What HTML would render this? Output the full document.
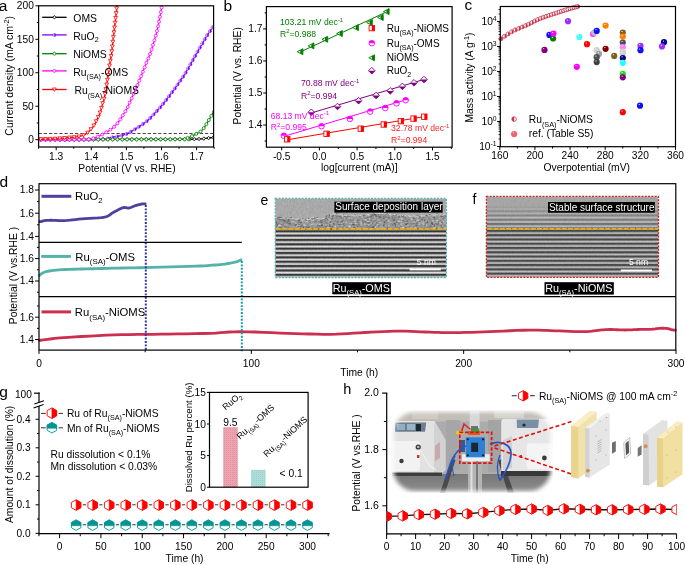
<!DOCTYPE html>
<html><head><meta charset="utf-8"><style>
html,body{margin:0;padding:0;background:#fff;}
svg{display:block;filter:blur(0.35px);font-family:"Liberation Sans",sans-serif;}
</style></head><body>
<svg width="685" height="565" viewBox="0 0 685 565">
<rect width="685" height="565" fill="#fff"/>
<defs><clipPath id="clipA"><rect x="38.6" y="5.8" width="175.0" height="141.2"/></clipPath></defs>
<line x1="38.60" y1="133.50" x2="213.60" y2="133.50" stroke="#333" stroke-width="0.9" stroke-dasharray="3.2,2"/>
<g clip-path="url(#clipA)">
<path d="M38.65,139.57 L46.35,139.55 L56.76,139.54 L69.24,139.52 L83.16,139.50 L97.88,139.48 L112.78,139.46 L127.22,139.44 L140.58,139.41 L152.22,139.39 L161.50,139.37 L168.64,139.35 L174.42,139.34 L179.03,139.34 L182.70,139.34 L185.63,139.33 L188.04,139.32 L190.12,139.29 L192.11,139.25 L194.20,139.19 L196.60,139.10 L199.14,138.97 L201.51,138.81 L203.71,138.61 L205.73,138.40 L207.57,138.18 L209.24,137.96 L210.73,137.75 L212.04,137.56 L213.18,137.40 L214.15,137.29" fill="none" stroke="#000000" stroke-width="1.3" stroke-linejoin="round" stroke-linecap="round"/>
<path d="M40.65,137.76 L42.15,139.56 L40.65,141.36 L39.15,139.56Z" fill="#fff" stroke="#000000" stroke-width="0.8"/>
<path d="M45.45,137.76 L46.95,139.56 L45.45,141.36 L43.95,139.56Z" fill="#fff" stroke="#000000" stroke-width="0.8"/>
<path d="M50.25,137.75 L51.75,139.55 L50.25,141.35 L48.75,139.55Z" fill="#fff" stroke="#000000" stroke-width="0.8"/>
<path d="M55.05,137.74 L56.55,139.54 L55.05,141.34 L53.55,139.54Z" fill="#fff" stroke="#000000" stroke-width="0.8"/>
<path d="M59.85,137.74 L61.35,139.54 L59.85,141.34 L58.35,139.54Z" fill="#fff" stroke="#000000" stroke-width="0.8"/>
<path d="M64.65,137.73 L66.15,139.53 L64.65,141.33 L63.15,139.53Z" fill="#fff" stroke="#000000" stroke-width="0.8"/>
<path d="M69.45,137.72 L70.95,139.52 L69.45,141.32 L67.95,139.52Z" fill="#fff" stroke="#000000" stroke-width="0.8"/>
<path d="M74.25,137.72 L75.75,139.52 L74.25,141.32 L72.75,139.52Z" fill="#fff" stroke="#000000" stroke-width="0.8"/>
<path d="M79.05,137.71 L80.55,139.51 L79.05,141.31 L77.55,139.51Z" fill="#fff" stroke="#000000" stroke-width="0.8"/>
<path d="M83.85,137.70 L85.35,139.50 L83.85,141.30 L82.35,139.50Z" fill="#fff" stroke="#000000" stroke-width="0.8"/>
<path d="M88.65,137.70 L90.15,139.50 L88.65,141.30 L87.15,139.50Z" fill="#fff" stroke="#000000" stroke-width="0.8"/>
<path d="M93.45,137.69 L94.95,139.49 L93.45,141.29 L91.95,139.49Z" fill="#fff" stroke="#000000" stroke-width="0.8"/>
<path d="M98.25,137.68 L99.75,139.48 L98.25,141.28 L96.75,139.48Z" fill="#fff" stroke="#000000" stroke-width="0.8"/>
<path d="M103.05,137.67 L104.55,139.47 L103.05,141.27 L101.55,139.47Z" fill="#fff" stroke="#000000" stroke-width="0.8"/>
<path d="M107.85,137.67 L109.35,139.47 L107.85,141.27 L106.35,139.47Z" fill="#fff" stroke="#000000" stroke-width="0.8"/>
<path d="M112.65,137.66 L114.15,139.46 L112.65,141.26 L111.15,139.46Z" fill="#fff" stroke="#000000" stroke-width="0.8"/>
<path d="M117.45,137.65 L118.95,139.45 L117.45,141.25 L115.95,139.45Z" fill="#fff" stroke="#000000" stroke-width="0.8"/>
<path d="M122.25,137.64 L123.75,139.44 L122.25,141.24 L120.75,139.44Z" fill="#fff" stroke="#000000" stroke-width="0.8"/>
<path d="M127.05,137.64 L128.55,139.44 L127.05,141.24 L125.55,139.44Z" fill="#fff" stroke="#000000" stroke-width="0.8"/>
<path d="M131.85,137.63 L133.35,139.43 L131.85,141.23 L130.35,139.43Z" fill="#fff" stroke="#000000" stroke-width="0.8"/>
<path d="M136.65,137.62 L138.15,139.42 L136.65,141.22 L135.15,139.42Z" fill="#fff" stroke="#000000" stroke-width="0.8"/>
<path d="M141.45,137.61 L142.95,139.41 L141.45,141.21 L139.95,139.41Z" fill="#fff" stroke="#000000" stroke-width="0.8"/>
<path d="M146.25,137.60 L147.75,139.40 L146.25,141.20 L144.75,139.40Z" fill="#fff" stroke="#000000" stroke-width="0.8"/>
<path d="M151.05,137.59 L152.55,139.39 L151.05,141.19 L149.55,139.39Z" fill="#fff" stroke="#000000" stroke-width="0.8"/>
<path d="M155.85,137.58 L157.35,139.38 L155.85,141.18 L154.35,139.38Z" fill="#fff" stroke="#000000" stroke-width="0.8"/>
<path d="M160.65,137.57 L162.15,139.37 L160.65,141.17 L159.15,139.37Z" fill="#fff" stroke="#000000" stroke-width="0.8"/>
<path d="M165.45,137.56 L166.95,139.36 L165.45,141.16 L163.95,139.36Z" fill="#fff" stroke="#000000" stroke-width="0.8"/>
<path d="M170.25,137.55 L171.75,139.35 L170.25,141.15 L168.75,139.35Z" fill="#fff" stroke="#000000" stroke-width="0.8"/>
<path d="M175.05,137.54 L176.55,139.34 L175.05,141.14 L173.55,139.34Z" fill="#fff" stroke="#000000" stroke-width="0.8"/>
<path d="M179.85,137.54 L181.35,139.34 L179.85,141.14 L178.35,139.34Z" fill="#fff" stroke="#000000" stroke-width="0.8"/>
<path d="M184.65,137.53 L186.15,139.33 L184.65,141.13 L183.15,139.33Z" fill="#fff" stroke="#000000" stroke-width="0.8"/>
<path d="M189.45,137.50 L190.95,139.30 L189.45,141.10 L187.95,139.30Z" fill="#fff" stroke="#000000" stroke-width="0.8"/>
<path d="M194.25,137.38 L195.75,139.18 L194.25,140.98 L192.75,139.18Z" fill="#fff" stroke="#000000" stroke-width="0.8"/>
<path d="M199.04,137.18 L200.54,138.98 L199.04,140.78 L197.54,138.98Z" fill="#fff" stroke="#000000" stroke-width="0.8"/>
<path d="M203.83,136.80 L205.33,138.60 L203.83,140.40 L202.33,138.60Z" fill="#fff" stroke="#000000" stroke-width="0.8"/>
<path d="M208.60,136.24 L210.10,138.04 L208.60,139.84 L207.10,138.04Z" fill="#fff" stroke="#000000" stroke-width="0.8"/>
<path d="M213.35,135.58 L214.85,137.38 L213.35,139.18 L211.85,137.38Z" fill="#fff" stroke="#000000" stroke-width="0.8"/>
<path d="M38.65,139.90 L42.41,139.88 L47.50,139.85 L53.61,139.83 L60.42,139.80 L67.62,139.76 L74.89,139.72 L81.91,139.66 L88.36,139.58 L93.94,139.48 L98.32,139.37 L101.58,139.22 L104.10,139.04 L105.99,138.85 L107.39,138.63 L108.40,138.41 L109.17,138.17 L109.81,137.94 L110.44,137.71 L111.19,137.49 L112.18,137.29 L113.31,137.10 L114.36,136.92 L115.37,136.75 L116.32,136.58 L117.23,136.41 L118.11,136.24 L118.96,136.07 L119.79,135.88 L120.60,135.69 L121.42,135.48 L122.20,135.28 L122.92,135.08 L123.61,134.89 L124.26,134.69 L124.91,134.48 L125.55,134.25 L126.21,134.00 L126.90,133.71 L127.62,133.38 L128.40,133.00 L129.23,132.58 L130.11,132.10 L131.01,131.59 L131.94,131.04 L132.89,130.46 L133.84,129.87 L134.80,129.26 L135.76,128.65 L136.71,128.04 L137.63,127.45 L138.55,126.86 L139.47,126.27 L140.40,125.68 L141.33,125.08 L142.25,124.48 L143.16,123.86 L144.07,123.23 L144.96,122.58 L145.83,121.91 L146.69,121.22 L147.52,120.51 L148.33,119.77 L149.13,119.02 L149.91,118.25 L150.68,117.46 L151.45,116.66 L152.21,115.85 L152.97,115.04 L153.74,114.21 L154.52,113.39 L155.30,112.56 L156.08,111.72 L156.86,110.88 L157.64,110.02 L158.42,109.16 L159.20,108.29 L159.98,107.40 L160.76,106.51 L161.53,105.60 L162.31,104.69 L163.08,103.76 L163.85,102.81 L164.62,101.86 L165.38,100.90 L166.15,99.92 L166.92,98.94 L167.68,97.95 L168.45,96.94 L169.22,95.93 L169.99,94.91 L170.77,93.88 L171.55,92.84 L172.32,91.79 L173.10,90.73 L173.88,89.67 L174.66,88.59 L175.44,87.51 L176.22,86.41 L177.01,85.31 L177.79,84.20 L178.57,83.09 L179.35,81.97 L180.13,80.86 L180.92,79.73 L181.70,78.60 L182.48,77.45 L183.27,76.28 L184.05,75.08 L184.83,73.87 L185.61,72.62 L186.39,71.33 L187.17,70.01 L187.95,68.65 L188.73,67.27 L189.51,65.88 L190.29,64.47 L191.07,63.07 L191.85,61.66 L192.63,60.27 L193.41,58.89 L194.19,57.51 L195.00,56.10 L195.81,54.68 L196.62,53.26 L197.43,51.84 L198.23,50.45 L199.01,49.09 L199.77,47.77 L200.50,46.50 L201.20,45.30 L201.86,44.17 L202.48,43.10 L203.08,42.07 L203.65,41.09 L204.21,40.15 L204.76,39.22 L205.31,38.31 L205.86,37.41 L206.42,36.51 L206.99,35.59 L207.58,34.67 L208.18,33.76 L208.79,32.86 L209.39,31.96 L210.00,31.08 L210.60,30.20 L211.20,29.34 L211.78,28.49 L212.34,27.65 L212.89,26.82 L213.43,25.98 L213.99,25.10 L214.55,24.21 L215.11,23.32 L215.64,22.46 L216.15,21.64 L216.61,20.88 L217.03,20.21 L217.38,19.64 L217.66,19.19" fill="none" stroke="#8000ff" stroke-width="1.3" stroke-linejoin="round" stroke-linecap="round"/>
<circle cx="40.65" cy="139.89" r="1.5" fill="#8000ff" stroke="#8000ff" stroke-width="0.6"/><rect x="39.15" y="138.39" width="1.50" height="3.00" fill="#fff" opacity="0.6"/>
<circle cx="45.45" cy="139.86" r="1.5" fill="#8000ff" stroke="#8000ff" stroke-width="0.6"/><rect x="43.95" y="138.36" width="1.50" height="3.00" fill="#fff" opacity="0.6"/>
<circle cx="50.25" cy="139.84" r="1.5" fill="#8000ff" stroke="#8000ff" stroke-width="0.6"/><rect x="48.75" y="138.34" width="1.50" height="3.00" fill="#fff" opacity="0.6"/>
<circle cx="55.05" cy="139.82" r="1.5" fill="#8000ff" stroke="#8000ff" stroke-width="0.6"/><rect x="53.55" y="138.32" width="1.50" height="3.00" fill="#fff" opacity="0.6"/>
<circle cx="59.85" cy="139.80" r="1.5" fill="#8000ff" stroke="#8000ff" stroke-width="0.6"/><rect x="58.35" y="138.30" width="1.50" height="3.00" fill="#fff" opacity="0.6"/>
<circle cx="64.65" cy="139.78" r="1.5" fill="#8000ff" stroke="#8000ff" stroke-width="0.6"/><rect x="63.15" y="138.28" width="1.50" height="3.00" fill="#fff" opacity="0.6"/>
<circle cx="69.45" cy="139.75" r="1.5" fill="#8000ff" stroke="#8000ff" stroke-width="0.6"/><rect x="67.95" y="138.25" width="1.50" height="3.00" fill="#fff" opacity="0.6"/>
<circle cx="74.25" cy="139.72" r="1.5" fill="#8000ff" stroke="#8000ff" stroke-width="0.6"/><rect x="72.75" y="138.22" width="1.50" height="3.00" fill="#fff" opacity="0.6"/>
<circle cx="79.05" cy="139.68" r="1.5" fill="#8000ff" stroke="#8000ff" stroke-width="0.6"/><rect x="77.55" y="138.18" width="1.50" height="3.00" fill="#fff" opacity="0.6"/>
<circle cx="83.85" cy="139.63" r="1.5" fill="#8000ff" stroke="#8000ff" stroke-width="0.6"/><rect x="82.35" y="138.13" width="1.50" height="3.00" fill="#fff" opacity="0.6"/>
<circle cx="88.65" cy="139.57" r="1.5" fill="#8000ff" stroke="#8000ff" stroke-width="0.6"/><rect x="87.15" y="138.07" width="1.50" height="3.00" fill="#fff" opacity="0.6"/>
<circle cx="93.45" cy="139.49" r="1.5" fill="#8000ff" stroke="#8000ff" stroke-width="0.6"/><rect x="91.95" y="137.99" width="1.50" height="3.00" fill="#fff" opacity="0.6"/>
<circle cx="98.25" cy="139.37" r="1.5" fill="#8000ff" stroke="#8000ff" stroke-width="0.6"/><rect x="96.75" y="137.87" width="1.50" height="3.00" fill="#fff" opacity="0.6"/>
<circle cx="103.04" cy="139.12" r="1.5" fill="#8000ff" stroke="#8000ff" stroke-width="0.6"/><rect x="101.54" y="137.62" width="1.50" height="3.00" fill="#fff" opacity="0.6"/>
<circle cx="107.80" cy="138.54" r="1.5" fill="#8000ff" stroke="#8000ff" stroke-width="0.6"/><rect x="106.30" y="137.04" width="1.50" height="3.00" fill="#fff" opacity="0.6"/>
<circle cx="112.41" cy="137.25" r="1.5" fill="#8000ff" stroke="#8000ff" stroke-width="0.6"/><rect x="110.91" y="135.75" width="1.50" height="3.00" fill="#fff" opacity="0.6"/>
<circle cx="117.14" cy="136.43" r="1.5" fill="#8000ff" stroke="#8000ff" stroke-width="0.6"/><rect x="115.64" y="134.93" width="1.50" height="3.00" fill="#fff" opacity="0.6"/>
<circle cx="121.82" cy="135.37" r="1.5" fill="#8000ff" stroke="#8000ff" stroke-width="0.6"/><rect x="120.32" y="133.87" width="1.50" height="3.00" fill="#fff" opacity="0.6"/>
<circle cx="126.39" cy="133.92" r="1.5" fill="#8000ff" stroke="#8000ff" stroke-width="0.6"/><rect x="124.89" y="132.42" width="1.50" height="3.00" fill="#fff" opacity="0.6"/>
<circle cx="130.68" cy="131.77" r="1.5" fill="#8000ff" stroke="#8000ff" stroke-width="0.6"/><rect x="129.18" y="130.27" width="1.50" height="3.00" fill="#fff" opacity="0.6"/>
<circle cx="134.78" cy="129.28" r="1.5" fill="#8000ff" stroke="#8000ff" stroke-width="0.6"/><rect x="133.28" y="127.78" width="1.50" height="3.00" fill="#fff" opacity="0.6"/>
<circle cx="138.82" cy="126.69" r="1.5" fill="#8000ff" stroke="#8000ff" stroke-width="0.6"/><rect x="137.32" y="125.19" width="1.50" height="3.00" fill="#fff" opacity="0.6"/>
<circle cx="142.85" cy="124.07" r="1.5" fill="#8000ff" stroke="#8000ff" stroke-width="0.6"/><rect x="141.35" y="122.57" width="1.50" height="3.00" fill="#fff" opacity="0.6"/>
<circle cx="146.70" cy="121.21" r="1.5" fill="#8000ff" stroke="#8000ff" stroke-width="0.6"/><rect x="145.20" y="119.71" width="1.50" height="3.00" fill="#fff" opacity="0.6"/>
<circle cx="150.21" cy="117.94" r="1.5" fill="#8000ff" stroke="#8000ff" stroke-width="0.6"/><rect x="148.71" y="116.44" width="1.50" height="3.00" fill="#fff" opacity="0.6"/>
<circle cx="153.51" cy="114.46" r="1.5" fill="#8000ff" stroke="#8000ff" stroke-width="0.6"/><rect x="152.01" y="112.96" width="1.50" height="3.00" fill="#fff" opacity="0.6"/>
<circle cx="156.79" cy="110.95" r="1.5" fill="#8000ff" stroke="#8000ff" stroke-width="0.6"/><rect x="155.29" y="109.45" width="1.50" height="3.00" fill="#fff" opacity="0.6"/>
<circle cx="160.00" cy="107.38" r="1.5" fill="#8000ff" stroke="#8000ff" stroke-width="0.6"/><rect x="158.50" y="105.88" width="1.50" height="3.00" fill="#fff" opacity="0.6"/>
<circle cx="163.11" cy="103.72" r="1.5" fill="#8000ff" stroke="#8000ff" stroke-width="0.6"/><rect x="161.61" y="102.22" width="1.50" height="3.00" fill="#fff" opacity="0.6"/>
<circle cx="166.11" cy="99.98" r="1.5" fill="#8000ff" stroke="#8000ff" stroke-width="0.6"/><rect x="164.61" y="98.48" width="1.50" height="3.00" fill="#fff" opacity="0.6"/>
<circle cx="169.04" cy="96.17" r="1.5" fill="#8000ff" stroke="#8000ff" stroke-width="0.6"/><rect x="167.54" y="94.67" width="1.50" height="3.00" fill="#fff" opacity="0.6"/>
<circle cx="171.92" cy="92.33" r="1.5" fill="#8000ff" stroke="#8000ff" stroke-width="0.6"/><rect x="170.42" y="90.83" width="1.50" height="3.00" fill="#fff" opacity="0.6"/>
<circle cx="174.76" cy="88.46" r="1.5" fill="#8000ff" stroke="#8000ff" stroke-width="0.6"/><rect x="173.26" y="86.96" width="1.50" height="3.00" fill="#fff" opacity="0.6"/>
<circle cx="177.54" cy="84.55" r="1.5" fill="#8000ff" stroke="#8000ff" stroke-width="0.6"/><rect x="176.04" y="83.05" width="1.50" height="3.00" fill="#fff" opacity="0.6"/>
<circle cx="180.30" cy="80.62" r="1.5" fill="#8000ff" stroke="#8000ff" stroke-width="0.6"/><rect x="178.80" y="79.12" width="1.50" height="3.00" fill="#fff" opacity="0.6"/>
<circle cx="183.01" cy="76.66" r="1.5" fill="#8000ff" stroke="#8000ff" stroke-width="0.6"/><rect x="181.51" y="75.16" width="1.50" height="3.00" fill="#fff" opacity="0.6"/>
<circle cx="185.61" cy="72.63" r="1.5" fill="#8000ff" stroke="#8000ff" stroke-width="0.6"/><rect x="184.11" y="71.13" width="1.50" height="3.00" fill="#fff" opacity="0.6"/>
<circle cx="188.04" cy="68.49" r="1.5" fill="#8000ff" stroke="#8000ff" stroke-width="0.6"/><rect x="186.54" y="66.99" width="1.50" height="3.00" fill="#fff" opacity="0.6"/>
<circle cx="190.39" cy="64.30" r="1.5" fill="#8000ff" stroke="#8000ff" stroke-width="0.6"/><rect x="188.89" y="62.80" width="1.50" height="3.00" fill="#fff" opacity="0.6"/>
<circle cx="192.72" cy="60.11" r="1.5" fill="#8000ff" stroke="#8000ff" stroke-width="0.6"/><rect x="191.22" y="58.61" width="1.50" height="3.00" fill="#fff" opacity="0.6"/>
<circle cx="195.09" cy="55.93" r="1.5" fill="#8000ff" stroke="#8000ff" stroke-width="0.6"/><rect x="193.59" y="54.43" width="1.50" height="3.00" fill="#fff" opacity="0.6"/>
<circle cx="197.47" cy="51.77" r="1.5" fill="#8000ff" stroke="#8000ff" stroke-width="0.6"/><rect x="195.97" y="50.27" width="1.50" height="3.00" fill="#fff" opacity="0.6"/>
<circle cx="199.86" cy="47.60" r="1.5" fill="#8000ff" stroke="#8000ff" stroke-width="0.6"/><rect x="198.36" y="46.10" width="1.50" height="3.00" fill="#fff" opacity="0.6"/>
<circle cx="202.27" cy="43.45" r="1.5" fill="#8000ff" stroke="#8000ff" stroke-width="0.6"/><rect x="200.77" y="41.95" width="1.50" height="3.00" fill="#fff" opacity="0.6"/>
<circle cx="204.71" cy="39.31" r="1.5" fill="#8000ff" stroke="#8000ff" stroke-width="0.6"/><rect x="203.21" y="37.81" width="1.50" height="3.00" fill="#fff" opacity="0.6"/>
<circle cx="207.22" cy="35.23" r="1.5" fill="#8000ff" stroke="#8000ff" stroke-width="0.6"/><rect x="205.72" y="33.73" width="1.50" height="3.00" fill="#fff" opacity="0.6"/>
<circle cx="209.89" cy="31.24" r="1.5" fill="#8000ff" stroke="#8000ff" stroke-width="0.6"/><rect x="208.39" y="29.74" width="1.50" height="3.00" fill="#fff" opacity="0.6"/>
<circle cx="212.59" cy="27.27" r="1.5" fill="#8000ff" stroke="#8000ff" stroke-width="0.6"/><rect x="211.09" y="25.77" width="1.50" height="3.00" fill="#fff" opacity="0.6"/>
<circle cx="215.17" cy="23.22" r="1.5" fill="#8000ff" stroke="#8000ff" stroke-width="0.6"/><rect x="213.67" y="21.72" width="1.50" height="3.00" fill="#fff" opacity="0.6"/>
<path d="M38.65,139.40 L47.36,139.40 L59.29,139.40 L73.64,139.40 L89.62,139.41 L106.44,139.41 L123.31,139.40 L139.45,139.39 L154.06,139.37 L166.35,139.34 L175.54,139.30 L181.71,139.25 L185.74,139.22 L188.00,139.19 L188.87,139.15 L188.72,139.10 L187.95,139.03 L186.92,138.93 L186.01,138.79 L185.60,138.60 L186.07,138.36 L187.12,138.06 L188.18,137.70 L189.25,137.29 L190.33,136.84 L191.39,136.37 L192.43,135.87 L193.45,135.36 L194.43,134.85 L195.37,134.36 L196.25,133.88 L197.06,133.45 L197.78,133.09 L198.45,132.78 L199.09,132.46 L199.70,132.13 L200.30,131.73 L200.93,131.25 L201.59,130.66 L202.30,129.91 L203.09,128.99 L203.98,127.82 L204.94,126.42 L205.97,124.83 L207.04,123.11 L208.12,121.33 L209.19,119.54 L210.22,117.79 L211.20,116.14 L212.10,114.66 L212.89,113.39 L213.59,112.30 L214.24,111.30 L214.84,110.39 L215.39,109.57 L215.89,108.83 L216.34,108.17 L216.74,107.58 L217.09,107.06 L217.40,106.61 L217.66,106.22" fill="none" stroke="#008000" stroke-width="1.3" stroke-linejoin="round" stroke-linecap="round"/>
<circle cx="40.65" cy="139.40" r="1.5" fill="#fff" stroke="#008000" stroke-width="0.8"/>
<circle cx="45.45" cy="139.40" r="1.5" fill="#fff" stroke="#008000" stroke-width="0.8"/>
<circle cx="50.25" cy="139.40" r="1.5" fill="#fff" stroke="#008000" stroke-width="0.8"/>
<circle cx="55.05" cy="139.40" r="1.5" fill="#fff" stroke="#008000" stroke-width="0.8"/>
<circle cx="59.85" cy="139.40" r="1.5" fill="#fff" stroke="#008000" stroke-width="0.8"/>
<circle cx="64.65" cy="139.40" r="1.5" fill="#fff" stroke="#008000" stroke-width="0.8"/>
<circle cx="69.45" cy="139.40" r="1.5" fill="#fff" stroke="#008000" stroke-width="0.8"/>
<circle cx="74.25" cy="139.40" r="1.5" fill="#fff" stroke="#008000" stroke-width="0.8"/>
<circle cx="79.05" cy="139.40" r="1.5" fill="#fff" stroke="#008000" stroke-width="0.8"/>
<circle cx="83.85" cy="139.40" r="1.5" fill="#fff" stroke="#008000" stroke-width="0.8"/>
<circle cx="88.65" cy="139.41" r="1.5" fill="#fff" stroke="#008000" stroke-width="0.8"/>
<circle cx="93.45" cy="139.41" r="1.5" fill="#fff" stroke="#008000" stroke-width="0.8"/>
<circle cx="98.25" cy="139.41" r="1.5" fill="#fff" stroke="#008000" stroke-width="0.8"/>
<circle cx="103.05" cy="139.41" r="1.5" fill="#fff" stroke="#008000" stroke-width="0.8"/>
<circle cx="107.85" cy="139.41" r="1.5" fill="#fff" stroke="#008000" stroke-width="0.8"/>
<circle cx="112.65" cy="139.41" r="1.5" fill="#fff" stroke="#008000" stroke-width="0.8"/>
<circle cx="117.45" cy="139.40" r="1.5" fill="#fff" stroke="#008000" stroke-width="0.8"/>
<circle cx="122.25" cy="139.40" r="1.5" fill="#fff" stroke="#008000" stroke-width="0.8"/>
<circle cx="127.05" cy="139.40" r="1.5" fill="#fff" stroke="#008000" stroke-width="0.8"/>
<circle cx="131.85" cy="139.40" r="1.5" fill="#fff" stroke="#008000" stroke-width="0.8"/>
<circle cx="136.65" cy="139.39" r="1.5" fill="#fff" stroke="#008000" stroke-width="0.8"/>
<circle cx="141.45" cy="139.39" r="1.5" fill="#fff" stroke="#008000" stroke-width="0.8"/>
<circle cx="146.25" cy="139.38" r="1.5" fill="#fff" stroke="#008000" stroke-width="0.8"/>
<circle cx="151.05" cy="139.38" r="1.5" fill="#fff" stroke="#008000" stroke-width="0.8"/>
<circle cx="155.85" cy="139.37" r="1.5" fill="#fff" stroke="#008000" stroke-width="0.8"/>
<circle cx="160.65" cy="139.36" r="1.5" fill="#fff" stroke="#008000" stroke-width="0.8"/>
<circle cx="165.45" cy="139.34" r="1.5" fill="#fff" stroke="#008000" stroke-width="0.8"/>
<circle cx="170.25" cy="139.32" r="1.5" fill="#fff" stroke="#008000" stroke-width="0.8"/>
<circle cx="175.05" cy="139.30" r="1.5" fill="#fff" stroke="#008000" stroke-width="0.8"/>
<circle cx="179.85" cy="139.27" r="1.5" fill="#fff" stroke="#008000" stroke-width="0.8"/>
<circle cx="184.65" cy="139.23" r="1.5" fill="#fff" stroke="#008000" stroke-width="0.8"/>
<circle cx="188.30" cy="139.06" r="1.5" fill="#fff" stroke="#008000" stroke-width="0.8"/>
<circle cx="187.52" cy="137.92" r="1.5" fill="#fff" stroke="#008000" stroke-width="0.8"/>
<circle cx="191.96" cy="136.10" r="1.5" fill="#fff" stroke="#008000" stroke-width="0.8"/>
<circle cx="196.22" cy="133.89" r="1.5" fill="#fff" stroke="#008000" stroke-width="0.8"/>
<circle cx="200.45" cy="131.62" r="1.5" fill="#fff" stroke="#008000" stroke-width="0.8"/>
<circle cx="203.73" cy="128.15" r="1.5" fill="#fff" stroke="#008000" stroke-width="0.8"/>
<circle cx="206.39" cy="124.16" r="1.5" fill="#fff" stroke="#008000" stroke-width="0.8"/>
<circle cx="208.88" cy="120.05" r="1.5" fill="#fff" stroke="#008000" stroke-width="0.8"/>
<circle cx="211.33" cy="115.93" r="1.5" fill="#fff" stroke="#008000" stroke-width="0.8"/>
<circle cx="213.88" cy="111.86" r="1.5" fill="#fff" stroke="#008000" stroke-width="0.8"/>
<circle cx="216.54" cy="107.87" r="1.5" fill="#fff" stroke="#008000" stroke-width="0.8"/>
<path d="M38.65,139.70 L41.54,139.69 L45.47,139.67 L50.20,139.65 L55.47,139.63 L61.03,139.61 L66.62,139.59 L71.99,139.56 L76.89,139.52 L81.08,139.48 L84.28,139.43 L86.55,139.38 L88.16,139.34 L89.23,139.29 L89.88,139.24 L90.22,139.18 L90.37,139.11 L90.43,139.03 L90.53,138.94 L90.78,138.83 L91.30,138.70 L91.99,138.54 L92.69,138.37 L93.39,138.19 L94.09,137.98 L94.78,137.77 L95.46,137.55 L96.13,137.32 L96.78,137.09 L97.40,136.85 L98.00,136.62 L98.57,136.39 L99.11,136.14 L99.63,135.90 L100.12,135.65 L100.61,135.39 L101.08,135.13 L101.55,134.87 L102.02,134.61 L102.50,134.34 L102.99,134.08 L103.49,133.81 L103.99,133.54 L104.49,133.27 L104.99,133.00 L105.49,132.73 L105.99,132.45 L106.48,132.18 L106.96,131.90 L107.44,131.61 L107.90,131.33 L108.36,131.05 L108.80,130.77 L109.24,130.49 L109.66,130.21 L110.09,129.93 L110.51,129.64 L110.92,129.34 L111.34,129.04 L111.76,128.72 L112.18,128.39 L112.61,128.04 L113.04,127.68 L113.48,127.31 L113.91,126.94 L114.34,126.55 L114.77,126.15 L115.19,125.75 L115.60,125.34 L116.00,124.92 L116.40,124.50 L116.78,124.07 L117.14,123.64 L117.50,123.20 L117.85,122.75 L118.19,122.30 L118.53,121.83 L118.87,121.36 L119.21,120.88 L119.56,120.39 L119.91,119.88 L120.26,119.37 L120.62,118.83 L120.98,118.29 L121.34,117.74 L121.70,117.18 L122.06,116.61 L122.42,116.04 L122.77,115.47 L123.13,114.89 L123.49,114.33 L123.85,113.76 L124.21,113.18 L124.58,112.60 L124.95,112.02 L125.32,111.43 L125.68,110.85 L126.03,110.27 L126.37,109.70 L126.69,109.13 L127.00,108.57 L127.27,108.04 L127.51,107.54 L127.73,107.07 L127.93,106.61 L128.13,106.14 L128.34,105.65 L128.55,105.13 L128.79,104.56 L129.07,103.92 L129.38,103.21 L129.74,102.42 L130.14,101.56 L130.56,100.65 L131.00,99.68 L131.46,98.68 L131.93,97.66 L132.41,96.62 L132.88,95.57 L133.35,94.53 L133.81,93.50 L134.25,92.48 L134.70,91.45 L135.15,90.40 L135.60,89.34 L136.05,88.27 L136.51,87.20 L136.96,86.13 L137.41,85.06 L137.85,83.99 L138.30,82.93 L138.75,81.86 L139.20,80.77 L139.65,79.68 L140.10,78.59 L140.55,77.50 L141.00,76.42 L141.44,75.35 L141.87,74.30 L142.28,73.28 L142.69,72.28 L143.07,71.32 L143.44,70.39 L143.80,69.48 L144.15,68.59 L144.49,67.71 L144.83,66.85 L145.16,65.98 L145.50,65.12 L145.85,64.25 L146.20,63.38 L146.55,62.50 L146.91,61.65 L147.28,60.80 L147.64,59.95 L148.01,59.10 L148.37,58.25 L148.73,57.38 L149.10,56.48 L149.46,55.56 L149.81,54.61 L150.16,53.62 L150.51,52.62 L150.86,51.59 L151.21,50.54 L151.55,49.48 L151.89,48.39 L152.24,47.29 L152.58,46.18 L152.93,45.04 L153.29,43.89 L153.65,42.72 L154.02,41.52 L154.39,40.30 L154.77,39.06 L155.15,37.80 L155.52,36.54 L155.89,35.27 L156.24,34.01 L156.58,32.75 L156.90,31.51 L157.20,30.27 L157.49,29.04 L157.76,27.81 L158.03,26.58 L158.28,25.35 L158.53,24.12 L158.77,22.89 L159.01,21.66 L159.26,20.42 L159.50,19.19 L159.75,17.93 L160.00,16.64 L160.25,15.33 L160.51,14.02 L160.75,12.71 L160.99,11.42 L161.22,10.18 L161.44,8.98 L161.64,7.85 L161.82,6.80 L161.98,5.81 L162.13,4.84 L162.27,3.91 L162.39,3.02 L162.50,2.18 L162.61,1.41 L162.70,0.70 L162.78,0.08 L162.84,-0.46 L162.90,-0.90" fill="none" stroke="#ff00ff" stroke-width="1.3" stroke-linejoin="round" stroke-linecap="round"/>
<circle cx="40.65" cy="139.69" r="1.5" fill="#fff" stroke="#ff00ff" stroke-width="0.8"/>
<circle cx="45.45" cy="139.67" r="1.5" fill="#fff" stroke="#ff00ff" stroke-width="0.8"/>
<circle cx="50.25" cy="139.65" r="1.5" fill="#fff" stroke="#ff00ff" stroke-width="0.8"/>
<circle cx="55.05" cy="139.64" r="1.5" fill="#fff" stroke="#ff00ff" stroke-width="0.8"/>
<circle cx="59.85" cy="139.62" r="1.5" fill="#fff" stroke="#ff00ff" stroke-width="0.8"/>
<circle cx="64.65" cy="139.60" r="1.5" fill="#fff" stroke="#ff00ff" stroke-width="0.8"/>
<circle cx="69.45" cy="139.57" r="1.5" fill="#fff" stroke="#ff00ff" stroke-width="0.8"/>
<circle cx="74.25" cy="139.54" r="1.5" fill="#fff" stroke="#ff00ff" stroke-width="0.8"/>
<circle cx="79.05" cy="139.50" r="1.5" fill="#fff" stroke="#ff00ff" stroke-width="0.8"/>
<circle cx="83.85" cy="139.44" r="1.5" fill="#fff" stroke="#ff00ff" stroke-width="0.8"/>
<circle cx="88.65" cy="139.31" r="1.5" fill="#fff" stroke="#ff00ff" stroke-width="0.8"/>
<circle cx="93.25" cy="138.22" r="1.5" fill="#fff" stroke="#ff00ff" stroke-width="0.8"/>
<circle cx="97.80" cy="136.70" r="1.5" fill="#fff" stroke="#ff00ff" stroke-width="0.8"/>
<circle cx="102.10" cy="134.56" r="1.5" fill="#fff" stroke="#ff00ff" stroke-width="0.8"/>
<circle cx="106.31" cy="132.27" r="1.5" fill="#fff" stroke="#ff00ff" stroke-width="0.8"/>
<circle cx="110.38" cy="129.73" r="1.5" fill="#fff" stroke="#ff00ff" stroke-width="0.8"/>
<circle cx="114.13" cy="126.73" r="1.5" fill="#fff" stroke="#ff00ff" stroke-width="0.8"/>
<circle cx="117.44" cy="123.27" r="1.5" fill="#fff" stroke="#ff00ff" stroke-width="0.8"/>
<circle cx="120.25" cy="119.38" r="1.5" fill="#fff" stroke="#ff00ff" stroke-width="0.8"/>
<circle cx="122.85" cy="115.34" r="1.5" fill="#fff" stroke="#ff00ff" stroke-width="0.8"/>
<circle cx="125.41" cy="111.28" r="1.5" fill="#fff" stroke="#ff00ff" stroke-width="0.8"/>
<circle cx="127.73" cy="107.08" r="1.5" fill="#fff" stroke="#ff00ff" stroke-width="0.8"/>
<circle cx="129.63" cy="102.67" r="1.5" fill="#fff" stroke="#ff00ff" stroke-width="0.8"/>
<circle cx="131.63" cy="98.31" r="1.5" fill="#fff" stroke="#ff00ff" stroke-width="0.8"/>
<circle cx="133.61" cy="93.94" r="1.5" fill="#fff" stroke="#ff00ff" stroke-width="0.8"/>
<circle cx="135.52" cy="89.54" r="1.5" fill="#fff" stroke="#ff00ff" stroke-width="0.8"/>
<circle cx="137.38" cy="85.11" r="1.5" fill="#fff" stroke="#ff00ff" stroke-width="0.8"/>
<circle cx="139.23" cy="80.68" r="1.5" fill="#fff" stroke="#ff00ff" stroke-width="0.8"/>
<circle cx="141.07" cy="76.25" r="1.5" fill="#fff" stroke="#ff00ff" stroke-width="0.8"/>
<circle cx="142.88" cy="71.80" r="1.5" fill="#fff" stroke="#ff00ff" stroke-width="0.8"/>
<circle cx="144.64" cy="67.34" r="1.5" fill="#fff" stroke="#ff00ff" stroke-width="0.8"/>
<circle cx="146.40" cy="62.87" r="1.5" fill="#fff" stroke="#ff00ff" stroke-width="0.8"/>
<circle cx="148.28" cy="58.46" r="1.5" fill="#fff" stroke="#ff00ff" stroke-width="0.8"/>
<circle cx="150.03" cy="53.99" r="1.5" fill="#fff" stroke="#ff00ff" stroke-width="0.8"/>
<circle cx="151.56" cy="49.44" r="1.5" fill="#fff" stroke="#ff00ff" stroke-width="0.8"/>
<circle cx="152.99" cy="44.86" r="1.5" fill="#fff" stroke="#ff00ff" stroke-width="0.8"/>
<circle cx="154.40" cy="40.27" r="1.5" fill="#fff" stroke="#ff00ff" stroke-width="0.8"/>
<circle cx="155.77" cy="35.67" r="1.5" fill="#fff" stroke="#ff00ff" stroke-width="0.8"/>
<circle cx="157.02" cy="31.03" r="1.5" fill="#fff" stroke="#ff00ff" stroke-width="0.8"/>
<circle cx="158.08" cy="26.35" r="1.5" fill="#fff" stroke="#ff00ff" stroke-width="0.8"/>
<circle cx="159.02" cy="21.64" r="1.5" fill="#fff" stroke="#ff00ff" stroke-width="0.8"/>
<circle cx="159.94" cy="16.93" r="1.5" fill="#fff" stroke="#ff00ff" stroke-width="0.8"/>
<circle cx="160.84" cy="12.22" r="1.5" fill="#fff" stroke="#ff00ff" stroke-width="0.8"/>
<circle cx="161.70" cy="7.50" r="1.5" fill="#fff" stroke="#ff00ff" stroke-width="0.8"/>
<circle cx="162.43" cy="2.75" r="1.5" fill="#fff" stroke="#ff00ff" stroke-width="0.8"/>
<path d="M38.65,139.16 L39.71,139.14 L41.10,139.10 L42.74,139.06 L44.59,139.02 L46.56,138.97 L48.61,138.91 L50.66,138.85 L52.65,138.78 L54.52,138.71 L56.20,138.63 L57.76,138.54 L59.31,138.43 L60.83,138.32 L62.31,138.19 L63.75,138.07 L65.14,137.94 L66.47,137.82 L67.72,137.70 L68.90,137.59 L69.99,137.49 L70.98,137.41 L71.86,137.34 L72.66,137.28 L73.38,137.22 L74.05,137.17 L74.68,137.12 L75.28,137.06 L75.87,136.99 L76.47,136.92 L77.08,136.82 L77.71,136.71 L78.32,136.60 L78.92,136.48 L79.50,136.35 L80.07,136.21 L80.62,136.07 L81.16,135.91 L81.68,135.76 L82.20,135.59 L82.70,135.42 L83.19,135.24 L83.66,135.06 L84.12,134.87 L84.56,134.68 L84.99,134.48 L85.41,134.27 L85.83,134.04 L86.23,133.80 L86.63,133.55 L87.02,133.27 L87.40,132.97 L87.78,132.65 L88.14,132.31 L88.50,131.95 L88.84,131.59 L89.18,131.21 L89.52,130.83 L89.85,130.46 L90.17,130.09 L90.49,129.72 L90.81,129.38 L91.11,129.04 L91.41,128.70 L91.70,128.37 L91.99,128.04 L92.28,127.70 L92.56,127.34 L92.84,126.98 L93.12,126.59 L93.41,126.18 L93.69,125.73 L93.99,125.26 L94.28,124.77 L94.57,124.26 L94.86,123.74 L95.15,123.22 L95.43,122.70 L95.70,122.19 L95.96,121.69 L96.21,121.22 L96.45,120.77 L96.68,120.34 L96.90,119.91 L97.11,119.50 L97.31,119.09 L97.51,118.68 L97.70,118.28 L97.90,117.86 L98.09,117.44 L98.28,117.00 L98.48,116.56 L98.67,116.10 L98.86,115.65 L99.05,115.18 L99.24,114.72 L99.42,114.25 L99.60,113.78 L99.78,113.31 L99.95,112.85 L100.11,112.38 L100.27,111.93 L100.42,111.47 L100.57,111.01 L100.72,110.55 L100.86,110.09 L101.00,109.64 L101.13,109.18 L101.26,108.73 L101.39,108.28 L101.51,107.83 L101.63,107.39 L101.74,106.96 L101.85,106.54 L101.95,106.12 L102.04,105.69 L102.14,105.27 L102.25,104.84 L102.36,104.40 L102.47,103.95 L102.60,103.48 L102.74,103.02 L102.89,102.57 L103.05,102.12 L103.21,101.67 L103.37,101.21 L103.54,100.72 L103.71,100.20 L103.88,99.63 L104.05,99.01 L104.22,98.32 L104.38,97.59 L104.54,96.81 L104.70,95.99 L104.86,95.13 L105.02,94.22 L105.19,93.28 L105.36,92.30 L105.53,91.27 L105.71,90.20 L105.90,89.09 L106.10,87.90 L106.32,86.64 L106.54,85.30 L106.77,83.92 L107.01,82.51 L107.24,81.09 L107.47,79.67 L107.70,78.28 L107.91,76.92 L108.11,75.63 L108.30,74.38 L108.48,73.15 L108.66,71.94 L108.82,70.74 L108.99,69.56 L109.15,68.40 L109.31,67.25 L109.47,66.13 L109.63,65.01 L109.80,63.91 L109.97,62.86 L110.14,61.87 L110.31,60.92 L110.48,60.00 L110.66,59.08 L110.83,58.14 L111.00,57.16 L111.18,56.12 L111.35,55.01 L111.52,53.80 L111.69,52.50 L111.85,51.11 L112.02,49.67 L112.18,48.17 L112.34,46.62 L112.51,45.04 L112.67,43.44 L112.85,41.83 L113.02,40.21 L113.20,38.61 L113.39,36.98 L113.59,35.32 L113.79,33.63 L114.00,31.92 L114.20,30.20 L114.41,28.48 L114.62,26.77 L114.82,25.08 L115.01,23.42 L115.20,21.80 L115.39,20.19 L115.57,18.57 L115.75,16.94 L115.93,15.33 L116.10,13.74 L116.27,12.19 L116.44,10.70 L116.59,9.27 L116.75,7.92 L116.89,6.67 L117.03,5.49 L117.16,4.35 L117.29,3.26 L117.42,2.23 L117.54,1.27 L117.65,0.39 L117.75,-0.41 L117.84,-1.12 L117.91,-1.73 L117.98,-2.23" fill="none" stroke="#ff0000" stroke-width="1.3" stroke-linejoin="round" stroke-linecap="round"/>
<path d="M40.65,140.91 L42.55,137.61 L38.75,137.61Z" fill="#fff" stroke="#ff0000" stroke-width="0.8"/>
<path d="M45.45,140.80 L47.35,137.50 L43.55,137.50Z" fill="#fff" stroke="#ff0000" stroke-width="0.8"/>
<path d="M50.25,140.66 L52.15,137.36 L48.35,137.36Z" fill="#fff" stroke="#ff0000" stroke-width="0.8"/>
<path d="M55.04,140.48 L56.94,137.18 L53.14,137.18Z" fill="#fff" stroke="#ff0000" stroke-width="0.8"/>
<path d="M59.83,140.19 L61.73,136.89 L57.93,136.89Z" fill="#fff" stroke="#ff0000" stroke-width="0.8"/>
<path d="M64.62,139.79 L66.52,136.49 L62.72,136.49Z" fill="#fff" stroke="#ff0000" stroke-width="0.8"/>
<path d="M69.40,139.34 L71.30,136.04 L67.50,136.04Z" fill="#fff" stroke="#ff0000" stroke-width="0.8"/>
<path d="M74.18,138.96 L76.08,135.66 L72.28,135.66Z" fill="#fff" stroke="#ff0000" stroke-width="0.8"/>
<path d="M78.93,138.27 L80.83,134.97 L77.03,134.97Z" fill="#fff" stroke="#ff0000" stroke-width="0.8"/>
<path d="M83.52,136.91 L85.42,133.61 L81.62,133.61Z" fill="#fff" stroke="#ff0000" stroke-width="0.8"/>
<path d="M87.67,134.54 L89.57,131.24 L85.77,131.24Z" fill="#fff" stroke="#ff0000" stroke-width="0.8"/>
<path d="M90.94,131.03 L92.84,127.73 L89.04,127.73Z" fill="#fff" stroke="#ff0000" stroke-width="0.8"/>
<path d="M93.87,127.24 L95.77,123.94 L91.97,123.94Z" fill="#fff" stroke="#ff0000" stroke-width="0.8"/>
<path d="M96.20,123.05 L98.10,119.75 L94.30,119.75Z" fill="#fff" stroke="#ff0000" stroke-width="0.8"/>
<path d="M98.31,118.74 L100.21,115.44 L96.41,115.44Z" fill="#fff" stroke="#ff0000" stroke-width="0.8"/>
<path d="M100.08,114.28 L101.98,110.98 L98.18,110.98Z" fill="#fff" stroke="#ff0000" stroke-width="0.8"/>
<path d="M101.50,109.69 L103.40,106.39 L99.60,106.39Z" fill="#fff" stroke="#ff0000" stroke-width="0.8"/>
<path d="M102.67,105.04 L104.57,101.74 L100.77,101.74Z" fill="#fff" stroke="#ff0000" stroke-width="0.8"/>
<path d="M104.13,100.47 L106.03,97.17 L102.23,97.17Z" fill="#fff" stroke="#ff0000" stroke-width="0.8"/>
<path d="M105.07,95.76 L106.97,92.46 L103.17,92.46Z" fill="#fff" stroke="#ff0000" stroke-width="0.8"/>
<path d="M105.88,91.03 L107.78,87.73 L103.98,87.73Z" fill="#fff" stroke="#ff0000" stroke-width="0.8"/>
<path d="M106.68,86.30 L108.58,83.00 L104.78,83.00Z" fill="#fff" stroke="#ff0000" stroke-width="0.8"/>
<path d="M107.46,81.56 L109.36,78.26 L105.56,78.26Z" fill="#fff" stroke="#ff0000" stroke-width="0.8"/>
<path d="M108.21,76.82 L110.11,73.52 L106.31,73.52Z" fill="#fff" stroke="#ff0000" stroke-width="0.8"/>
<path d="M108.89,72.07 L110.79,68.77 L106.99,68.77Z" fill="#fff" stroke="#ff0000" stroke-width="0.8"/>
<path d="M109.56,67.31 L111.46,64.01 L107.66,64.01Z" fill="#fff" stroke="#ff0000" stroke-width="0.8"/>
<path d="M110.34,62.58 L112.24,59.28 L108.44,59.28Z" fill="#fff" stroke="#ff0000" stroke-width="0.8"/>
<path d="M111.19,57.85 L113.09,54.55 L109.29,54.55Z" fill="#fff" stroke="#ff0000" stroke-width="0.8"/>
<path d="M111.83,53.10 L113.73,49.80 L109.93,49.80Z" fill="#fff" stroke="#ff0000" stroke-width="0.8"/>
<path d="M112.35,48.33 L114.25,45.03 L110.45,45.03Z" fill="#fff" stroke="#ff0000" stroke-width="0.8"/>
<path d="M112.85,43.55 L114.75,40.25 L110.95,40.25Z" fill="#fff" stroke="#ff0000" stroke-width="0.8"/>
<path d="M113.39,38.78 L115.29,35.48 L111.49,35.48Z" fill="#fff" stroke="#ff0000" stroke-width="0.8"/>
<path d="M113.96,34.02 L115.86,30.72 L112.06,30.72Z" fill="#fff" stroke="#ff0000" stroke-width="0.8"/>
<path d="M114.53,29.25 L116.43,25.95 L112.63,25.95Z" fill="#fff" stroke="#ff0000" stroke-width="0.8"/>
<path d="M115.10,24.49 L117.00,21.19 L113.20,21.19Z" fill="#fff" stroke="#ff0000" stroke-width="0.8"/>
<path d="M115.64,19.72 L117.54,16.42 L113.74,16.42Z" fill="#fff" stroke="#ff0000" stroke-width="0.8"/>
<path d="M116.17,14.95 L118.07,11.65 L114.27,11.65Z" fill="#fff" stroke="#ff0000" stroke-width="0.8"/>
<path d="M116.69,10.17 L118.59,6.87 L114.79,6.87Z" fill="#fff" stroke="#ff0000" stroke-width="0.8"/>
<path d="M117.25,5.41 L119.15,2.11 L115.35,2.11Z" fill="#fff" stroke="#ff0000" stroke-width="0.8"/>
<path d="M117.84,0.64 L119.74,-2.66 L115.94,-2.66Z" fill="#fff" stroke="#ff0000" stroke-width="0.8"/>
</g>
<rect x="38.6" y="5.8" width="175.0" height="141.2" fill="none" stroke="#000" stroke-width="1.2"/>
<line x1="35.40" y1="139.70" x2="38.60" y2="139.70" stroke="#000" stroke-width="1.0"/>
<text x="33.80" y="143.10" font-size="10.2" text-anchor="end" fill="#000">0</text>
<line x1="36.80" y1="122.96" x2="38.60" y2="122.96" stroke="#000" stroke-width="1.0"/>
<line x1="35.40" y1="106.22" x2="38.60" y2="106.22" stroke="#000" stroke-width="1.0"/>
<text x="33.80" y="109.62" font-size="10.2" text-anchor="end" fill="#000">50</text>
<line x1="36.80" y1="89.49" x2="38.60" y2="89.49" stroke="#000" stroke-width="1.0"/>
<line x1="35.40" y1="72.75" x2="38.60" y2="72.75" stroke="#000" stroke-width="1.0"/>
<text x="33.80" y="76.15" font-size="10.2" text-anchor="end" fill="#000">100</text>
<line x1="36.80" y1="56.01" x2="38.60" y2="56.01" stroke="#000" stroke-width="1.0"/>
<line x1="35.40" y1="39.27" x2="38.60" y2="39.27" stroke="#000" stroke-width="1.0"/>
<text x="33.80" y="42.67" font-size="10.2" text-anchor="end" fill="#000">150</text>
<line x1="36.80" y1="22.54" x2="38.60" y2="22.54" stroke="#000" stroke-width="1.0"/>
<line x1="35.40" y1="5.80" x2="38.60" y2="5.80" stroke="#000" stroke-width="1.0"/>
<text x="33.80" y="9.20" font-size="10.2" text-anchor="end" fill="#000">200</text>
<line x1="38.65" y1="147.00" x2="38.65" y2="148.80" stroke="#000" stroke-width="1.0"/>
<line x1="56.20" y1="147.00" x2="56.20" y2="150.20" stroke="#000" stroke-width="1.0"/>
<text x="56.20" y="159.60" font-size="10.2" text-anchor="middle" fill="#000">1.3</text>
<line x1="73.75" y1="147.00" x2="73.75" y2="148.80" stroke="#000" stroke-width="1.0"/>
<line x1="91.30" y1="147.00" x2="91.30" y2="150.20" stroke="#000" stroke-width="1.0"/>
<text x="91.30" y="159.60" font-size="10.2" text-anchor="middle" fill="#000">1.4</text>
<line x1="108.85" y1="147.00" x2="108.85" y2="148.80" stroke="#000" stroke-width="1.0"/>
<line x1="126.40" y1="147.00" x2="126.40" y2="150.20" stroke="#000" stroke-width="1.0"/>
<text x="126.40" y="159.60" font-size="10.2" text-anchor="middle" fill="#000">1.5</text>
<line x1="143.95" y1="147.00" x2="143.95" y2="148.80" stroke="#000" stroke-width="1.0"/>
<line x1="161.50" y1="147.00" x2="161.50" y2="150.20" stroke="#000" stroke-width="1.0"/>
<text x="161.50" y="159.60" font-size="10.2" text-anchor="middle" fill="#000">1.6</text>
<line x1="179.05" y1="147.00" x2="179.05" y2="148.80" stroke="#000" stroke-width="1.0"/>
<line x1="196.60" y1="147.00" x2="196.60" y2="150.20" stroke="#000" stroke-width="1.0"/>
<text x="196.60" y="159.60" font-size="10.2" text-anchor="middle" fill="#000">1.7</text>
<line x1="214.15" y1="147.00" x2="214.15" y2="148.80" stroke="#000" stroke-width="1.0"/>
<text x="127.00" y="172.00" font-size="10.3" text-anchor="middle" fill="#000">Potential (V vs. RHE)</text>
<text x="13.40" y="75.80" font-size="10.5" text-anchor="middle" fill="#000" transform="rotate(-90 13.40 75.80)">Current density (mA cm<tspan font-size="7.3" dy="-3.9">-2</tspan><tspan dy="3.9">)</tspan></text>
<line x1="42.20" y1="17.30" x2="66.60" y2="17.30" stroke="#000000" stroke-width="1.3"/>
<path d="M54.40,15.50 L55.90,17.30 L54.40,19.10 L52.90,17.30Z" fill="#fff" stroke="#000000" stroke-width="0.8"/>
<text x="73.30" y="21.90" font-size="10.4" text-anchor="start" fill="#000">OMS</text>
<line x1="42.20" y1="34.90" x2="66.60" y2="34.90" stroke="#8000ff" stroke-width="1.3"/>
<circle cx="54.40" cy="34.90" r="1.5" fill="#8000ff" stroke="#8000ff" stroke-width="0.6"/><rect x="52.90" y="33.40" width="1.50" height="3.00" fill="#fff" opacity="0.6"/>
<text x="73.30" y="39.50" font-size="10.4" text-anchor="start" fill="#000">RuO<tspan font-size="7.2" dy="2.6">2</tspan></text>
<line x1="42.20" y1="53.70" x2="66.60" y2="53.70" stroke="#008000" stroke-width="1.3"/>
<circle cx="54.40" cy="53.70" r="1.5" fill="#fff" stroke="#008000" stroke-width="0.8"/>
<text x="73.30" y="58.30" font-size="10.4" text-anchor="start" fill="#000">NiOMS</text>
<line x1="42.20" y1="70.90" x2="66.60" y2="70.90" stroke="#ff00ff" stroke-width="1.3"/>
<circle cx="54.40" cy="70.90" r="1.5" fill="#fff" stroke="#ff00ff" stroke-width="0.8"/>
<text x="73.30" y="75.50" font-size="10.4" text-anchor="start" fill="#000">Ru<tspan font-size="7.21" dy="3.40">(SA)</tspan><tspan dy="-3.40">-OMS</tspan></text>
<line x1="42.20" y1="89.50" x2="66.60" y2="89.50" stroke="#ff0000" stroke-width="1.3"/>
<path d="M54.40,91.30 L56.30,88.00 L52.50,88.00Z" fill="#fff" stroke="#ff0000" stroke-width="0.8"/>
<text x="74.40" y="94.10" font-size="10.4" text-anchor="start" fill="#000">Ru<tspan font-size="7.21" dy="3.40">(SA)</tspan><tspan dy="-3.40">-NiOMS</tspan></text>
<text x="-1.20" y="10.80" font-size="15.5" text-anchor="start" fill="#000">a</text>
<line x1="298.50" y1="52.80" x2="388.50" y2="11.00" stroke="#008000" stroke-width="1.0"/>
<path d="M297.20,51.70 L302.90,48.70 L302.90,54.70Z" fill="#fff" stroke="#008000" stroke-width="0.9"/>
<path d="M300.20,50.20 L302.90,48.70 L302.90,54.70 L300.20,53.20Z" fill="#008000"/>
<path d="M308.20,45.90 L313.90,42.90 L313.90,48.90Z" fill="#fff" stroke="#008000" stroke-width="0.9"/>
<path d="M311.20,44.40 L313.90,42.90 L313.90,48.90 L311.20,47.40Z" fill="#008000"/>
<path d="M322.00,39.30 L327.70,36.30 L327.70,42.30Z" fill="#fff" stroke="#008000" stroke-width="0.9"/>
<path d="M325.00,37.80 L327.70,36.30 L327.70,42.30 L325.00,40.80Z" fill="#008000"/>
<path d="M336.60,33.50 L342.30,30.50 L342.30,36.50Z" fill="#fff" stroke="#008000" stroke-width="0.9"/>
<path d="M339.60,32.00 L342.30,30.50 L342.30,36.50 L339.60,35.00Z" fill="#008000"/>
<path d="M352.70,27.60 L358.40,24.60 L358.40,30.60Z" fill="#fff" stroke="#008000" stroke-width="0.9"/>
<path d="M355.70,26.10 L358.40,24.60 L358.40,30.60 L355.70,29.10Z" fill="#008000"/>
<path d="M366.60,22.50 L372.30,19.50 L372.30,25.50Z" fill="#fff" stroke="#008000" stroke-width="0.9"/>
<path d="M369.60,21.00 L372.30,19.50 L372.30,25.50 L369.60,24.00Z" fill="#008000"/>
<path d="M377.50,17.40 L383.20,14.40 L383.20,20.40Z" fill="#fff" stroke="#008000" stroke-width="0.9"/>
<path d="M380.50,15.90 L383.20,14.40 L383.20,20.40 L380.50,18.90Z" fill="#008000"/>
<path d="M383.40,11.60 L389.10,8.60 L389.10,14.60Z" fill="#fff" stroke="#008000" stroke-width="0.9"/>
<path d="M386.40,10.10 L389.10,8.60 L389.10,14.60 L386.40,13.10Z" fill="#008000"/>
<line x1="310.50" y1="113.20" x2="425.50" y2="79.00" stroke="#800080" stroke-width="1.0"/>
<path d="M311.30,109.00 L314.60,112.30 L311.30,115.60 L308.00,112.30Z" fill="#fff" stroke="#800080" stroke-width="0.9"/>
<path d="M308.00,112.30 L314.60,112.30 L311.30,115.60Z" fill="#800080"/>
<path d="M337.50,103.20 L340.80,106.50 L337.50,109.80 L334.20,106.50Z" fill="#fff" stroke="#800080" stroke-width="0.9"/>
<path d="M334.20,106.50 L340.80,106.50 L337.50,109.80Z" fill="#800080"/>
<path d="M358.60,97.40 L361.90,100.70 L358.60,104.00 L355.30,100.70Z" fill="#fff" stroke="#800080" stroke-width="0.9"/>
<path d="M355.30,100.70 L361.90,100.70 L358.60,104.00Z" fill="#800080"/>
<path d="M376.10,92.20 L379.40,95.50 L376.10,98.80 L372.80,95.50Z" fill="#fff" stroke="#800080" stroke-width="0.9"/>
<path d="M372.80,95.50 L379.40,95.50 L376.10,98.80Z" fill="#800080"/>
<path d="M390.20,87.60 L393.50,90.90 L390.20,94.20 L386.90,90.90Z" fill="#fff" stroke="#800080" stroke-width="0.9"/>
<path d="M386.90,90.90 L393.50,90.90 L390.20,94.20Z" fill="#800080"/>
<path d="M402.40,83.10 L405.70,86.40 L402.40,89.70 L399.10,86.40Z" fill="#fff" stroke="#800080" stroke-width="0.9"/>
<path d="M399.10,86.40 L405.70,86.40 L402.40,89.70Z" fill="#800080"/>
<path d="M414.00,79.50 L417.30,82.80 L414.00,86.10 L410.70,82.80Z" fill="#fff" stroke="#800080" stroke-width="0.9"/>
<path d="M410.70,82.80 L417.30,82.80 L414.00,86.10Z" fill="#800080"/>
<path d="M424.00,76.20 L427.30,79.50 L424.00,82.80 L420.70,79.50Z" fill="#fff" stroke="#800080" stroke-width="0.9"/>
<path d="M420.70,79.50 L427.30,79.50 L424.00,82.80Z" fill="#800080"/>
<line x1="282.50" y1="136.80" x2="407.00" y2="99.50" stroke="#ff00ff" stroke-width="1.0"/>
<circle cx="283.80" cy="135.70" r="2.8" fill="#fff" stroke="#ff00ff" stroke-width="0.9"/>
<path d="M281.00,135.70 A2.8,2.8 0 0 1 286.60,135.70Z" fill="#ff00ff"/>
<circle cx="321.50" cy="126.20" r="2.8" fill="#fff" stroke="#ff00ff" stroke-width="0.9"/>
<path d="M318.70,126.20 A2.8,2.8 0 0 1 324.30,126.20Z" fill="#ff00ff"/>
<circle cx="349.90" cy="118.90" r="2.8" fill="#fff" stroke="#ff00ff" stroke-width="0.9"/>
<path d="M347.10,118.90 A2.8,2.8 0 0 1 352.70,118.90Z" fill="#ff00ff"/>
<circle cx="370.20" cy="111.60" r="2.8" fill="#fff" stroke="#ff00ff" stroke-width="0.9"/>
<path d="M367.40,111.60 A2.8,2.8 0 0 1 373.00,111.60Z" fill="#ff00ff"/>
<circle cx="385.30" cy="108.00" r="2.8" fill="#fff" stroke="#ff00ff" stroke-width="0.9"/>
<path d="M382.50,108.00 A2.8,2.8 0 0 1 388.10,108.00Z" fill="#ff00ff"/>
<circle cx="396.50" cy="103.30" r="2.8" fill="#fff" stroke="#ff00ff" stroke-width="0.9"/>
<path d="M393.70,103.30 A2.8,2.8 0 0 1 399.30,103.30Z" fill="#ff00ff"/>
<circle cx="405.70" cy="100.20" r="2.8" fill="#fff" stroke="#ff00ff" stroke-width="0.9"/>
<path d="M402.90,100.20 A2.8,2.8 0 0 1 408.50,100.20Z" fill="#ff00ff"/>
<line x1="286.00" y1="140.00" x2="425.50" y2="116.40" stroke="#ff0000" stroke-width="1.0"/>
<rect x="284.50" y="136.60" width="5.40" height="5.40" fill="#fff" stroke="#ff0000" stroke-width="0.9"/>
<rect x="287.20" y="136.60" width="2.70" height="5.40" fill="#ff0000"/>
<rect x="323.90" y="131.10" width="5.40" height="5.40" fill="#fff" stroke="#ff0000" stroke-width="0.9"/>
<rect x="326.60" y="131.10" width="2.70" height="5.40" fill="#ff0000"/>
<rect x="358.10" y="126.00" width="5.40" height="5.40" fill="#fff" stroke="#ff0000" stroke-width="0.9"/>
<rect x="360.80" y="126.00" width="2.70" height="5.40" fill="#ff0000"/>
<rect x="381.10" y="121.80" width="5.40" height="5.40" fill="#fff" stroke="#ff0000" stroke-width="0.9"/>
<rect x="383.80" y="121.80" width="2.70" height="5.40" fill="#ff0000"/>
<rect x="398.20" y="118.40" width="5.40" height="5.40" fill="#fff" stroke="#ff0000" stroke-width="0.9"/>
<rect x="400.90" y="118.40" width="2.70" height="5.40" fill="#ff0000"/>
<rect x="410.90" y="115.90" width="5.40" height="5.40" fill="#fff" stroke="#ff0000" stroke-width="0.9"/>
<rect x="413.60" y="115.90" width="2.70" height="5.40" fill="#ff0000"/>
<rect x="421.60" y="114.00" width="5.40" height="5.40" fill="#fff" stroke="#ff0000" stroke-width="0.9"/>
<rect x="424.30" y="114.00" width="2.70" height="5.40" fill="#ff0000"/>
<text x="280.00" y="24.80" font-size="8.6" text-anchor="start" fill="#008000">103.21 mV dec<tspan font-size="6" dy="-3.3">-1</tspan></text>
<text x="280.00" y="36.60" font-size="8.6" text-anchor="start" fill="#008000">R<tspan font-size="6" dy="-3.3">2</tspan><tspan dy="3.3">=0.988</tspan></text>
<text x="301.00" y="86.40" font-size="8.6" text-anchor="start" fill="#800080">70.88 mV dec<tspan font-size="6" dy="-3.3">-1</tspan></text>
<text x="301.00" y="98.50" font-size="8.6" text-anchor="start" fill="#800080">R<tspan font-size="6" dy="-3.3">2</tspan><tspan dy="3.3">=0.994</tspan></text>
<text x="270.70" y="118.50" font-size="8.6" text-anchor="start" fill="#ff00ff">68.13 mV dec<tspan font-size="6" dy="-3.3">-1</tspan></text>
<text x="270.70" y="130.20" font-size="8.6" text-anchor="start" fill="#ff00ff">R<tspan font-size="6" dy="-3.3">2</tspan><tspan dy="3.3">=0.995</tspan></text>
<text x="391.10" y="131.30" font-size="8.6" text-anchor="start" fill="#ff2020">32.78 mV dec<tspan font-size="6" dy="-3.3">-1</tspan></text>
<text x="391.10" y="143.00" font-size="8.6" text-anchor="start" fill="#ff2020">R<tspan font-size="6" dy="-3.3">2</tspan><tspan dy="3.3">=0.994</tspan></text>
<rect x="369.10" y="25.40" width="5.40" height="5.40" fill="#fff" stroke="#ff0000" stroke-width="0.9"/>
<rect x="371.80" y="25.40" width="2.70" height="5.40" fill="#ff0000"/>
<text x="386.70" y="31.80" font-size="10" text-anchor="start" fill="#000">Ru<tspan font-size="7.00" dy="3.30">(SA)</tspan><tspan dy="-3.30">-NiOMS</tspan></text>
<circle cx="371.80" cy="43.20" r="2.8" fill="#fff" stroke="#ff00ff" stroke-width="0.9"/>
<path d="M369.00,43.20 A2.8,2.8 0 0 1 374.60,43.20Z" fill="#ff00ff"/>
<text x="386.70" y="46.50" font-size="10" text-anchor="start" fill="#000">Ru<tspan font-size="7.00" dy="3.30">(SA)</tspan><tspan dy="-3.30">-OMS</tspan></text>
<path d="M368.80,57.80 L374.50,54.80 L374.50,60.80Z" fill="#fff" stroke="#008000" stroke-width="0.9"/>
<path d="M371.80,56.30 L374.50,54.80 L374.50,60.80 L371.80,59.30Z" fill="#008000"/>
<text x="386.70" y="61.30" font-size="10" text-anchor="start" fill="#000">NiOMS</text>
<path d="M371.80,67.40 L375.10,70.70 L371.80,74.00 L368.50,70.70Z" fill="#fff" stroke="#800080" stroke-width="0.9"/>
<path d="M368.50,70.70 L375.10,70.70 L371.80,74.00Z" fill="#800080"/>
<text x="386.70" y="73.90" font-size="10" text-anchor="start" fill="#000">RuO<tspan font-size="7" dy="2.6">2</tspan></text>
<rect x="266.4" y="6.6" width="185.70000000000005" height="140.6" fill="none" stroke="#000" stroke-width="1.2"/>
<line x1="264.60" y1="141.01" x2="266.40" y2="141.01" stroke="#000" stroke-width="1.0"/>
<line x1="263.20" y1="125.00" x2="266.40" y2="125.00" stroke="#000" stroke-width="1.0"/>
<text x="262.40" y="128.40" font-size="10.2" text-anchor="end" fill="#000">1.4</text>
<line x1="264.60" y1="108.98" x2="266.40" y2="108.98" stroke="#000" stroke-width="1.0"/>
<line x1="263.20" y1="92.97" x2="266.40" y2="92.97" stroke="#000" stroke-width="1.0"/>
<text x="262.40" y="96.37" font-size="10.2" text-anchor="end" fill="#000">1.5</text>
<line x1="264.60" y1="76.95" x2="266.40" y2="76.95" stroke="#000" stroke-width="1.0"/>
<line x1="263.20" y1="60.94" x2="266.40" y2="60.94" stroke="#000" stroke-width="1.0"/>
<text x="262.40" y="64.34" font-size="10.2" text-anchor="end" fill="#000">1.6</text>
<line x1="264.60" y1="44.92" x2="266.40" y2="44.92" stroke="#000" stroke-width="1.0"/>
<line x1="263.20" y1="28.91" x2="266.40" y2="28.91" stroke="#000" stroke-width="1.0"/>
<text x="262.40" y="32.31" font-size="10.2" text-anchor="end" fill="#000">1.7</text>
<line x1="264.60" y1="12.89" x2="266.40" y2="12.89" stroke="#000" stroke-width="1.0"/>
<line x1="281.70" y1="147.20" x2="281.70" y2="150.40" stroke="#000" stroke-width="1.0"/>
<text x="281.70" y="159.60" font-size="10.2" text-anchor="middle" fill="#000">-0.5</text>
<line x1="300.55" y1="147.20" x2="300.55" y2="149.00" stroke="#000" stroke-width="1.0"/>
<line x1="319.40" y1="147.20" x2="319.40" y2="150.40" stroke="#000" stroke-width="1.0"/>
<text x="319.40" y="159.60" font-size="10.2" text-anchor="middle" fill="#000">0.0</text>
<line x1="338.25" y1="147.20" x2="338.25" y2="149.00" stroke="#000" stroke-width="1.0"/>
<line x1="357.10" y1="147.20" x2="357.10" y2="150.40" stroke="#000" stroke-width="1.0"/>
<text x="357.10" y="159.60" font-size="10.2" text-anchor="middle" fill="#000">0.5</text>
<line x1="375.95" y1="147.20" x2="375.95" y2="149.00" stroke="#000" stroke-width="1.0"/>
<line x1="394.80" y1="147.20" x2="394.80" y2="150.40" stroke="#000" stroke-width="1.0"/>
<text x="394.80" y="159.60" font-size="10.2" text-anchor="middle" fill="#000">1.0</text>
<line x1="413.65" y1="147.20" x2="413.65" y2="149.00" stroke="#000" stroke-width="1.0"/>
<line x1="432.50" y1="147.20" x2="432.50" y2="150.40" stroke="#000" stroke-width="1.0"/>
<text x="432.50" y="159.60" font-size="10.2" text-anchor="middle" fill="#000">1.5</text>
<line x1="451.35" y1="147.20" x2="451.35" y2="149.00" stroke="#000" stroke-width="1.0"/>
<text x="359.30" y="171.40" font-size="10.3" text-anchor="middle" fill="#000">log[current (mA)]</text>
<text x="241.20" y="75.80" font-size="10.3" text-anchor="middle" fill="#000" transform="rotate(-90 241.20 75.80)">Potential (V vs. RHE)</text>
<text x="223.60" y="10.60" font-size="15.5" text-anchor="start" fill="#000">b</text>
<circle cx="500.96" cy="38.75" r="2.0" fill="#fff" stroke="#c8324a" stroke-width="0.75"/>
<path d="M500.96,36.75 A2.0,2.0 0 0 1 500.96,40.75Z" fill="#c8324a"/>
<circle cx="504.55" cy="36.27" r="2.0" fill="#fff" stroke="#c8324a" stroke-width="0.75"/>
<path d="M504.55,34.27 A2.0,2.0 0 0 1 504.55,38.27Z" fill="#c8324a"/>
<circle cx="508.08" cy="33.90" r="2.0" fill="#fff" stroke="#c8324a" stroke-width="0.75"/>
<path d="M508.08,31.90 A2.0,2.0 0 0 1 508.08,35.90Z" fill="#c8324a"/>
<circle cx="511.61" cy="31.75" r="2.0" fill="#fff" stroke="#c8324a" stroke-width="0.75"/>
<path d="M511.61,29.75 A2.0,2.0 0 0 1 511.61,33.75Z" fill="#c8324a"/>
<circle cx="515.19" cy="29.93" r="2.0" fill="#fff" stroke="#c8324a" stroke-width="0.75"/>
<path d="M515.19,27.93 A2.0,2.0 0 0 1 515.19,31.93Z" fill="#c8324a"/>
<circle cx="518.77" cy="28.39" r="2.0" fill="#fff" stroke="#c8324a" stroke-width="0.75"/>
<path d="M518.77,26.39 A2.0,2.0 0 0 1 518.77,30.39Z" fill="#c8324a"/>
<circle cx="522.27" cy="26.98" r="2.0" fill="#fff" stroke="#c8324a" stroke-width="0.75"/>
<path d="M522.27,24.98 A2.0,2.0 0 0 1 522.27,28.98Z" fill="#c8324a"/>
<circle cx="525.66" cy="25.58" r="2.0" fill="#fff" stroke="#c8324a" stroke-width="0.75"/>
<path d="M525.66,23.58 A2.0,2.0 0 0 1 525.66,27.58Z" fill="#c8324a"/>
<circle cx="528.88" cy="24.09" r="2.0" fill="#fff" stroke="#c8324a" stroke-width="0.75"/>
<path d="M528.88,22.09 A2.0,2.0 0 0 1 528.88,26.09Z" fill="#c8324a"/>
<circle cx="531.94" cy="22.52" r="2.0" fill="#fff" stroke="#c8324a" stroke-width="0.75"/>
<path d="M531.94,20.52 A2.0,2.0 0 0 1 531.94,24.52Z" fill="#c8324a"/>
<circle cx="534.90" cy="20.96" r="2.0" fill="#fff" stroke="#c8324a" stroke-width="0.75"/>
<path d="M534.90,18.96 A2.0,2.0 0 0 1 534.90,22.96Z" fill="#c8324a"/>
<circle cx="537.82" cy="19.54" r="2.0" fill="#fff" stroke="#c8324a" stroke-width="0.75"/>
<path d="M537.82,17.54 A2.0,2.0 0 0 1 537.82,21.54Z" fill="#c8324a"/>
<circle cx="540.72" cy="18.32" r="2.0" fill="#fff" stroke="#c8324a" stroke-width="0.75"/>
<path d="M540.72,16.32 A2.0,2.0 0 0 1 540.72,20.32Z" fill="#c8324a"/>
<circle cx="543.57" cy="17.24" r="2.0" fill="#fff" stroke="#c8324a" stroke-width="0.75"/>
<path d="M543.57,15.24 A2.0,2.0 0 0 1 543.57,19.24Z" fill="#c8324a"/>
<circle cx="546.36" cy="16.27" r="2.0" fill="#fff" stroke="#c8324a" stroke-width="0.75"/>
<path d="M546.36,14.27 A2.0,2.0 0 0 1 546.36,18.27Z" fill="#c8324a"/>
<circle cx="549.08" cy="15.35" r="2.0" fill="#fff" stroke="#c8324a" stroke-width="0.75"/>
<path d="M549.08,13.35 A2.0,2.0 0 0 1 549.08,17.35Z" fill="#c8324a"/>
<circle cx="551.71" cy="14.49" r="2.0" fill="#fff" stroke="#c8324a" stroke-width="0.75"/>
<path d="M551.71,12.49 A2.0,2.0 0 0 1 551.71,16.49Z" fill="#c8324a"/>
<circle cx="554.27" cy="13.66" r="2.0" fill="#fff" stroke="#c8324a" stroke-width="0.75"/>
<path d="M554.27,11.66 A2.0,2.0 0 0 1 554.27,15.66Z" fill="#c8324a"/>
<circle cx="556.74" cy="12.85" r="2.0" fill="#fff" stroke="#c8324a" stroke-width="0.75"/>
<path d="M556.74,10.85 A2.0,2.0 0 0 1 556.74,14.85Z" fill="#c8324a"/>
<circle cx="559.14" cy="12.06" r="2.0" fill="#fff" stroke="#c8324a" stroke-width="0.75"/>
<path d="M559.14,10.06 A2.0,2.0 0 0 1 559.14,14.06Z" fill="#c8324a"/>
<circle cx="561.46" cy="11.29" r="2.0" fill="#fff" stroke="#c8324a" stroke-width="0.75"/>
<path d="M561.46,9.29 A2.0,2.0 0 0 1 561.46,13.29Z" fill="#c8324a"/>
<circle cx="563.70" cy="10.56" r="2.0" fill="#fff" stroke="#c8324a" stroke-width="0.75"/>
<path d="M563.70,8.56 A2.0,2.0 0 0 1 563.70,12.56Z" fill="#c8324a"/>
<circle cx="565.89" cy="9.87" r="2.0" fill="#fff" stroke="#c8324a" stroke-width="0.75"/>
<path d="M565.89,7.87 A2.0,2.0 0 0 1 565.89,11.87Z" fill="#c8324a"/>
<circle cx="568.00" cy="9.21" r="2.0" fill="#fff" stroke="#c8324a" stroke-width="0.75"/>
<path d="M568.00,7.21 A2.0,2.0 0 0 1 568.00,11.21Z" fill="#c8324a"/>
<circle cx="570.06" cy="8.58" r="2.0" fill="#fff" stroke="#c8324a" stroke-width="0.75"/>
<path d="M570.06,6.58 A2.0,2.0 0 0 1 570.06,10.58Z" fill="#c8324a"/>
<circle cx="572.06" cy="8.01" r="2.0" fill="#fff" stroke="#c8324a" stroke-width="0.75"/>
<path d="M572.06,6.01 A2.0,2.0 0 0 1 572.06,10.01Z" fill="#c8324a"/>
<circle cx="574.00" cy="7.47" r="2.0" fill="#fff" stroke="#c8324a" stroke-width="0.75"/>
<path d="M574.00,5.47 A2.0,2.0 0 0 1 574.00,9.47Z" fill="#c8324a"/>
<circle cx="575.88" cy="6.98" r="2.0" fill="#fff" stroke="#c8324a" stroke-width="0.75"/>
<path d="M575.88,4.98 A2.0,2.0 0 0 1 575.88,8.98Z" fill="#c8324a"/>
<circle cx="577.71" cy="6.51" r="2.0" fill="#fff" stroke="#c8324a" stroke-width="0.75"/>
<path d="M577.71,4.51 A2.0,2.0 0 0 1 577.71,8.51Z" fill="#c8324a"/>
<defs><radialGradient id="sg0" cx="0.38" cy="0.32" r="0.7"><stop offset="0" stop-color="#fff"/><stop offset="0.22" stop-color="#9b30ff"/><stop offset="1" stop-color="#9b30ff"/></radialGradient></defs>
<circle cx="568.00" cy="21.20" r="3.1" fill="url(#sg0)"/>
<defs><radialGradient id="sg1" cx="0.38" cy="0.32" r="0.7"><stop offset="0" stop-color="#fff"/><stop offset="0.22" stop-color="#1010ff"/><stop offset="1" stop-color="#1010ff"/></radialGradient></defs>
<circle cx="549.40" cy="34.90" r="3.1" fill="url(#sg1)"/>
<defs><radialGradient id="sg2" cx="0.38" cy="0.32" r="0.7"><stop offset="0" stop-color="#fff"/><stop offset="0.22" stop-color="#008000"/><stop offset="1" stop-color="#008000"/></radialGradient></defs>
<circle cx="553.10" cy="38.50" r="3.1" fill="url(#sg2)"/>
<defs><radialGradient id="sg3" cx="0.38" cy="0.32" r="0.7"><stop offset="0" stop-color="#fff"/><stop offset="0.22" stop-color="#ff00ff"/><stop offset="1" stop-color="#ff00ff"/></radialGradient></defs>
<circle cx="553.40" cy="33.60" r="3.1" fill="url(#sg3)"/>
<defs><radialGradient id="sg4" cx="0.38" cy="0.32" r="0.7"><stop offset="0" stop-color="#fff"/><stop offset="0.22" stop-color="#800080"/><stop offset="1" stop-color="#800080"/></radialGradient></defs>
<circle cx="544.50" cy="49.90" r="3.1" fill="url(#sg4)"/>
<defs><radialGradient id="sg5" cx="0.38" cy="0.32" r="0.7"><stop offset="0" stop-color="#fff"/><stop offset="0.22" stop-color="#40ffff"/><stop offset="1" stop-color="#40ffff"/></radialGradient></defs>
<circle cx="579.40" cy="37.10" r="3.1" fill="url(#sg5)"/>
<defs><radialGradient id="sg6" cx="0.38" cy="0.32" r="0.7"><stop offset="0" stop-color="#fff"/><stop offset="0.22" stop-color="#ff0000"/><stop offset="1" stop-color="#ff0000"/></radialGradient></defs>
<circle cx="587.00" cy="44.20" r="3.1" fill="url(#sg6)"/>
<circle cx="576.80" cy="66.80" r="3.1" fill="url(#sg3)"/>
<defs><radialGradient id="sg7" cx="0.38" cy="0.32" r="0.7"><stop offset="0" stop-color="#fff"/><stop offset="0.22" stop-color="#ff40ff"/><stop offset="1" stop-color="#ff40ff"/></radialGradient></defs>
<circle cx="593.00" cy="34.00" r="3.1" fill="url(#sg7)"/>
<defs><radialGradient id="sg8" cx="0.38" cy="0.32" r="0.7"><stop offset="0" stop-color="#fff"/><stop offset="0.22" stop-color="#c0c0c0"/><stop offset="1" stop-color="#c0c0c0"/></radialGradient></defs>
<circle cx="594.30" cy="32.60" r="3.1" fill="url(#sg8)"/>
<circle cx="596.70" cy="30.90" r="3.1" fill="url(#sg1)"/>
<defs><radialGradient id="sg9" cx="0.38" cy="0.32" r="0.7"><stop offset="0" stop-color="#fff"/><stop offset="0.22" stop-color="#ff8000"/><stop offset="1" stop-color="#ff8000"/></radialGradient></defs>
<circle cx="605.60" cy="25.60" r="3.1" fill="url(#sg9)"/>
<defs><radialGradient id="sg10" cx="0.38" cy="0.32" r="0.7"><stop offset="0" stop-color="#fff"/><stop offset="0.22" stop-color="#800000"/><stop offset="1" stop-color="#800000"/></radialGradient></defs>
<circle cx="605.60" cy="48.80" r="3.1" fill="url(#sg10)"/>
<defs><radialGradient id="sg11" cx="0.38" cy="0.32" r="0.7"><stop offset="0" stop-color="#fff"/><stop offset="0.22" stop-color="#d0d0d0"/><stop offset="1" stop-color="#d0d0d0"/></radialGradient></defs>
<circle cx="596.70" cy="50.20" r="3.1" fill="url(#sg11)"/>
<defs><radialGradient id="sg12" cx="0.38" cy="0.32" r="0.7"><stop offset="0" stop-color="#fff"/><stop offset="0.22" stop-color="#a0a0a0"/><stop offset="1" stop-color="#a0a0a0"/></radialGradient></defs>
<circle cx="599.00" cy="53.90" r="3.1" fill="url(#sg12)"/>
<defs><radialGradient id="sg13" cx="0.38" cy="0.32" r="0.7"><stop offset="0" stop-color="#fff"/><stop offset="0.22" stop-color="#505050"/><stop offset="1" stop-color="#505050"/></radialGradient></defs>
<circle cx="596.70" cy="57.20" r="3.1" fill="url(#sg13)"/>
<defs><radialGradient id="sg14" cx="0.38" cy="0.32" r="0.7"><stop offset="0" stop-color="#fff"/><stop offset="0.22" stop-color="#404040"/><stop offset="1" stop-color="#404040"/></radialGradient></defs>
<circle cx="596.70" cy="62.10" r="3.1" fill="url(#sg14)"/>
<defs><radialGradient id="sg15" cx="0.38" cy="0.32" r="0.7"><stop offset="0" stop-color="#fff"/><stop offset="0.22" stop-color="#806020"/><stop offset="1" stop-color="#806020"/></radialGradient></defs>
<circle cx="614.20" cy="55.90" r="3.1" fill="url(#sg15)"/>
<circle cx="622.80" cy="32.60" r="3.1" fill="url(#sg15)"/>
<circle cx="622.80" cy="36.50" r="3.1" fill="url(#sg9)"/>
<circle cx="622.80" cy="42.60" r="3.1" fill="url(#sg13)"/>
<defs><radialGradient id="sg16" cx="0.38" cy="0.32" r="0.7"><stop offset="0" stop-color="#fff"/><stop offset="0.22" stop-color="#ff80ff"/><stop offset="1" stop-color="#ff80ff"/></radialGradient></defs>
<circle cx="622.80" cy="47.20" r="3.1" fill="url(#sg16)"/>
<circle cx="622.80" cy="51.50" r="3.1" fill="url(#sg11)"/>
<circle cx="622.80" cy="53.50" r="3.1" fill="url(#sg11)"/>
<defs><radialGradient id="sg17" cx="0.38" cy="0.32" r="0.7"><stop offset="0" stop-color="#fff"/><stop offset="0.22" stop-color="#000080"/><stop offset="1" stop-color="#000080"/></radialGradient></defs>
<circle cx="622.80" cy="58.00" r="3.1" fill="url(#sg17)"/>
<defs><radialGradient id="sg18" cx="0.38" cy="0.32" r="0.7"><stop offset="0" stop-color="#fff"/><stop offset="0.22" stop-color="#20ffff"/><stop offset="1" stop-color="#20ffff"/></radialGradient></defs>
<circle cx="622.80" cy="62.80" r="3.1" fill="url(#sg18)"/>
<defs><radialGradient id="sg19" cx="0.38" cy="0.32" r="0.7"><stop offset="0" stop-color="#fff"/><stop offset="0.22" stop-color="#20e020"/><stop offset="1" stop-color="#20e020"/></radialGradient></defs>
<circle cx="622.80" cy="73.80" r="3.1" fill="url(#sg19)"/>
<circle cx="622.80" cy="77.30" r="3.1" fill="url(#sg4)"/>
<circle cx="640.50" cy="45.90" r="3.1" fill="url(#sg0)"/>
<circle cx="640.50" cy="50.20" r="3.1" fill="url(#sg1)"/>
<defs><radialGradient id="sg20" cx="0.38" cy="0.32" r="0.7"><stop offset="0" stop-color="#fff"/><stop offset="0.22" stop-color="#000090"/><stop offset="1" stop-color="#000090"/></radialGradient></defs>
<circle cx="664.00" cy="42.20" r="3.1" fill="url(#sg20)"/>
<circle cx="662.00" cy="46.40" r="3.1" fill="url(#sg0)"/>
<circle cx="640.00" cy="105.70" r="3.1" fill="url(#sg1)"/>
<circle cx="622.80" cy="112.20" r="3.1" fill="url(#sg6)"/>
<rect x="500.3" y="6.5" width="175.2" height="140.2" fill="none" stroke="#000" stroke-width="1.2"/>
<line x1="497.10" y1="146.50" x2="500.30" y2="146.50" stroke="#000" stroke-width="1.0"/>
<text x="496.60" y="149.90" font-size="10.2" text-anchor="end" fill="#000">10<tspan font-size="6.8" dy="-4">-1</tspan></text>
<line x1="498.50" y1="138.97" x2="500.30" y2="138.97" stroke="#000" stroke-width="0.8"/>
<line x1="498.50" y1="134.57" x2="500.30" y2="134.57" stroke="#000" stroke-width="0.8"/>
<line x1="498.50" y1="131.45" x2="500.30" y2="131.45" stroke="#000" stroke-width="0.8"/>
<line x1="498.50" y1="129.03" x2="500.30" y2="129.03" stroke="#000" stroke-width="0.8"/>
<line x1="498.50" y1="127.05" x2="500.30" y2="127.05" stroke="#000" stroke-width="0.8"/>
<line x1="498.50" y1="125.37" x2="500.30" y2="125.37" stroke="#000" stroke-width="0.8"/>
<line x1="498.50" y1="123.92" x2="500.30" y2="123.92" stroke="#000" stroke-width="0.8"/>
<line x1="498.50" y1="122.64" x2="500.30" y2="122.64" stroke="#000" stroke-width="0.8"/>
<line x1="497.10" y1="121.50" x2="500.30" y2="121.50" stroke="#000" stroke-width="1.0"/>
<text x="496.60" y="124.90" font-size="10.2" text-anchor="end" fill="#000">10<tspan font-size="6.8" dy="-4">0</tspan></text>
<line x1="498.50" y1="113.97" x2="500.30" y2="113.97" stroke="#000" stroke-width="0.8"/>
<line x1="498.50" y1="109.57" x2="500.30" y2="109.57" stroke="#000" stroke-width="0.8"/>
<line x1="498.50" y1="106.45" x2="500.30" y2="106.45" stroke="#000" stroke-width="0.8"/>
<line x1="498.50" y1="104.03" x2="500.30" y2="104.03" stroke="#000" stroke-width="0.8"/>
<line x1="498.50" y1="102.05" x2="500.30" y2="102.05" stroke="#000" stroke-width="0.8"/>
<line x1="498.50" y1="100.37" x2="500.30" y2="100.37" stroke="#000" stroke-width="0.8"/>
<line x1="498.50" y1="98.92" x2="500.30" y2="98.92" stroke="#000" stroke-width="0.8"/>
<line x1="498.50" y1="97.64" x2="500.30" y2="97.64" stroke="#000" stroke-width="0.8"/>
<line x1="497.10" y1="96.50" x2="500.30" y2="96.50" stroke="#000" stroke-width="1.0"/>
<text x="496.60" y="99.90" font-size="10.2" text-anchor="end" fill="#000">10<tspan font-size="6.8" dy="-4">1</tspan></text>
<line x1="498.50" y1="88.97" x2="500.30" y2="88.97" stroke="#000" stroke-width="0.8"/>
<line x1="498.50" y1="84.57" x2="500.30" y2="84.57" stroke="#000" stroke-width="0.8"/>
<line x1="498.50" y1="81.45" x2="500.30" y2="81.45" stroke="#000" stroke-width="0.8"/>
<line x1="498.50" y1="79.03" x2="500.30" y2="79.03" stroke="#000" stroke-width="0.8"/>
<line x1="498.50" y1="77.05" x2="500.30" y2="77.05" stroke="#000" stroke-width="0.8"/>
<line x1="498.50" y1="75.37" x2="500.30" y2="75.37" stroke="#000" stroke-width="0.8"/>
<line x1="498.50" y1="73.92" x2="500.30" y2="73.92" stroke="#000" stroke-width="0.8"/>
<line x1="498.50" y1="72.64" x2="500.30" y2="72.64" stroke="#000" stroke-width="0.8"/>
<line x1="497.10" y1="71.50" x2="500.30" y2="71.50" stroke="#000" stroke-width="1.0"/>
<text x="496.60" y="74.90" font-size="10.2" text-anchor="end" fill="#000">10<tspan font-size="6.8" dy="-4">2</tspan></text>
<line x1="498.50" y1="63.97" x2="500.30" y2="63.97" stroke="#000" stroke-width="0.8"/>
<line x1="498.50" y1="59.57" x2="500.30" y2="59.57" stroke="#000" stroke-width="0.8"/>
<line x1="498.50" y1="56.45" x2="500.30" y2="56.45" stroke="#000" stroke-width="0.8"/>
<line x1="498.50" y1="54.03" x2="500.30" y2="54.03" stroke="#000" stroke-width="0.8"/>
<line x1="498.50" y1="52.05" x2="500.30" y2="52.05" stroke="#000" stroke-width="0.8"/>
<line x1="498.50" y1="50.37" x2="500.30" y2="50.37" stroke="#000" stroke-width="0.8"/>
<line x1="498.50" y1="48.92" x2="500.30" y2="48.92" stroke="#000" stroke-width="0.8"/>
<line x1="498.50" y1="47.64" x2="500.30" y2="47.64" stroke="#000" stroke-width="0.8"/>
<line x1="497.10" y1="46.50" x2="500.30" y2="46.50" stroke="#000" stroke-width="1.0"/>
<text x="496.60" y="49.90" font-size="10.2" text-anchor="end" fill="#000">10<tspan font-size="6.8" dy="-4">3</tspan></text>
<line x1="498.50" y1="38.97" x2="500.30" y2="38.97" stroke="#000" stroke-width="0.8"/>
<line x1="498.50" y1="34.57" x2="500.30" y2="34.57" stroke="#000" stroke-width="0.8"/>
<line x1="498.50" y1="31.45" x2="500.30" y2="31.45" stroke="#000" stroke-width="0.8"/>
<line x1="498.50" y1="29.03" x2="500.30" y2="29.03" stroke="#000" stroke-width="0.8"/>
<line x1="498.50" y1="27.05" x2="500.30" y2="27.05" stroke="#000" stroke-width="0.8"/>
<line x1="498.50" y1="25.37" x2="500.30" y2="25.37" stroke="#000" stroke-width="0.8"/>
<line x1="498.50" y1="23.92" x2="500.30" y2="23.92" stroke="#000" stroke-width="0.8"/>
<line x1="498.50" y1="22.64" x2="500.30" y2="22.64" stroke="#000" stroke-width="0.8"/>
<line x1="497.10" y1="21.50" x2="500.30" y2="21.50" stroke="#000" stroke-width="1.0"/>
<text x="496.60" y="24.90" font-size="10.2" text-anchor="end" fill="#000">10<tspan font-size="6.8" dy="-4">4</tspan></text>
<line x1="498.50" y1="13.97" x2="500.30" y2="13.97" stroke="#000" stroke-width="0.8"/>
<line x1="498.50" y1="9.57" x2="500.30" y2="9.57" stroke="#000" stroke-width="0.8"/>
<line x1="499.80" y1="146.70" x2="499.80" y2="149.90" stroke="#000" stroke-width="1.0"/>
<text x="499.80" y="159.40" font-size="10.2" text-anchor="middle" fill="#000">160</text>
<line x1="517.37" y1="146.70" x2="517.37" y2="148.50" stroke="#000" stroke-width="1.0"/>
<line x1="534.94" y1="146.70" x2="534.94" y2="149.90" stroke="#000" stroke-width="1.0"/>
<text x="534.94" y="159.40" font-size="10.2" text-anchor="middle" fill="#000">200</text>
<line x1="552.51" y1="146.70" x2="552.51" y2="148.50" stroke="#000" stroke-width="1.0"/>
<line x1="570.08" y1="146.70" x2="570.08" y2="149.90" stroke="#000" stroke-width="1.0"/>
<text x="570.08" y="159.40" font-size="10.2" text-anchor="middle" fill="#000">240</text>
<line x1="587.65" y1="146.70" x2="587.65" y2="148.50" stroke="#000" stroke-width="1.0"/>
<line x1="605.22" y1="146.70" x2="605.22" y2="149.90" stroke="#000" stroke-width="1.0"/>
<text x="605.22" y="159.40" font-size="10.2" text-anchor="middle" fill="#000">280</text>
<line x1="622.79" y1="146.70" x2="622.79" y2="148.50" stroke="#000" stroke-width="1.0"/>
<line x1="640.36" y1="146.70" x2="640.36" y2="149.90" stroke="#000" stroke-width="1.0"/>
<text x="640.36" y="159.40" font-size="10.2" text-anchor="middle" fill="#000">320</text>
<line x1="657.93" y1="146.70" x2="657.93" y2="148.50" stroke="#000" stroke-width="1.0"/>
<line x1="675.50" y1="146.70" x2="675.50" y2="149.90" stroke="#000" stroke-width="1.0"/>
<text x="675.50" y="159.40" font-size="10.2" text-anchor="middle" fill="#000">360</text>
<text x="586.80" y="171.20" font-size="10.3" text-anchor="middle" fill="#000">Overpotential (mV)</text>
<text x="472.60" y="77.50" font-size="10.3" text-anchor="middle" fill="#000" transform="rotate(-90 472.60 77.50)">Mass activity (A g<tspan font-size="7.2" dy="-3.8">-1</tspan><tspan dy="3.8">)</tspan></text>
<circle cx="514.1" cy="119.1" r="2.3" fill="#fff" stroke="#c8324a" stroke-width="0.8"/><path d="M514.1,116.8 A2.3,2.3 0 0 0 514.1,121.39999999999999Z" fill="#c8324a"/>
<defs><radialGradient id="sg21" cx="0.38" cy="0.32" r="0.7"><stop offset="0" stop-color="#fff"/><stop offset="0.22" stop-color="#f06070"/><stop offset="1" stop-color="#f06070"/></radialGradient></defs>
<circle cx="514.1" cy="134" r="3.1" fill="url(#sg21)"/>
<text x="528.80" y="123.20" font-size="10.3" text-anchor="start" fill="#000">Ru<tspan font-size="7.21" dy="3.40">(SA)</tspan><tspan dy="-3.40">-NiOMS</tspan></text>
<text x="528.80" y="137.40" font-size="10.3" text-anchor="start" fill="#000">ref. (Table S5)</text>
<text x="464.40" y="10.30" font-size="15.5" text-anchor="start" fill="#000">c</text>
<path d="M39.80,221.70 L40.66,221.53 L41.79,221.27 L43.16,220.98 L44.75,220.69 L46.54,220.45 L48.50,220.30 L50.70,220.27 L53.18,220.35 L55.85,220.47 L58.64,220.59 L61.49,220.65 L64.30,220.60 L67.06,220.43 L69.81,220.19 L72.61,219.88 L75.51,219.55 L78.56,219.21 L81.80,218.90 L85.46,218.64 L89.53,218.41 L93.75,218.19 L97.85,217.92 L101.55,217.57 L104.60,217.10 L106.85,216.48 L108.51,215.75 L109.77,214.93 L110.85,214.07 L111.96,213.22 L113.30,212.40 L114.90,211.56 L116.59,210.65 L118.31,209.74 L120.00,208.90 L121.58,208.19 L123.00,207.70 L124.21,207.49 L125.27,207.54 L126.22,207.72 L127.13,207.93 L128.07,208.06 L129.10,208.00 L130.23,207.72 L131.41,207.30 L132.61,206.81 L133.81,206.29 L134.99,205.80 L136.10,205.40 L137.18,205.08 L138.25,204.80 L139.29,204.55 L140.27,204.33 L141.19,204.15 L142.00,204.00 L142.73,203.89 L143.39,203.84 L143.97,203.81 L144.47,203.81 L144.88,203.81 L145.20,203.80" fill="none" stroke="#4f3f9f" stroke-width="2.8" stroke-linejoin="round" stroke-linecap="round"/>
<path d="M39.20,275.60 L39.47,275.36 L39.82,275.03 L40.25,274.63 L40.76,274.21 L41.34,273.79 L42.00,273.40 L42.67,273.04 L43.33,272.67 L44.07,272.31 L44.97,271.96 L46.12,271.62 L47.60,271.30 L49.39,271.00 L51.42,270.70 L53.69,270.42 L56.23,270.16 L59.02,269.91 L62.10,269.70 L65.47,269.52 L69.13,269.37 L73.05,269.25 L77.22,269.14 L81.61,269.02 L86.20,268.90 L91.15,268.76 L96.51,268.62 L102.09,268.48 L107.70,268.34 L113.17,268.22 L118.30,268.10 L122.79,268.01 L126.73,267.94 L130.51,267.89 L134.55,267.82 L139.25,267.73 L145.00,267.60 L152.37,267.42 L161.15,267.19 L170.59,266.94 L179.93,266.69 L188.41,266.43 L195.30,266.20 L200.43,265.99 L204.36,265.80 L207.45,265.61 L210.03,265.41 L212.43,265.22 L215.00,265.00 L217.68,264.77 L220.18,264.53 L222.51,264.27 L224.67,264.02 L226.67,263.76 L228.50,263.50 L230.13,263.24 L231.54,262.99 L232.78,262.73 L233.91,262.47 L234.96,262.19 L236.00,261.90 L237.04,261.57 L238.04,261.19 L238.97,260.80 L239.80,260.43 L240.48,260.12 L241.00,259.90" fill="none" stroke="#55b2aa" stroke-width="2.8" stroke-linejoin="round" stroke-linecap="round"/>
<path d="M39.20,340.40 L40.28,340.25 L41.71,340.05 L43.43,339.81 L45.41,339.54 L47.62,339.27 L50.00,339.00 L52.34,338.74 L54.64,338.48 L57.16,338.21 L60.16,337.93 L63.92,337.63 L68.70,337.30 L74.77,336.92 L81.98,336.49 L89.94,336.04 L98.29,335.60 L106.63,335.21 L114.60,334.90 L122.22,334.69 L129.81,334.55 L137.40,334.46 L145.03,334.39 L152.75,334.31 L160.60,334.20 L168.82,334.07 L177.43,333.94 L186.13,333.81 L194.61,333.66 L202.57,333.49 L209.70,333.30 L215.63,333.04 L220.53,332.70 L224.91,332.34 L229.27,332.02 L234.13,331.79 L240.00,331.70 L247.07,331.79 L254.98,332.02 L263.38,332.34 L271.94,332.69 L280.33,333.03 L288.20,333.30 L295.62,333.53 L302.86,333.78 L309.92,334.01 L316.81,334.20 L323.50,334.30 L330.00,334.30 L336.22,334.16 L342.15,333.89 L347.89,333.55 L353.54,333.17 L359.21,332.81 L365.00,332.50 L370.97,332.21 L377.05,331.91 L383.15,331.62 L389.17,331.37 L395.02,331.18 L400.60,331.10 L405.91,331.15 L411.02,331.30 L415.96,331.53 L420.76,331.79 L425.43,332.02 L430.00,332.20 L434.31,332.34 L438.29,332.47 L442.15,332.59 L446.09,332.67 L450.31,332.72 L455.00,332.70 L460.21,332.61 L465.78,332.47 L471.63,332.28 L477.67,332.06 L483.83,331.82 L490.00,331.60 L496.41,331.35 L503.15,331.05 L510.01,330.74 L516.74,330.45 L523.11,330.23 L528.90,330.10 L533.96,330.09 L538.46,330.16 L542.60,330.30 L546.60,330.47 L550.66,330.65 L555.00,330.80 L559.77,330.97 L564.84,331.17 L569.98,331.38 L574.95,331.56 L579.53,331.68 L583.50,331.70 L586.77,331.59 L589.50,331.38 L591.84,331.11 L593.94,330.81 L595.94,330.53 L598.00,330.30 L599.99,330.12 L601.77,329.94 L603.46,329.78 L605.17,329.65 L607.01,329.55 L609.10,329.50 L611.51,329.52 L614.15,329.61 L616.93,329.73 L619.74,329.86 L622.46,329.96 L625.00,330.00 L627.32,329.97 L629.51,329.90 L631.62,329.80 L633.70,329.69 L635.81,329.58 L638.00,329.50 L640.34,329.45 L642.81,329.41 L645.31,329.38 L647.74,329.34 L650.00,329.28 L652.00,329.20 L653.69,329.07 L655.15,328.90 L656.44,328.72 L657.63,328.54 L658.79,328.39 L660.00,328.30 L661.25,328.26 L662.48,328.24 L663.69,328.26 L664.85,328.31 L665.96,328.39 L667.00,328.50 L667.97,328.66 L668.88,328.89 L669.73,329.14 L670.53,329.39 L671.29,329.62 L672.00,329.80 L672.69,329.92 L673.35,330.01 L673.96,330.08 L674.51,330.13 L674.96,330.17 L675.30,330.20" fill="none" stroke="#cc2e50" stroke-width="2.8" stroke-linejoin="round" stroke-linecap="round"/>
<line x1="145.80" y1="205.00" x2="145.80" y2="351.30" stroke="#3434a0" stroke-width="2.0" stroke-dasharray="1.9,1.5"/>
<line x1="241.80" y1="261.00" x2="241.80" y2="351.30" stroke="#119ea6" stroke-width="2.0" stroke-dasharray="1.9,1.5"/>
<rect x="39.0" y="183.7" width="636.8" height="166.40000000000003" fill="none" stroke="#000" stroke-width="1.2"/>
<line x1="39.00" y1="242.30" x2="241.80" y2="242.30" stroke="#000" stroke-width="1.2"/>
<line x1="39.00" y1="296.60" x2="675.80" y2="296.60" stroke="#000" stroke-width="1.2"/>
<line x1="35.10" y1="236.40" x2="39.00" y2="236.40" stroke="#000" stroke-width="1.0"/>
<text x="34.00" y="239.80" font-size="10.2" text-anchor="end" fill="#000">1.4</text>
<line x1="37.00" y1="224.80" x2="39.00" y2="224.80" stroke="#000" stroke-width="1.0"/>
<line x1="35.10" y1="213.20" x2="39.00" y2="213.20" stroke="#000" stroke-width="1.0"/>
<text x="34.00" y="216.60" font-size="10.2" text-anchor="end" fill="#000">1.6</text>
<line x1="37.00" y1="201.60" x2="39.00" y2="201.60" stroke="#000" stroke-width="1.0"/>
<line x1="35.10" y1="190.00" x2="39.00" y2="190.00" stroke="#000" stroke-width="1.0"/>
<text x="34.00" y="193.40" font-size="10.2" text-anchor="end" fill="#000">1.8</text>
<line x1="37.00" y1="292.20" x2="39.00" y2="292.20" stroke="#000" stroke-width="1.0"/>
<line x1="35.10" y1="281.00" x2="39.00" y2="281.00" stroke="#000" stroke-width="1.0"/>
<text x="34.00" y="284.40" font-size="10.2" text-anchor="end" fill="#000">1.4</text>
<line x1="37.00" y1="269.80" x2="39.00" y2="269.80" stroke="#000" stroke-width="1.0"/>
<line x1="35.10" y1="258.60" x2="39.00" y2="258.60" stroke="#000" stroke-width="1.0"/>
<text x="34.00" y="262.00" font-size="10.2" text-anchor="end" fill="#000">1.6</text>
<line x1="37.00" y1="247.40" x2="39.00" y2="247.40" stroke="#000" stroke-width="1.0"/>
<line x1="35.10" y1="339.50" x2="39.00" y2="339.50" stroke="#000" stroke-width="1.0"/>
<text x="34.00" y="342.90" font-size="10.2" text-anchor="end" fill="#000">1.4</text>
<line x1="37.00" y1="328.35" x2="39.00" y2="328.35" stroke="#000" stroke-width="1.0"/>
<line x1="35.10" y1="317.20" x2="39.00" y2="317.20" stroke="#000" stroke-width="1.0"/>
<text x="34.00" y="320.60" font-size="10.2" text-anchor="end" fill="#000">1.6</text>
<line x1="37.00" y1="306.05" x2="39.00" y2="306.05" stroke="#000" stroke-width="1.0"/>
<line x1="39.00" y1="350.10" x2="39.00" y2="353.90" stroke="#000" stroke-width="1.0"/>
<text x="39.00" y="367.00" font-size="10.2" text-anchor="middle" fill="#000">0</text>
<line x1="145.16" y1="350.10" x2="145.16" y2="352.30" stroke="#000" stroke-width="1.0"/>
<line x1="251.33" y1="350.10" x2="251.33" y2="353.90" stroke="#000" stroke-width="1.0"/>
<text x="251.33" y="367.00" font-size="10.2" text-anchor="middle" fill="#000">100</text>
<line x1="357.50" y1="350.10" x2="357.50" y2="352.30" stroke="#000" stroke-width="1.0"/>
<line x1="463.66" y1="350.10" x2="463.66" y2="353.90" stroke="#000" stroke-width="1.0"/>
<text x="463.66" y="367.00" font-size="10.2" text-anchor="middle" fill="#000">200</text>
<line x1="569.83" y1="350.10" x2="569.83" y2="352.30" stroke="#000" stroke-width="1.0"/>
<line x1="675.99" y1="350.10" x2="675.99" y2="353.90" stroke="#000" stroke-width="1.0"/>
<text x="675.99" y="367.00" font-size="10.2" text-anchor="middle" fill="#000">300</text>
<text x="359.30" y="375.90" font-size="10.3" text-anchor="middle" fill="#000">Time (h)</text>
<text x="17.20" y="275.50" font-size="10.3" text-anchor="middle" fill="#000" transform="rotate(-90 17.20 275.50)">Potential (V vs.RHE )</text>
<line x1="41.50" y1="196.30" x2="71.30" y2="196.30" stroke="#4f3f9f" stroke-width="3.0"/>
<text x="75.10" y="200.40" font-size="11.3" text-anchor="start" fill="#000">RuO<tspan font-size="7.8" dy="3.0">2</tspan></text>
<line x1="41.20" y1="256.40" x2="70.90" y2="256.40" stroke="#55b2aa" stroke-width="3.0"/>
<text x="75.30" y="260.50" font-size="11.3" text-anchor="start" fill="#000">Ru<tspan font-size="7.91" dy="3.73">(SA)</tspan><tspan dy="-3.73">-OMS</tspan></text>
<line x1="41.50" y1="311.90" x2="71.00" y2="311.90" stroke="#cc2e50" stroke-width="3.0"/>
<text x="74.80" y="316.10" font-size="11.3" text-anchor="start" fill="#000">Ru<tspan font-size="7.91" dy="3.73">(SA)</tspan><tspan dy="-3.73">-NiOMS</tspan></text>
<text x="-0.60" y="187.00" font-size="15.5" text-anchor="start" fill="#000">d</text>
<defs><filter id="noise" x="0" y="0" width="1" height="1"><feTurbulence type="fractalNoise" baseFrequency="0.9 0.45" numOctaves="2" seed="3"/><feColorMatrix type="matrix" values="0 0 0 0 0.5  0 0 0 0 0.5  0 0 0 0 0.5  0 0 0 0 0"/></filter><filter id="noise2" x="0" y="0" width="1" height="1"><feTurbulence type="fractalNoise" baseFrequency="0.7 0.35" numOctaves="2" seed="7" result="t"/><feColorMatrix in="t" type="saturate" values="0" result="g"/><feComponentTransfer in="g"><feFuncA type="linear" slope="0" intercept="1"/></feComponentTransfer></filter></defs>
<defs><clipPath id="clipE"><rect x="275.3" y="198.5" width="171.09999999999997" height="79.0"/></clipPath></defs>
<g clip-path="url(#clipE)">
<rect x="275.3" y="198.5" width="171.09999999999997" height="79.0" fill="#a4a4a4"/>
<path d="M275.00,217.80 L277.66,217.94 L281.46,218.14 L285.79,218.37 L290.00,218.60 L294.25,218.92 L298.77,219.30 L303.06,219.58 L306.60,219.60 L309.11,219.14 L310.90,218.36 L312.39,217.59 L314.00,217.20 L315.64,217.49 L317.16,218.20 L318.84,218.84 L321.00,218.90 L323.83,218.00 L327.13,216.50 L330.59,215.00 L333.90,214.10 L336.95,214.11 L339.91,214.66 L342.89,215.36 L346.00,215.80 L349.37,215.92 L352.91,215.91 L356.39,215.79 L359.60,215.60 L362.35,215.28 L364.81,214.82 L367.26,214.36 L370.00,214.00 L373.06,213.72 L376.31,213.49 L379.75,213.36 L383.40,213.40 L387.28,213.70 L391.39,214.19 L395.65,214.74 L400.00,215.20 L404.59,215.59 L409.39,215.96 L414.10,216.22 L418.40,216.30 L422.10,216.08 L425.41,215.65 L428.61,215.17 L432.00,214.80 L436.00,214.59 L440.35,214.46 L444.27,214.37 L447.00,214.30 L447,230 L275,230Z" fill="#8a8a8a"/>
<path d="M275.00,217.80 L277.66,217.94 L281.46,218.14 L285.79,218.37 L290.00,218.60 L294.25,218.92 L298.77,219.30 L303.06,219.58 L306.60,219.60 L309.11,219.14 L310.90,218.36 L312.39,217.59 L314.00,217.20 L315.64,217.49 L317.16,218.20 L318.84,218.84 L321.00,218.90 L323.83,218.00 L327.13,216.50 L330.59,215.00 L333.90,214.10 L336.95,214.11 L339.91,214.66 L342.89,215.36 L346.00,215.80 L349.37,215.92 L352.91,215.91 L356.39,215.79 L359.60,215.60 L362.35,215.28 L364.81,214.82 L367.26,214.36 L370.00,214.00 L373.06,213.72 L376.31,213.49 L379.75,213.36 L383.40,213.40 L387.28,213.70 L391.39,214.19 L395.65,214.74 L400.00,215.20 L404.59,215.59 L409.39,215.96 L414.10,216.22 L418.40,216.30 L422.10,216.08 L425.41,215.65 L428.61,215.17 L432.00,214.80 L436.00,214.59 L440.35,214.46 L444.27,214.37 L447.00,214.30" fill="none" stroke="#d4d4d4" stroke-width="1.2" opacity="0.8"/>
<g filter="url(#soft)"><rect x="352.7" y="222.3" width="1.1" height="1.0" fill="rgb(104,104,104)" opacity="0.75"/><rect x="383.1" y="225.1" width="1.7" height="1.3" fill="rgb(46,46,46)" opacity="0.75"/><rect x="383.9" y="221.8" width="1.8" height="1.3" fill="rgb(67,67,67)" opacity="0.75"/><rect x="286.1" y="217.3" width="1.3" height="1.1" fill="rgb(200,200,200)" opacity="0.75"/><rect x="308.7" y="220.2" width="1.5" height="0.8" fill="rgb(60,60,60)" opacity="0.75"/><rect x="446.0" y="228.4" width="2.0" height="1.0" fill="rgb(210,210,210)" opacity="0.75"/><rect x="280.4" y="223.3" width="1.4" height="1.4" fill="rgb(159,159,159)" opacity="0.75"/><rect x="420.3" y="214.7" width="1.4" height="1.2" fill="rgb(227,227,227)" opacity="0.75"/><rect x="347.1" y="222.4" width="0.9" height="0.9" fill="rgb(207,207,207)" opacity="0.75"/><rect x="440.3" y="224.7" width="0.8" height="1.0" fill="rgb(48,48,48)" opacity="0.75"/><rect x="358.6" y="223.9" width="1.5" height="0.9" fill="rgb(53,53,53)" opacity="0.75"/><rect x="342.9" y="228.4" width="2.4" height="0.6" fill="rgb(223,223,223)" opacity="0.75"/><rect x="307.3" y="228.5" width="2.4" height="0.8" fill="rgb(82,82,82)" opacity="0.75"/><rect x="319.5" y="226.0" width="0.9" height="0.8" fill="rgb(63,63,63)" opacity="0.75"/><rect x="384.2" y="212.2" width="2.3" height="1.0" fill="rgb(65,65,65)" opacity="0.75"/><rect x="373.6" y="226.3" width="2.1" height="0.8" fill="rgb(52,52,52)" opacity="0.75"/><rect x="307.8" y="225.7" width="2.2" height="1.1" fill="rgb(166,166,166)" opacity="0.75"/><rect x="347.4" y="215.8" width="2.0" height="0.9" fill="rgb(42,42,42)" opacity="0.75"/><rect x="347.3" y="227.2" width="1.0" height="1.0" fill="rgb(74,74,74)" opacity="0.75"/><rect x="387.1" y="222.2" width="2.0" height="0.7" fill="rgb(45,45,45)" opacity="0.75"/><rect x="345.7" y="217.8" width="0.9" height="0.7" fill="rgb(43,43,43)" opacity="0.75"/><rect x="352.4" y="219.1" width="1.7" height="1.3" fill="rgb(91,91,91)" opacity="0.75"/><rect x="356.5" y="219.4" width="1.6" height="1.2" fill="rgb(61,61,61)" opacity="0.75"/><rect x="329.9" y="228.5" width="2.2" height="1.2" fill="rgb(45,45,45)" opacity="0.75"/><rect x="395.7" y="225.3" width="2.2" height="1.3" fill="rgb(179,179,179)" opacity="0.75"/><rect x="346.7" y="225.5" width="1.4" height="0.6" fill="rgb(198,198,198)" opacity="0.75"/><rect x="287.7" y="218.0" width="2.0" height="0.9" fill="rgb(171,171,171)" opacity="0.75"/><rect x="401.1" y="222.3" width="1.6" height="1.0" fill="rgb(70,70,70)" opacity="0.75"/><rect x="328.4" y="215.7" width="1.6" height="1.1" fill="rgb(41,41,41)" opacity="0.75"/><rect x="432.8" y="217.2" width="1.6" height="1.2" fill="rgb(40,40,40)" opacity="0.75"/><rect x="333.9" y="227.4" width="1.9" height="0.8" fill="rgb(170,170,170)" opacity="0.75"/><rect x="349.0" y="225.8" width="1.2" height="1.3" fill="rgb(224,224,224)" opacity="0.75"/><rect x="311.2" y="218.3" width="1.9" height="1.4" fill="rgb(64,64,64)" opacity="0.75"/><rect x="322.7" y="218.8" width="2.1" height="0.9" fill="rgb(71,71,71)" opacity="0.75"/><rect x="364.3" y="223.6" width="1.3" height="1.3" fill="rgb(221,221,221)" opacity="0.75"/><rect x="322.9" y="223.9" width="1.3" height="1.2" fill="rgb(173,173,173)" opacity="0.75"/><rect x="278.6" y="218.1" width="1.2" height="0.7" fill="rgb(152,152,152)" opacity="0.75"/><rect x="283.3" y="224.1" width="2.3" height="1.1" fill="rgb(203,203,203)" opacity="0.75"/><rect x="309.4" y="222.7" width="1.7" height="0.6" fill="rgb(150,150,150)" opacity="0.75"/><rect x="314.0" y="225.7" width="1.4" height="1.2" fill="rgb(77,77,77)" opacity="0.75"/><rect x="430.4" y="214.8" width="1.5" height="0.8" fill="rgb(105,105,105)" opacity="0.75"/><rect x="427.1" y="214.0" width="1.5" height="1.1" fill="rgb(205,205,205)" opacity="0.75"/><rect x="310.4" y="225.3" width="1.1" height="1.3" fill="rgb(97,97,97)" opacity="0.75"/><rect x="443.1" y="228.1" width="1.2" height="1.2" fill="rgb(217,217,217)" opacity="0.75"/><rect x="278.0" y="222.5" width="2.0" height="1.0" fill="rgb(179,179,179)" opacity="0.75"/><rect x="280.2" y="226.2" width="1.7" height="1.1" fill="rgb(44,44,44)" opacity="0.75"/><rect x="432.0" y="220.5" width="2.3" height="1.0" fill="rgb(226,226,226)" opacity="0.75"/><rect x="437.7" y="214.4" width="2.1" height="1.0" fill="rgb(194,194,194)" opacity="0.75"/><rect x="303.4" y="223.4" width="2.3" height="1.3" fill="rgb(171,171,171)" opacity="0.75"/><rect x="379.6" y="216.9" width="1.7" height="0.8" fill="rgb(196,196,196)" opacity="0.75"/><rect x="367.0" y="220.8" width="1.6" height="0.9" fill="rgb(82,82,82)" opacity="0.75"/><rect x="412.4" y="222.4" width="2.3" height="1.0" fill="rgb(74,74,74)" opacity="0.75"/><rect x="432.8" y="225.5" width="1.0" height="0.9" fill="rgb(170,170,170)" opacity="0.75"/><rect x="414.9" y="227.1" width="1.5" height="0.6" fill="rgb(73,73,73)" opacity="0.75"/><rect x="319.8" y="225.2" width="1.2" height="1.1" fill="rgb(108,108,108)" opacity="0.75"/><rect x="330.4" y="218.9" width="2.2" height="1.1" fill="rgb(83,83,83)" opacity="0.75"/><rect x="398.1" y="224.0" width="2.1" height="1.1" fill="rgb(151,151,151)" opacity="0.75"/><rect x="367.4" y="226.4" width="2.2" height="1.1" fill="rgb(77,77,77)" opacity="0.75"/><rect x="421.9" y="217.8" width="1.3" height="0.9" fill="rgb(91,91,91)" opacity="0.75"/><rect x="433.2" y="216.6" width="2.2" height="0.7" fill="rgb(109,109,109)" opacity="0.75"/><rect x="290.4" y="221.5" width="1.1" height="1.1" fill="rgb(70,70,70)" opacity="0.75"/><rect x="412.0" y="215.9" width="1.0" height="1.0" fill="rgb(180,180,180)" opacity="0.75"/><rect x="405.0" y="221.3" width="1.6" height="0.6" fill="rgb(87,87,87)" opacity="0.75"/><rect x="405.7" y="223.0" width="1.1" height="0.8" fill="rgb(103,103,103)" opacity="0.75"/><rect x="419.1" y="228.4" width="1.0" height="1.1" fill="rgb(104,104,104)" opacity="0.75"/><rect x="288.6" y="218.1" width="1.5" height="1.1" fill="rgb(186,186,186)" opacity="0.75"/><rect x="277.6" y="224.9" width="1.4" height="0.9" fill="rgb(165,165,165)" opacity="0.75"/><rect x="433.0" y="222.5" width="2.2" height="1.2" fill="rgb(217,217,217)" opacity="0.75"/><rect x="395.9" y="226.4" width="1.6" height="1.4" fill="rgb(84,84,84)" opacity="0.75"/><rect x="413.0" y="218.2" width="2.1" height="0.9" fill="rgb(103,103,103)" opacity="0.75"/><rect x="428.7" y="226.7" width="1.4" height="1.2" fill="rgb(88,88,88)" opacity="0.75"/><rect x="287.4" y="220.9" width="2.4" height="1.3" fill="rgb(150,150,150)" opacity="0.75"/><rect x="283.8" y="220.0" width="1.9" height="1.1" fill="rgb(107,107,107)" opacity="0.75"/><rect x="366.5" y="219.0" width="2.0" height="1.4" fill="rgb(109,109,109)" opacity="0.75"/><rect x="279.2" y="223.9" width="1.6" height="1.2" fill="rgb(171,171,171)" opacity="0.75"/><rect x="386.2" y="212.3" width="1.7" height="1.0" fill="rgb(173,173,173)" opacity="0.75"/><rect x="440.8" y="221.8" width="1.7" height="1.1" fill="rgb(109,109,109)" opacity="0.75"/><rect x="438.8" y="219.0" width="2.2" height="1.0" fill="rgb(105,105,105)" opacity="0.75"/><rect x="377.4" y="219.1" width="1.8" height="0.9" fill="rgb(174,174,174)" opacity="0.75"/><rect x="324.2" y="224.3" width="0.8" height="1.2" fill="rgb(174,174,174)" opacity="0.75"/><rect x="375.5" y="222.5" width="2.2" height="1.2" fill="rgb(68,68,68)" opacity="0.75"/><rect x="283.9" y="228.4" width="1.5" height="1.0" fill="rgb(106,106,106)" opacity="0.75"/><rect x="441.8" y="216.7" width="1.0" height="1.4" fill="rgb(229,229,229)" opacity="0.75"/><rect x="317.3" y="225.0" width="1.1" height="0.6" fill="rgb(43,43,43)" opacity="0.75"/><rect x="365.7" y="215.1" width="1.8" height="1.1" fill="rgb(206,206,206)" opacity="0.75"/><rect x="392.0" y="218.5" width="2.3" height="1.2" fill="rgb(92,92,92)" opacity="0.75"/><rect x="316.1" y="217.6" width="1.2" height="1.1" fill="rgb(216,216,216)" opacity="0.75"/><rect x="399.4" y="224.0" width="1.1" height="0.8" fill="rgb(53,53,53)" opacity="0.75"/><rect x="442.9" y="227.2" width="0.8" height="0.8" fill="rgb(101,101,101)" opacity="0.75"/><rect x="279.9" y="217.0" width="2.3" height="0.7" fill="rgb(55,55,55)" opacity="0.75"/><rect x="315.5" y="228.3" width="1.3" height="1.2" fill="rgb(180,180,180)" opacity="0.75"/><rect x="418.8" y="215.8" width="1.5" height="1.2" fill="rgb(48,48,48)" opacity="0.75"/><rect x="342.1" y="215.9" width="1.3" height="1.2" fill="rgb(221,221,221)" opacity="0.75"/><rect x="416.7" y="217.3" width="2.2" height="0.7" fill="rgb(199,199,199)" opacity="0.75"/><rect x="289.5" y="223.5" width="2.1" height="0.6" fill="rgb(208,208,208)" opacity="0.75"/><rect x="328.4" y="227.2" width="2.0" height="1.2" fill="rgb(209,209,209)" opacity="0.75"/><rect x="323.7" y="218.3" width="2.3" height="0.9" fill="rgb(211,211,211)" opacity="0.75"/><rect x="350.8" y="222.8" width="1.5" height="1.2" fill="rgb(208,208,208)" opacity="0.75"/><rect x="327.4" y="219.2" width="0.9" height="1.3" fill="rgb(67,67,67)" opacity="0.75"/><rect x="279.4" y="224.6" width="2.1" height="1.0" fill="rgb(217,217,217)" opacity="0.75"/><rect x="418.4" y="222.5" width="2.1" height="0.8" fill="rgb(214,214,214)" opacity="0.75"/><rect x="285.2" y="218.7" width="0.9" height="1.0" fill="rgb(151,151,151)" opacity="0.75"/><rect x="410.1" y="215.7" width="0.9" height="1.1" fill="rgb(212,212,212)" opacity="0.75"/><rect x="299.9" y="225.8" width="1.6" height="1.3" fill="rgb(85,85,85)" opacity="0.75"/><rect x="333.2" y="220.0" width="1.9" height="1.0" fill="rgb(218,218,218)" opacity="0.75"/><rect x="367.2" y="224.1" width="2.0" height="1.4" fill="rgb(227,227,227)" opacity="0.75"/><rect x="335.0" y="212.7" width="2.3" height="1.1" fill="rgb(157,157,157)" opacity="0.75"/><rect x="364.9" y="224.1" width="2.3" height="0.8" fill="rgb(185,185,185)" opacity="0.75"/><rect x="303.1" y="224.7" width="1.5" height="0.8" fill="rgb(177,177,177)" opacity="0.75"/><rect x="441.2" y="213.9" width="2.0" height="0.7" fill="rgb(61,61,61)" opacity="0.75"/><rect x="286.0" y="222.2" width="1.3" height="0.8" fill="rgb(80,80,80)" opacity="0.75"/><rect x="336.8" y="222.0" width="1.5" height="1.3" fill="rgb(82,82,82)" opacity="0.75"/><rect x="344.2" y="227.2" width="2.2" height="1.0" fill="rgb(203,203,203)" opacity="0.75"/><rect x="344.2" y="227.9" width="1.6" height="0.8" fill="rgb(86,86,86)" opacity="0.75"/><rect x="283.8" y="227.9" width="2.1" height="0.6" fill="rgb(182,182,182)" opacity="0.75"/><rect x="433.4" y="226.9" width="2.1" height="1.2" fill="rgb(226,226,226)" opacity="0.75"/><rect x="379.0" y="214.5" width="2.3" height="1.2" fill="rgb(177,177,177)" opacity="0.75"/><rect x="297.7" y="225.7" width="1.0" height="1.2" fill="rgb(83,83,83)" opacity="0.75"/><rect x="275.5" y="226.3" width="1.4" height="1.1" fill="rgb(99,99,99)" opacity="0.75"/><rect x="365.6" y="226.8" width="0.8" height="0.8" fill="rgb(157,157,157)" opacity="0.75"/><rect x="308.3" y="225.1" width="1.7" height="1.0" fill="rgb(94,94,94)" opacity="0.75"/><rect x="302.3" y="226.7" width="1.7" height="1.4" fill="rgb(61,61,61)" opacity="0.75"/><rect x="389.4" y="213.5" width="1.9" height="1.2" fill="rgb(161,161,161)" opacity="0.75"/><rect x="409.5" y="216.2" width="1.2" height="1.1" fill="rgb(223,223,223)" opacity="0.75"/><rect x="353.7" y="214.5" width="2.2" height="0.7" fill="rgb(109,109,109)" opacity="0.75"/><rect x="382.7" y="227.5" width="1.7" height="0.7" fill="rgb(231,231,231)" opacity="0.75"/><rect x="307.6" y="221.9" width="1.7" height="1.2" fill="rgb(176,176,176)" opacity="0.75"/><rect x="332.0" y="225.8" width="1.0" height="1.1" fill="rgb(46,46,46)" opacity="0.75"/><rect x="306.0" y="220.1" width="1.0" height="0.6" fill="rgb(42,42,42)" opacity="0.75"/><rect x="444.2" y="219.6" width="2.3" height="0.7" fill="rgb(179,179,179)" opacity="0.75"/><rect x="310.5" y="218.7" width="1.8" height="1.2" fill="rgb(191,191,191)" opacity="0.75"/><rect x="380.2" y="217.1" width="1.2" height="0.8" fill="rgb(95,95,95)" opacity="0.75"/><rect x="327.8" y="220.8" width="2.1" height="1.3" fill="rgb(167,167,167)" opacity="0.75"/><rect x="379.9" y="214.5" width="1.4" height="1.0" fill="rgb(93,93,93)" opacity="0.75"/><rect x="299.6" y="225.4" width="1.7" height="0.6" fill="rgb(109,109,109)" opacity="0.75"/><rect x="388.1" y="224.9" width="1.9" height="0.9" fill="rgb(190,190,190)" opacity="0.75"/><rect x="434.3" y="218.7" width="1.2" height="1.1" fill="rgb(72,72,72)" opacity="0.75"/><rect x="368.7" y="213.7" width="1.8" height="0.7" fill="rgb(164,164,164)" opacity="0.75"/><rect x="416.4" y="218.7" width="2.1" height="0.7" fill="rgb(170,170,170)" opacity="0.75"/><rect x="369.0" y="213.8" width="1.3" height="1.1" fill="rgb(42,42,42)" opacity="0.75"/><rect x="401.5" y="219.4" width="1.1" height="0.9" fill="rgb(81,81,81)" opacity="0.75"/><rect x="281.0" y="222.9" width="1.6" height="0.8" fill="rgb(184,184,184)" opacity="0.75"/><rect x="372.5" y="217.7" width="1.4" height="1.0" fill="rgb(84,84,84)" opacity="0.75"/><rect x="292.8" y="221.2" width="2.0" height="1.0" fill="rgb(227,227,227)" opacity="0.75"/><rect x="445.5" y="226.0" width="1.0" height="0.7" fill="rgb(184,184,184)" opacity="0.75"/><rect x="436.0" y="218.2" width="1.3" height="0.6" fill="rgb(76,76,76)" opacity="0.75"/><rect x="399.4" y="227.0" width="2.2" height="1.3" fill="rgb(200,200,200)" opacity="0.75"/><rect x="317.1" y="226.7" width="1.6" height="0.7" fill="rgb(56,56,56)" opacity="0.75"/><rect x="431.0" y="221.6" width="2.4" height="1.2" fill="rgb(85,85,85)" opacity="0.75"/><rect x="424.4" y="219.5" width="1.2" height="1.2" fill="rgb(78,78,78)" opacity="0.75"/><rect x="372.3" y="226.9" width="2.2" height="1.1" fill="rgb(46,46,46)" opacity="0.75"/><rect x="352.8" y="218.6" width="0.9" height="1.3" fill="rgb(90,90,90)" opacity="0.75"/><rect x="414.8" y="220.2" width="1.3" height="1.0" fill="rgb(64,64,64)" opacity="0.75"/><rect x="329.0" y="218.8" width="2.2" height="0.8" fill="rgb(216,216,216)" opacity="0.75"/><rect x="422.3" y="224.2" width="2.2" height="0.6" fill="rgb(176,176,176)" opacity="0.75"/><rect x="384.0" y="223.5" width="1.1" height="1.3" fill="rgb(79,79,79)" opacity="0.75"/><rect x="283.9" y="218.0" width="2.2" height="1.2" fill="rgb(176,176,176)" opacity="0.75"/><rect x="298.4" y="225.2" width="1.1" height="1.3" fill="rgb(105,105,105)" opacity="0.75"/><rect x="295.9" y="225.1" width="2.1" height="0.9" fill="rgb(211,211,211)" opacity="0.75"/><rect x="388.6" y="226.6" width="2.2" height="0.7" fill="rgb(169,169,169)" opacity="0.75"/><rect x="314.0" y="217.4" width="1.5" height="1.0" fill="rgb(86,86,86)" opacity="0.75"/><rect x="366.1" y="213.8" width="1.5" height="1.1" fill="rgb(174,174,174)" opacity="0.75"/><rect x="303.4" y="228.4" width="1.1" height="1.3" fill="rgb(53,53,53)" opacity="0.75"/><rect x="444.3" y="213.4" width="0.8" height="1.3" fill="rgb(213,213,213)" opacity="0.75"/><rect x="285.6" y="217.6" width="1.9" height="1.2" fill="rgb(227,227,227)" opacity="0.75"/><rect x="363.7" y="221.1" width="1.8" height="1.2" fill="rgb(99,99,99)" opacity="0.75"/><rect x="294.5" y="222.3" width="2.1" height="1.2" fill="rgb(196,196,196)" opacity="0.75"/><rect x="315.7" y="222.1" width="1.2" height="0.8" fill="rgb(199,199,199)" opacity="0.75"/><rect x="441.4" y="213.8" width="1.0" height="0.6" fill="rgb(224,224,224)" opacity="0.75"/><rect x="360.2" y="220.3" width="0.9" height="1.3" fill="rgb(70,70,70)" opacity="0.75"/><rect x="372.6" y="221.1" width="0.9" height="0.9" fill="rgb(95,95,95)" opacity="0.75"/><rect x="394.3" y="225.7" width="0.9" height="1.3" fill="rgb(216,216,216)" opacity="0.75"/><rect x="304.7" y="220.7" width="0.9" height="0.9" fill="rgb(208,208,208)" opacity="0.75"/><rect x="337.7" y="216.2" width="2.0" height="1.1" fill="rgb(153,153,153)" opacity="0.75"/><rect x="298.3" y="225.8" width="1.2" height="1.3" fill="rgb(76,76,76)" opacity="0.75"/><rect x="299.5" y="222.0" width="2.4" height="1.1" fill="rgb(60,60,60)" opacity="0.75"/><rect x="398.0" y="228.1" width="1.7" height="0.8" fill="rgb(82,82,82)" opacity="0.75"/><rect x="354.3" y="227.5" width="0.9" height="0.9" fill="rgb(65,65,65)" opacity="0.75"/><rect x="386.5" y="213.1" width="1.5" height="0.9" fill="rgb(64,64,64)" opacity="0.75"/><rect x="419.5" y="220.0" width="1.2" height="1.2" fill="rgb(168,168,168)" opacity="0.75"/><rect x="412.9" y="221.3" width="1.6" height="1.0" fill="rgb(200,200,200)" opacity="0.75"/><rect x="382.5" y="214.9" width="0.9" height="1.2" fill="rgb(195,195,195)" opacity="0.75"/><rect x="337.4" y="217.0" width="1.6" height="1.1" fill="rgb(165,165,165)" opacity="0.75"/><rect x="386.4" y="215.7" width="1.0" height="0.8" fill="rgb(154,154,154)" opacity="0.75"/><rect x="418.9" y="216.4" width="0.9" height="1.3" fill="rgb(221,221,221)" opacity="0.75"/><rect x="331.0" y="225.0" width="1.8" height="1.0" fill="rgb(154,154,154)" opacity="0.75"/><rect x="307.4" y="223.4" width="1.5" height="1.0" fill="rgb(167,167,167)" opacity="0.75"/><rect x="298.6" y="225.4" width="1.0" height="0.8" fill="rgb(211,211,211)" opacity="0.75"/><rect x="323.3" y="225.1" width="1.2" height="0.8" fill="rgb(182,182,182)" opacity="0.75"/><rect x="334.3" y="216.0" width="1.7" height="1.2" fill="rgb(152,152,152)" opacity="0.75"/><rect x="442.2" y="217.6" width="1.7" height="0.9" fill="rgb(86,86,86)" opacity="0.75"/><rect x="296.2" y="226.0" width="0.9" height="0.9" fill="rgb(216,216,216)" opacity="0.75"/><rect x="342.4" y="214.6" width="1.9" height="0.8" fill="rgb(177,177,177)" opacity="0.75"/><rect x="433.7" y="216.3" width="1.6" height="1.2" fill="rgb(93,93,93)" opacity="0.75"/><rect x="430.6" y="225.6" width="1.9" height="0.6" fill="rgb(171,171,171)" opacity="0.75"/><rect x="342.3" y="219.1" width="1.4" height="1.3" fill="rgb(44,44,44)" opacity="0.75"/><rect x="326.6" y="224.8" width="1.4" height="1.3" fill="rgb(102,102,102)" opacity="0.75"/><rect x="372.1" y="216.6" width="1.4" height="0.9" fill="rgb(165,165,165)" opacity="0.75"/><rect x="428.9" y="214.1" width="1.8" height="1.1" fill="rgb(89,89,89)" opacity="0.75"/><rect x="345.6" y="220.2" width="1.4" height="1.3" fill="rgb(220,220,220)" opacity="0.75"/><rect x="281.8" y="218.3" width="1.6" height="0.6" fill="rgb(176,176,176)" opacity="0.75"/><rect x="378.9" y="216.4" width="2.3" height="1.4" fill="rgb(58,58,58)" opacity="0.75"/><rect x="275.9" y="223.0" width="1.8" height="1.0" fill="rgb(99,99,99)" opacity="0.75"/><rect x="417.5" y="228.1" width="1.3" height="1.2" fill="rgb(63,63,63)" opacity="0.75"/><rect x="394.3" y="223.7" width="1.3" height="1.2" fill="rgb(107,107,107)" opacity="0.75"/><rect x="413.0" y="218.7" width="1.2" height="0.8" fill="rgb(181,181,181)" opacity="0.75"/><rect x="330.9" y="216.1" width="2.4" height="1.3" fill="rgb(75,75,75)" opacity="0.75"/><rect x="426.8" y="218.5" width="0.9" height="1.1" fill="rgb(193,193,193)" opacity="0.75"/><rect x="345.9" y="221.1" width="1.2" height="1.1" fill="rgb(183,183,183)" opacity="0.75"/><rect x="338.2" y="223.5" width="2.1" height="1.3" fill="rgb(52,52,52)" opacity="0.75"/><rect x="372.4" y="219.1" width="2.1" height="0.7" fill="rgb(202,202,202)" opacity="0.75"/><rect x="339.8" y="223.4" width="1.6" height="1.2" fill="rgb(56,56,56)" opacity="0.75"/><rect x="410.6" y="227.5" width="1.8" height="0.9" fill="rgb(173,173,173)" opacity="0.75"/><rect x="435.0" y="228.3" width="2.2" height="0.8" fill="rgb(43,43,43)" opacity="0.75"/><rect x="336.3" y="221.2" width="2.1" height="1.3" fill="rgb(96,96,96)" opacity="0.75"/><rect x="304.6" y="218.8" width="1.2" height="1.2" fill="rgb(223,223,223)" opacity="0.75"/><rect x="345.1" y="216.2" width="1.7" height="1.2" fill="rgb(80,80,80)" opacity="0.75"/><rect x="300.4" y="219.8" width="2.2" height="0.9" fill="rgb(229,229,229)" opacity="0.75"/><rect x="301.3" y="227.3" width="1.8" height="0.8" fill="rgb(198,198,198)" opacity="0.75"/><rect x="314.2" y="221.9" width="1.0" height="0.6" fill="rgb(65,65,65)" opacity="0.75"/><rect x="405.4" y="223.8" width="2.4" height="0.8" fill="rgb(40,40,40)" opacity="0.75"/><rect x="423.7" y="221.2" width="1.7" height="0.8" fill="rgb(218,218,218)" opacity="0.75"/><rect x="380.8" y="225.6" width="2.2" height="1.4" fill="rgb(166,166,166)" opacity="0.75"/><rect x="351.1" y="226.2" width="2.3" height="1.0" fill="rgb(90,90,90)" opacity="0.75"/><rect x="390.8" y="216.9" width="1.6" height="0.6" fill="rgb(41,41,41)" opacity="0.75"/><rect x="311.3" y="228.0" width="2.1" height="1.2" fill="rgb(40,40,40)" opacity="0.75"/><rect x="343.6" y="225.6" width="2.3" height="1.0" fill="rgb(97,97,97)" opacity="0.75"/><rect x="419.0" y="220.4" width="1.7" height="0.8" fill="rgb(102,102,102)" opacity="0.75"/><rect x="341.8" y="219.1" width="1.8" height="1.0" fill="rgb(218,218,218)" opacity="0.75"/><rect x="328.7" y="215.3" width="1.3" height="1.2" fill="rgb(200,200,200)" opacity="0.75"/><rect x="311.5" y="225.4" width="1.4" height="0.7" fill="rgb(78,78,78)" opacity="0.75"/><rect x="339.1" y="215.8" width="1.4" height="0.9" fill="rgb(41,41,41)" opacity="0.75"/><rect x="367.2" y="227.8" width="0.9" height="1.1" fill="rgb(224,224,224)" opacity="0.75"/><rect x="374.3" y="217.4" width="1.5" height="1.2" fill="rgb(229,229,229)" opacity="0.75"/><rect x="305.7" y="220.9" width="2.2" height="1.2" fill="rgb(230,230,230)" opacity="0.75"/><rect x="365.1" y="213.4" width="1.1" height="1.1" fill="rgb(91,91,91)" opacity="0.75"/><rect x="427.2" y="226.4" width="1.0" height="1.2" fill="rgb(84,84,84)" opacity="0.75"/><rect x="402.6" y="220.3" width="1.4" height="1.0" fill="rgb(72,72,72)" opacity="0.75"/><rect x="282.6" y="227.6" width="1.7" height="1.1" fill="rgb(188,188,188)" opacity="0.75"/><rect x="434.7" y="215.5" width="1.1" height="1.0" fill="rgb(234,234,234)" opacity="0.75"/><rect x="369.7" y="213.4" width="1.0" height="0.7" fill="rgb(213,213,213)" opacity="0.75"/><rect x="433.4" y="225.3" width="1.6" height="1.4" fill="rgb(49,49,49)" opacity="0.75"/><rect x="286.4" y="227.0" width="1.5" height="1.0" fill="rgb(171,171,171)" opacity="0.75"/><rect x="423.4" y="217.2" width="1.0" height="1.0" fill="rgb(59,59,59)" opacity="0.75"/><rect x="404.8" y="226.7" width="2.0" height="1.0" fill="rgb(45,45,45)" opacity="0.75"/><rect x="430.3" y="225.4" width="1.3" height="1.3" fill="rgb(50,50,50)" opacity="0.75"/><rect x="438.7" y="216.4" width="0.8" height="1.1" fill="rgb(185,185,185)" opacity="0.75"/><rect x="355.0" y="221.3" width="2.2" height="1.2" fill="rgb(205,205,205)" opacity="0.75"/><rect x="309.0" y="224.9" width="1.9" height="1.3" fill="rgb(151,151,151)" opacity="0.75"/><rect x="437.1" y="223.2" width="1.1" height="1.1" fill="rgb(54,54,54)" opacity="0.75"/><rect x="282.4" y="220.0" width="1.3" height="0.6" fill="rgb(179,179,179)" opacity="0.75"/><rect x="287.1" y="219.3" width="1.1" height="0.7" fill="rgb(223,223,223)" opacity="0.75"/><rect x="320.8" y="221.6" width="1.6" height="1.4" fill="rgb(82,82,82)" opacity="0.75"/><rect x="334.6" y="223.8" width="1.0" height="1.3" fill="rgb(199,199,199)" opacity="0.75"/><rect x="438.2" y="214.2" width="1.4" height="1.2" fill="rgb(169,169,169)" opacity="0.75"/><rect x="378.2" y="219.4" width="1.7" height="1.1" fill="rgb(185,185,185)" opacity="0.75"/><rect x="321.1" y="224.7" width="1.5" height="0.7" fill="rgb(40,40,40)" opacity="0.75"/><rect x="428.5" y="217.4" width="1.7" height="0.7" fill="rgb(69,69,69)" opacity="0.75"/><rect x="428.7" y="215.0" width="2.4" height="1.3" fill="rgb(181,181,181)" opacity="0.75"/><rect x="424.7" y="223.8" width="1.5" height="0.9" fill="rgb(50,50,50)" opacity="0.75"/><rect x="390.1" y="222.2" width="1.5" height="0.8" fill="rgb(232,232,232)" opacity="0.75"/><rect x="367.9" y="214.5" width="2.1" height="1.3" fill="rgb(234,234,234)" opacity="0.75"/><rect x="363.9" y="222.3" width="1.0" height="1.2" fill="rgb(220,220,220)" opacity="0.75"/><rect x="275.9" y="228.0" width="1.9" height="1.4" fill="rgb(216,216,216)" opacity="0.75"/><rect x="356.4" y="226.9" width="2.2" height="1.4" fill="rgb(163,163,163)" opacity="0.75"/><rect x="428.6" y="214.0" width="2.0" height="0.7" fill="rgb(64,64,64)" opacity="0.75"/><rect x="446.2" y="221.7" width="1.6" height="0.8" fill="rgb(44,44,44)" opacity="0.75"/><rect x="335.7" y="216.5" width="1.7" height="0.7" fill="rgb(81,81,81)" opacity="0.75"/><rect x="293.2" y="218.9" width="1.0" height="1.1" fill="rgb(102,102,102)" opacity="0.75"/><rect x="305.0" y="224.5" width="1.5" height="0.6" fill="rgb(107,107,107)" opacity="0.75"/><rect x="301.6" y="226.6" width="1.3" height="1.1" fill="rgb(91,91,91)" opacity="0.75"/><rect x="344.6" y="221.2" width="1.4" height="0.8" fill="rgb(103,103,103)" opacity="0.75"/><rect x="312.0" y="222.8" width="1.1" height="1.4" fill="rgb(185,185,185)" opacity="0.75"/><rect x="371.1" y="214.6" width="1.4" height="0.8" fill="rgb(108,108,108)" opacity="0.75"/><rect x="401.8" y="217.6" width="1.4" height="1.1" fill="rgb(186,186,186)" opacity="0.75"/><rect x="332.4" y="214.8" width="1.6" height="1.0" fill="rgb(61,61,61)" opacity="0.75"/><rect x="343.7" y="217.2" width="1.4" height="1.4" fill="rgb(181,181,181)" opacity="0.75"/><rect x="364.3" y="221.4" width="0.8" height="1.1" fill="rgb(91,91,91)" opacity="0.75"/><rect x="439.7" y="218.7" width="1.1" height="1.2" fill="rgb(181,181,181)" opacity="0.75"/><rect x="284.9" y="219.0" width="0.9" height="0.7" fill="rgb(214,214,214)" opacity="0.75"/><rect x="318.4" y="220.2" width="1.4" height="0.8" fill="rgb(186,186,186)" opacity="0.75"/><rect x="391.6" y="214.1" width="0.9" height="0.7" fill="rgb(220,220,220)" opacity="0.75"/><rect x="302.0" y="221.0" width="0.9" height="1.1" fill="rgb(234,234,234)" opacity="0.75"/><rect x="369.8" y="227.3" width="1.7" height="0.6" fill="rgb(84,84,84)" opacity="0.75"/><rect x="401.4" y="220.0" width="1.1" height="0.7" fill="rgb(87,87,87)" opacity="0.75"/><rect x="392.6" y="215.0" width="1.5" height="1.3" fill="rgb(92,92,92)" opacity="0.75"/><rect x="399.8" y="226.1" width="1.9" height="0.9" fill="rgb(106,106,106)" opacity="0.75"/><rect x="393.5" y="223.1" width="1.5" height="1.0" fill="rgb(47,47,47)" opacity="0.75"/><rect x="418.9" y="216.5" width="2.2" height="1.3" fill="rgb(101,101,101)" opacity="0.75"/><rect x="309.6" y="225.2" width="1.6" height="1.0" fill="rgb(187,187,187)" opacity="0.75"/><rect x="369.3" y="226.2" width="1.4" height="0.7" fill="rgb(94,94,94)" opacity="0.75"/><rect x="335.1" y="222.0" width="1.4" height="1.1" fill="rgb(183,183,183)" opacity="0.75"/><rect x="357.5" y="228.2" width="1.8" height="0.9" fill="rgb(62,62,62)" opacity="0.75"/><rect x="345.6" y="214.9" width="1.4" height="1.2" fill="rgb(218,218,218)" opacity="0.75"/><rect x="349.3" y="223.1" width="1.4" height="0.7" fill="rgb(232,232,232)" opacity="0.75"/><rect x="307.2" y="224.5" width="0.9" height="1.2" fill="rgb(87,87,87)" opacity="0.75"/><rect x="372.5" y="221.2" width="2.1" height="0.7" fill="rgb(162,162,162)" opacity="0.75"/><rect x="409.5" y="217.5" width="1.0" height="1.2" fill="rgb(195,195,195)" opacity="0.75"/><rect x="375.0" y="226.8" width="1.0" height="1.2" fill="rgb(208,208,208)" opacity="0.75"/><rect x="413.4" y="223.1" width="1.2" height="0.6" fill="rgb(98,98,98)" opacity="0.75"/><rect x="367.2" y="216.8" width="1.2" height="0.7" fill="rgb(60,60,60)" opacity="0.75"/><rect x="280.3" y="226.0" width="1.1" height="1.3" fill="rgb(162,162,162)" opacity="0.75"/><rect x="421.5" y="223.1" width="1.3" height="0.9" fill="rgb(212,212,212)" opacity="0.75"/><rect x="408.7" y="223.6" width="1.4" height="0.8" fill="rgb(190,190,190)" opacity="0.75"/><rect x="384.8" y="216.5" width="2.3" height="0.7" fill="rgb(90,90,90)" opacity="0.75"/><rect x="436.2" y="223.2" width="2.3" height="1.4" fill="rgb(45,45,45)" opacity="0.75"/><rect x="308.7" y="221.7" width="1.0" height="0.9" fill="rgb(64,64,64)" opacity="0.75"/><rect x="299.8" y="227.5" width="1.5" height="1.1" fill="rgb(108,108,108)" opacity="0.75"/><rect x="290.0" y="225.0" width="1.5" height="1.0" fill="rgb(82,82,82)" opacity="0.75"/><rect x="288.8" y="222.6" width="1.0" height="0.8" fill="rgb(79,79,79)" opacity="0.75"/><rect x="332.7" y="223.9" width="2.2" height="1.3" fill="rgb(105,105,105)" opacity="0.75"/><rect x="278.8" y="222.4" width="2.3" height="0.7" fill="rgb(208,208,208)" opacity="0.75"/><rect x="364.1" y="227.9" width="2.3" height="0.6" fill="rgb(159,159,159)" opacity="0.75"/><rect x="280.8" y="226.5" width="0.8" height="0.7" fill="rgb(88,88,88)" opacity="0.75"/><rect x="411.2" y="228.2" width="1.2" height="0.9" fill="rgb(184,184,184)" opacity="0.75"/><rect x="429.0" y="217.2" width="1.6" height="0.9" fill="rgb(181,181,181)" opacity="0.75"/><rect x="386.8" y="227.4" width="1.2" height="1.0" fill="rgb(68,68,68)" opacity="0.75"/><rect x="409.4" y="219.1" width="1.8" height="1.1" fill="rgb(205,205,205)" opacity="0.75"/><rect x="373.4" y="212.6" width="2.0" height="0.8" fill="rgb(155,155,155)" opacity="0.75"/><rect x="281.2" y="219.6" width="1.5" height="0.6" fill="rgb(46,46,46)" opacity="0.75"/><rect x="370.6" y="214.7" width="2.4" height="0.9" fill="rgb(86,86,86)" opacity="0.75"/><rect x="298.5" y="226.2" width="1.4" height="0.8" fill="rgb(94,94,94)" opacity="0.75"/><rect x="376.8" y="224.2" width="0.9" height="0.6" fill="rgb(73,73,73)" opacity="0.75"/><rect x="438.6" y="219.6" width="2.2" height="1.4" fill="rgb(51,51,51)" opacity="0.75"/><rect x="434.7" y="218.4" width="2.3" height="0.8" fill="rgb(162,162,162)" opacity="0.75"/><rect x="298.5" y="225.0" width="1.4" height="1.2" fill="rgb(211,211,211)" opacity="0.75"/><rect x="433.4" y="215.5" width="1.9" height="0.7" fill="rgb(233,233,233)" opacity="0.75"/><rect x="330.3" y="222.3" width="2.0" height="1.0" fill="rgb(194,194,194)" opacity="0.75"/><rect x="437.4" y="214.3" width="2.4" height="1.3" fill="rgb(156,156,156)" opacity="0.75"/><rect x="391.2" y="215.6" width="1.3" height="1.2" fill="rgb(107,107,107)" opacity="0.75"/><rect x="441.7" y="220.1" width="0.9" height="0.7" fill="rgb(221,221,221)" opacity="0.75"/><rect x="355.6" y="223.9" width="1.3" height="0.6" fill="rgb(70,70,70)" opacity="0.75"/><rect x="343.9" y="225.9" width="2.1" height="1.0" fill="rgb(152,152,152)" opacity="0.75"/><rect x="387.0" y="219.8" width="2.4" height="0.9" fill="rgb(151,151,151)" opacity="0.75"/><rect x="420.4" y="222.4" width="1.1" height="0.7" fill="rgb(171,171,171)" opacity="0.75"/><rect x="374.4" y="222.2" width="1.3" height="1.3" fill="rgb(199,199,199)" opacity="0.75"/><rect x="315.2" y="227.7" width="1.5" height="1.0" fill="rgb(99,99,99)" opacity="0.75"/><rect x="432.6" y="224.9" width="1.1" height="1.4" fill="rgb(176,176,176)" opacity="0.75"/><rect x="323.9" y="217.6" width="1.6" height="1.3" fill="rgb(88,88,88)" opacity="0.75"/><rect x="363.3" y="219.2" width="1.6" height="1.3" fill="rgb(192,192,192)" opacity="0.75"/><rect x="372.6" y="213.2" width="1.8" height="1.4" fill="rgb(62,62,62)" opacity="0.75"/><rect x="323.2" y="221.9" width="1.7" height="0.9" fill="rgb(45,45,45)" opacity="0.75"/><rect x="282.4" y="219.0" width="1.7" height="1.4" fill="rgb(158,158,158)" opacity="0.75"/><rect x="359.1" y="221.1" width="2.3" height="1.1" fill="rgb(221,221,221)" opacity="0.75"/><rect x="393.3" y="219.9" width="1.9" height="1.2" fill="rgb(60,60,60)" opacity="0.75"/><rect x="397.1" y="225.6" width="1.3" height="0.8" fill="rgb(164,164,164)" opacity="0.75"/><rect x="432.6" y="213.6" width="2.3" height="1.1" fill="rgb(179,179,179)" opacity="0.75"/><rect x="286.3" y="224.6" width="1.3" height="0.7" fill="rgb(233,233,233)" opacity="0.75"/><rect x="394.1" y="224.8" width="2.0" height="1.1" fill="rgb(108,108,108)" opacity="0.75"/><rect x="349.9" y="220.2" width="1.7" height="1.4" fill="rgb(67,67,67)" opacity="0.75"/><rect x="384.7" y="220.1" width="2.2" height="1.0" fill="rgb(66,66,66)" opacity="0.75"/><rect x="442.8" y="216.5" width="1.6" height="0.9" fill="rgb(83,83,83)" opacity="0.75"/><rect x="322.0" y="219.2" width="1.3" height="1.3" fill="rgb(85,85,85)" opacity="0.75"/><rect x="431.3" y="217.8" width="2.0" height="0.9" fill="rgb(202,202,202)" opacity="0.75"/><rect x="323.1" y="222.9" width="1.6" height="1.2" fill="rgb(74,74,74)" opacity="0.75"/><rect x="318.0" y="219.3" width="1.4" height="0.9" fill="rgb(170,170,170)" opacity="0.75"/><rect x="439.3" y="217.6" width="1.1" height="1.3" fill="rgb(222,222,222)" opacity="0.75"/><rect x="410.4" y="227.3" width="1.9" height="1.2" fill="rgb(186,186,186)" opacity="0.75"/><rect x="370.3" y="222.7" width="1.7" height="0.9" fill="rgb(226,226,226)" opacity="0.75"/><rect x="277.4" y="217.5" width="1.1" height="1.4" fill="rgb(52,52,52)" opacity="0.75"/><rect x="410.0" y="222.7" width="1.9" height="1.0" fill="rgb(105,105,105)" opacity="0.75"/><rect x="349.3" y="215.9" width="1.7" height="0.6" fill="rgb(73,73,73)" opacity="0.75"/><rect x="354.8" y="223.0" width="1.7" height="1.2" fill="rgb(234,234,234)" opacity="0.75"/><rect x="344.3" y="223.4" width="0.9" height="1.1" fill="rgb(87,87,87)" opacity="0.75"/><rect x="317.3" y="223.4" width="2.0" height="1.1" fill="rgb(182,182,182)" opacity="0.75"/><rect x="310.9" y="219.7" width="2.3" height="1.1" fill="rgb(233,233,233)" opacity="0.75"/><rect x="332.7" y="213.3" width="2.0" height="1.3" fill="rgb(211,211,211)" opacity="0.75"/><rect x="308.1" y="218.2" width="1.4" height="0.9" fill="rgb(46,46,46)" opacity="0.75"/><rect x="352.8" y="218.9" width="1.8" height="0.7" fill="rgb(184,184,184)" opacity="0.75"/><rect x="401.1" y="223.0" width="2.2" height="0.7" fill="rgb(206,206,206)" opacity="0.75"/><rect x="314.1" y="218.6" width="1.5" height="1.1" fill="rgb(200,200,200)" opacity="0.75"/><rect x="314.0" y="225.6" width="1.7" height="0.9" fill="rgb(233,233,233)" opacity="0.75"/><rect x="419.0" y="219.5" width="1.2" height="0.9" fill="rgb(157,157,157)" opacity="0.75"/><rect x="445.3" y="215.9" width="2.1" height="1.3" fill="rgb(103,103,103)" opacity="0.75"/><rect x="342.2" y="222.4" width="1.7" height="0.8" fill="rgb(214,214,214)" opacity="0.75"/><rect x="396.0" y="221.8" width="2.0" height="1.1" fill="rgb(78,78,78)" opacity="0.75"/><rect x="413.8" y="221.7" width="1.6" height="1.0" fill="rgb(214,214,214)" opacity="0.75"/><rect x="303.9" y="224.6" width="2.2" height="1.4" fill="rgb(206,206,206)" opacity="0.75"/><rect x="391.0" y="214.2" width="1.7" height="1.4" fill="rgb(189,189,189)" opacity="0.75"/><rect x="335.6" y="224.7" width="1.9" height="1.3" fill="rgb(45,45,45)" opacity="0.75"/><rect x="340.3" y="217.4" width="1.7" height="0.9" fill="rgb(65,65,65)" opacity="0.75"/><rect x="344.5" y="225.4" width="1.1" height="0.6" fill="rgb(83,83,83)" opacity="0.75"/><rect x="431.1" y="223.0" width="1.6" height="1.2" fill="rgb(41,41,41)" opacity="0.75"/><rect x="280.1" y="226.3" width="1.9" height="0.9" fill="rgb(167,167,167)" opacity="0.75"/><rect x="425.6" y="217.3" width="2.3" height="1.2" fill="rgb(176,176,176)" opacity="0.75"/><rect x="323.5" y="222.6" width="1.0" height="1.4" fill="rgb(196,196,196)" opacity="0.75"/><rect x="333.7" y="219.6" width="1.6" height="1.1" fill="rgb(70,70,70)" opacity="0.75"/><rect x="334.9" y="224.8" width="1.4" height="0.8" fill="rgb(222,222,222)" opacity="0.75"/><rect x="398.2" y="214.2" width="1.0" height="0.6" fill="rgb(88,88,88)" opacity="0.75"/><rect x="335.7" y="228.3" width="2.1" height="0.9" fill="rgb(82,82,82)" opacity="0.75"/><rect x="430.8" y="222.7" width="1.9" height="0.9" fill="rgb(78,78,78)" opacity="0.75"/><rect x="355.3" y="218.4" width="0.8" height="1.3" fill="rgb(180,180,180)" opacity="0.75"/><rect x="326.6" y="215.4" width="1.2" height="0.7" fill="rgb(65,65,65)" opacity="0.75"/><rect x="420.1" y="221.2" width="1.9" height="1.0" fill="rgb(176,176,176)" opacity="0.75"/><rect x="346.0" y="219.8" width="1.3" height="0.8" fill="rgb(75,75,75)" opacity="0.75"/><rect x="342.3" y="223.3" width="1.4" height="1.3" fill="rgb(42,42,42)" opacity="0.75"/><rect x="370.6" y="219.9" width="1.4" height="1.0" fill="rgb(65,65,65)" opacity="0.75"/><rect x="425.9" y="228.4" width="1.0" height="1.0" fill="rgb(104,104,104)" opacity="0.75"/><rect x="332.8" y="219.6" width="1.6" height="1.4" fill="rgb(153,153,153)" opacity="0.75"/><rect x="288.2" y="228.4" width="1.9" height="1.2" fill="rgb(162,162,162)" opacity="0.75"/><rect x="351.9" y="228.4" width="1.7" height="0.7" fill="rgb(102,102,102)" opacity="0.75"/><rect x="354.7" y="227.1" width="1.8" height="1.2" fill="rgb(168,168,168)" opacity="0.75"/><rect x="444.6" y="227.3" width="1.8" height="0.8" fill="rgb(83,83,83)" opacity="0.75"/><rect x="328.5" y="216.9" width="1.2" height="1.3" fill="rgb(102,102,102)" opacity="0.75"/><rect x="399.2" y="224.9" width="2.1" height="1.1" fill="rgb(44,44,44)" opacity="0.75"/><rect x="402.0" y="226.8" width="2.2" height="1.2" fill="rgb(233,233,233)" opacity="0.75"/><rect x="330.0" y="215.5" width="1.4" height="1.3" fill="rgb(208,208,208)" opacity="0.75"/><rect x="318.5" y="225.3" width="1.2" height="0.8" fill="rgb(52,52,52)" opacity="0.75"/><rect x="432.3" y="223.5" width="1.4" height="1.3" fill="rgb(44,44,44)" opacity="0.75"/><rect x="389.1" y="214.4" width="2.3" height="0.9" fill="rgb(205,205,205)" opacity="0.75"/><rect x="276.5" y="221.4" width="0.9" height="0.6" fill="rgb(160,160,160)" opacity="0.75"/><rect x="443.5" y="218.7" width="1.1" height="0.6" fill="rgb(63,63,63)" opacity="0.75"/><rect x="387.9" y="222.7" width="2.0" height="0.7" fill="rgb(188,188,188)" opacity="0.75"/><rect x="423.3" y="214.9" width="1.8" height="1.2" fill="rgb(189,189,189)" opacity="0.75"/><rect x="405.5" y="224.5" width="1.2" height="1.1" fill="rgb(43,43,43)" opacity="0.75"/><rect x="428.6" y="217.2" width="1.0" height="0.9" fill="rgb(85,85,85)" opacity="0.75"/><rect x="444.4" y="225.4" width="1.1" height="0.7" fill="rgb(81,81,81)" opacity="0.75"/><rect x="309.6" y="224.5" width="1.5" height="0.9" fill="rgb(164,164,164)" opacity="0.75"/><rect x="403.1" y="215.4" width="1.1" height="0.9" fill="rgb(40,40,40)" opacity="0.75"/><rect x="276.9" y="227.1" width="2.3" height="0.7" fill="rgb(183,183,183)" opacity="0.75"/><rect x="340.9" y="224.1" width="1.2" height="0.8" fill="rgb(66,66,66)" opacity="0.75"/><rect x="317.1" y="228.5" width="1.8" height="1.3" fill="rgb(46,46,46)" opacity="0.75"/><rect x="333.8" y="216.6" width="2.2" height="0.9" fill="rgb(160,160,160)" opacity="0.75"/><rect x="378.9" y="227.8" width="2.4" height="1.3" fill="rgb(199,199,199)" opacity="0.75"/><rect x="387.5" y="227.9" width="1.0" height="1.2" fill="rgb(50,50,50)" opacity="0.75"/><rect x="285.9" y="224.2" width="1.1" height="1.0" fill="rgb(177,177,177)" opacity="0.75"/><rect x="422.0" y="228.3" width="1.7" height="0.8" fill="rgb(58,58,58)" opacity="0.75"/><rect x="340.4" y="222.5" width="1.8" height="1.1" fill="rgb(91,91,91)" opacity="0.75"/><rect x="355.6" y="221.5" width="2.1" height="0.7" fill="rgb(41,41,41)" opacity="0.75"/><rect x="354.5" y="221.1" width="1.2" height="1.2" fill="rgb(172,172,172)" opacity="0.75"/><rect x="409.0" y="222.0" width="1.0" height="1.1" fill="rgb(83,83,83)" opacity="0.75"/><rect x="392.6" y="219.4" width="1.7" height="1.1" fill="rgb(99,99,99)" opacity="0.75"/><rect x="440.9" y="213.8" width="1.9" height="0.8" fill="rgb(153,153,153)" opacity="0.75"/><rect x="319.0" y="222.4" width="1.8" height="0.6" fill="rgb(98,98,98)" opacity="0.75"/><rect x="314.5" y="216.2" width="1.0" height="1.1" fill="rgb(155,155,155)" opacity="0.75"/><rect x="416.3" y="219.5" width="2.2" height="1.0" fill="rgb(207,207,207)" opacity="0.75"/><rect x="374.9" y="226.3" width="1.5" height="0.8" fill="rgb(232,232,232)" opacity="0.75"/><rect x="347.9" y="217.4" width="1.8" height="1.0" fill="rgb(222,222,222)" opacity="0.75"/><rect x="362.6" y="214.6" width="2.4" height="1.2" fill="rgb(49,49,49)" opacity="0.75"/><rect x="324.9" y="221.7" width="2.3" height="1.1" fill="rgb(218,218,218)" opacity="0.75"/><rect x="434.3" y="223.6" width="0.9" height="0.9" fill="rgb(99,99,99)" opacity="0.75"/><rect x="288.9" y="224.8" width="1.0" height="0.8" fill="rgb(162,162,162)" opacity="0.75"/><rect x="300.6" y="224.8" width="2.0" height="0.6" fill="rgb(61,61,61)" opacity="0.75"/><rect x="304.2" y="219.6" width="1.7" height="0.7" fill="rgb(51,51,51)" opacity="0.75"/><rect x="332.3" y="215.9" width="1.3" height="0.7" fill="rgb(108,108,108)" opacity="0.75"/><rect x="408.8" y="215.9" width="1.4" height="1.3" fill="rgb(205,205,205)" opacity="0.75"/><rect x="405.9" y="226.0" width="1.3" height="1.3" fill="rgb(165,165,165)" opacity="0.75"/><rect x="311.0" y="224.3" width="1.8" height="0.9" fill="rgb(228,228,228)" opacity="0.75"/><rect x="399.2" y="227.1" width="1.0" height="1.0" fill="rgb(95,95,95)" opacity="0.75"/><rect x="437.9" y="226.4" width="2.2" height="1.1" fill="rgb(196,196,196)" opacity="0.75"/><rect x="320.2" y="220.1" width="1.5" height="0.7" fill="rgb(87,87,87)" opacity="0.75"/><rect x="291.7" y="219.1" width="1.4" height="0.9" fill="rgb(192,192,192)" opacity="0.75"/><rect x="305.4" y="228.2" width="1.5" height="1.1" fill="rgb(160,160,160)" opacity="0.75"/><rect x="339.4" y="219.4" width="1.5" height="1.0" fill="rgb(205,205,205)" opacity="0.75"/><rect x="321.2" y="225.0" width="1.2" height="0.9" fill="rgb(50,50,50)" opacity="0.75"/><rect x="292.5" y="226.2" width="1.8" height="1.2" fill="rgb(175,175,175)" opacity="0.75"/><rect x="443.0" y="221.2" width="1.2" height="1.3" fill="rgb(195,195,195)" opacity="0.75"/><rect x="335.7" y="220.1" width="2.1" height="0.8" fill="rgb(174,174,174)" opacity="0.75"/><rect x="357.4" y="217.2" width="1.1" height="0.7" fill="rgb(216,216,216)" opacity="0.75"/><rect x="288.5" y="226.1" width="1.5" height="1.0" fill="rgb(151,151,151)" opacity="0.75"/><rect x="329.8" y="221.4" width="1.4" height="1.3" fill="rgb(70,70,70)" opacity="0.75"/><rect x="423.8" y="222.5" width="1.1" height="1.1" fill="rgb(48,48,48)" opacity="0.75"/><rect x="361.5" y="216.5" width="1.7" height="1.3" fill="rgb(175,175,175)" opacity="0.75"/><rect x="439.0" y="224.7" width="1.9" height="0.7" fill="rgb(190,190,190)" opacity="0.75"/><rect x="366.0" y="219.5" width="0.9" height="0.7" fill="rgb(210,210,210)" opacity="0.75"/><rect x="283.4" y="218.6" width="1.0" height="0.7" fill="rgb(176,176,176)" opacity="0.75"/><rect x="373.5" y="222.4" width="2.1" height="0.6" fill="rgb(158,158,158)" opacity="0.75"/><rect x="369.0" y="214.1" width="1.8" height="1.1" fill="rgb(155,155,155)" opacity="0.75"/><rect x="405.1" y="216.7" width="1.5" height="0.8" fill="rgb(205,205,205)" opacity="0.75"/><rect x="390.9" y="214.3" width="0.8" height="1.4" fill="rgb(166,166,166)" opacity="0.75"/><rect x="418.2" y="220.0" width="1.1" height="1.2" fill="rgb(220,220,220)" opacity="0.75"/><rect x="415.3" y="227.6" width="1.5" height="1.3" fill="rgb(54,54,54)" opacity="0.75"/><rect x="290.8" y="217.2" width="1.2" height="1.1" fill="rgb(98,98,98)" opacity="0.75"/><rect x="398.5" y="225.2" width="2.0" height="1.2" fill="rgb(188,188,188)" opacity="0.75"/><rect x="361.8" y="227.8" width="1.0" height="1.0" fill="rgb(101,101,101)" opacity="0.75"/><rect x="371.6" y="227.3" width="2.1" height="0.6" fill="rgb(78,78,78)" opacity="0.75"/><rect x="329.5" y="219.3" width="1.3" height="0.7" fill="rgb(161,161,161)" opacity="0.75"/><rect x="333.7" y="219.7" width="1.1" height="0.9" fill="rgb(93,93,93)" opacity="0.75"/><rect x="355.7" y="215.6" width="1.4" height="1.0" fill="rgb(153,153,153)" opacity="0.75"/><rect x="411.1" y="218.2" width="2.3" height="1.4" fill="rgb(228,228,228)" opacity="0.75"/><rect x="304.6" y="228.4" width="1.5" height="1.3" fill="rgb(54,54,54)" opacity="0.75"/><rect x="288.2" y="223.8" width="2.2" height="1.0" fill="rgb(157,157,157)" opacity="0.75"/><rect x="284.0" y="220.1" width="1.8" height="1.3" fill="rgb(60,60,60)" opacity="0.75"/><rect x="287.5" y="219.8" width="1.6" height="1.2" fill="rgb(91,91,91)" opacity="0.75"/><rect x="327.9" y="218.4" width="1.4" height="1.0" fill="rgb(228,228,228)" opacity="0.75"/><rect x="283.1" y="223.6" width="0.8" height="1.2" fill="rgb(95,95,95)" opacity="0.75"/><rect x="302.2" y="220.5" width="1.4" height="1.0" fill="rgb(96,96,96)" opacity="0.75"/><rect x="365.2" y="213.6" width="1.0" height="0.9" fill="rgb(216,216,216)" opacity="0.75"/><rect x="321.4" y="221.6" width="1.9" height="1.0" fill="rgb(107,107,107)" opacity="0.75"/><rect x="366.6" y="222.0" width="2.1" height="1.3" fill="rgb(76,76,76)" opacity="0.75"/><rect x="367.2" y="221.6" width="1.4" height="1.4" fill="rgb(102,102,102)" opacity="0.75"/><rect x="303.5" y="223.9" width="1.0" height="1.1" fill="rgb(214,214,214)" opacity="0.75"/><rect x="415.5" y="220.7" width="2.2" height="1.2" fill="rgb(226,226,226)" opacity="0.75"/><rect x="322.4" y="217.9" width="1.7" height="1.2" fill="rgb(89,89,89)" opacity="0.75"/><rect x="288.5" y="222.1" width="2.3" height="0.7" fill="rgb(164,164,164)" opacity="0.75"/><rect x="351.5" y="218.3" width="1.4" height="1.0" fill="rgb(159,159,159)" opacity="0.75"/><rect x="365.1" y="215.3" width="1.9" height="0.8" fill="rgb(61,61,61)" opacity="0.75"/><rect x="431.5" y="220.7" width="1.3" height="0.6" fill="rgb(205,205,205)" opacity="0.75"/><rect x="290.8" y="219.5" width="1.9" height="0.7" fill="rgb(91,91,91)" opacity="0.75"/><rect x="295.6" y="218.4" width="2.3" height="1.4" fill="rgb(196,196,196)" opacity="0.75"/><rect x="397.9" y="220.6" width="2.3" height="1.1" fill="rgb(215,215,215)" opacity="0.75"/><rect x="395.1" y="224.5" width="1.1" height="1.2" fill="rgb(49,49,49)" opacity="0.75"/><rect x="295.1" y="217.9" width="1.7" height="0.7" fill="rgb(184,184,184)" opacity="0.75"/><rect x="400.5" y="226.1" width="1.6" height="1.2" fill="rgb(98,98,98)" opacity="0.75"/><rect x="283.4" y="223.6" width="1.9" height="1.2" fill="rgb(88,88,88)" opacity="0.75"/><rect x="338.2" y="222.9" width="1.5" height="0.8" fill="rgb(226,226,226)" opacity="0.75"/><rect x="352.5" y="224.0" width="2.4" height="1.3" fill="rgb(78,78,78)" opacity="0.75"/><rect x="418.2" y="216.7" width="1.9" height="0.6" fill="rgb(107,107,107)" opacity="0.75"/><rect x="423.7" y="223.0" width="0.9" height="1.1" fill="rgb(202,202,202)" opacity="0.75"/><rect x="335.0" y="228.3" width="1.9" height="1.1" fill="rgb(99,99,99)" opacity="0.75"/><rect x="413.6" y="227.9" width="2.0" height="1.1" fill="rgb(234,234,234)" opacity="0.75"/><rect x="378.3" y="214.7" width="0.8" height="1.3" fill="rgb(98,98,98)" opacity="0.75"/><rect x="382.2" y="228.3" width="1.5" height="1.3" fill="rgb(81,81,81)" opacity="0.75"/><rect x="343.2" y="214.1" width="1.3" height="0.7" fill="rgb(179,179,179)" opacity="0.75"/><rect x="425.1" y="222.4" width="1.8" height="0.9" fill="rgb(92,92,92)" opacity="0.75"/><rect x="412.5" y="219.3" width="1.2" height="0.6" fill="rgb(166,166,166)" opacity="0.75"/><rect x="326.9" y="227.1" width="1.9" height="0.9" fill="rgb(191,191,191)" opacity="0.75"/><rect x="345.1" y="227.0" width="2.2" height="1.2" fill="rgb(106,106,106)" opacity="0.75"/><rect x="284.8" y="218.3" width="2.1" height="0.7" fill="rgb(92,92,92)" opacity="0.75"/><rect x="350.3" y="220.9" width="0.9" height="1.0" fill="rgb(176,176,176)" opacity="0.75"/><rect x="415.9" y="224.9" width="1.3" height="1.1" fill="rgb(41,41,41)" opacity="0.75"/><rect x="330.0" y="223.6" width="2.2" height="0.9" fill="rgb(234,234,234)" opacity="0.75"/><rect x="378.0" y="225.4" width="1.2" height="1.2" fill="rgb(73,73,73)" opacity="0.75"/><rect x="375.4" y="225.6" width="2.2" height="1.0" fill="rgb(221,221,221)" opacity="0.75"/><rect x="352.1" y="218.2" width="1.9" height="0.7" fill="rgb(150,150,150)" opacity="0.75"/><rect x="398.7" y="224.0" width="1.5" height="1.0" fill="rgb(63,63,63)" opacity="0.75"/><rect x="322.5" y="220.3" width="1.4" height="0.8" fill="rgb(179,179,179)" opacity="0.75"/><rect x="275.5" y="228.1" width="0.9" height="0.7" fill="rgb(233,233,233)" opacity="0.75"/><rect x="283.7" y="223.9" width="1.2" height="0.7" fill="rgb(231,231,231)" opacity="0.75"/><rect x="278.4" y="226.7" width="1.4" height="1.4" fill="rgb(199,199,199)" opacity="0.75"/><rect x="329.0" y="226.0" width="1.4" height="1.1" fill="rgb(77,77,77)" opacity="0.75"/><rect x="363.4" y="217.2" width="1.2" height="0.7" fill="rgb(48,48,48)" opacity="0.75"/><rect x="440.8" y="227.2" width="2.1" height="1.3" fill="rgb(104,104,104)" opacity="0.75"/><rect x="312.3" y="218.3" width="2.2" height="1.3" fill="rgb(150,150,150)" opacity="0.75"/><rect x="283.2" y="227.9" width="1.0" height="1.0" fill="rgb(56,56,56)" opacity="0.75"/><rect x="284.9" y="222.0" width="1.2" height="0.9" fill="rgb(96,96,96)" opacity="0.75"/><rect x="410.9" y="214.6" width="2.3" height="1.2" fill="rgb(195,195,195)" opacity="0.75"/><rect x="313.6" y="218.3" width="1.6" height="0.9" fill="rgb(73,73,73)" opacity="0.75"/><rect x="422.5" y="221.9" width="2.2" height="0.9" fill="rgb(203,203,203)" opacity="0.75"/><rect x="443.7" y="215.5" width="2.4" height="0.8" fill="rgb(90,90,90)" opacity="0.75"/><rect x="355.9" y="219.2" width="1.0" height="1.1" fill="rgb(220,220,220)" opacity="0.75"/><rect x="298.7" y="219.2" width="1.7" height="1.0" fill="rgb(81,81,81)" opacity="0.75"/><rect x="343.7" y="221.5" width="2.2" height="0.7" fill="rgb(163,163,163)" opacity="0.75"/><rect x="359.6" y="224.6" width="0.9" height="1.2" fill="rgb(98,98,98)" opacity="0.75"/><rect x="356.3" y="228.3" width="2.0" height="1.3" fill="rgb(186,186,186)" opacity="0.75"/><rect x="433.3" y="217.4" width="1.7" height="1.0" fill="rgb(83,83,83)" opacity="0.75"/><rect x="338.0" y="228.4" width="2.0" height="1.3" fill="rgb(92,92,92)" opacity="0.75"/><rect x="353.6" y="220.6" width="2.1" height="1.1" fill="rgb(217,217,217)" opacity="0.75"/><rect x="398.6" y="215.6" width="1.0" height="1.3" fill="rgb(75,75,75)" opacity="0.75"/><rect x="379.7" y="226.3" width="2.3" height="1.1" fill="rgb(163,163,163)" opacity="0.75"/><rect x="436.9" y="221.9" width="1.5" height="1.3" fill="rgb(151,151,151)" opacity="0.75"/><rect x="436.7" y="222.2" width="1.5" height="1.3" fill="rgb(153,153,153)" opacity="0.75"/><rect x="310.6" y="219.3" width="1.0" height="0.6" fill="rgb(152,152,152)" opacity="0.75"/><rect x="373.9" y="216.2" width="2.0" height="1.0" fill="rgb(227,227,227)" opacity="0.75"/><rect x="320.3" y="219.6" width="2.2" height="0.9" fill="rgb(92,92,92)" opacity="0.75"/><rect x="438.6" y="222.0" width="2.0" height="1.2" fill="rgb(204,204,204)" opacity="0.75"/><rect x="374.9" y="216.2" width="2.2" height="1.0" fill="rgb(44,44,44)" opacity="0.75"/><rect x="307.7" y="227.3" width="1.8" height="1.3" fill="rgb(40,40,40)" opacity="0.75"/><rect x="381.8" y="221.6" width="1.2" height="1.1" fill="rgb(182,182,182)" opacity="0.75"/><rect x="423.1" y="224.6" width="1.0" height="0.7" fill="rgb(152,152,152)" opacity="0.75"/><rect x="413.1" y="218.7" width="1.9" height="1.0" fill="rgb(102,102,102)" opacity="0.75"/><rect x="369.9" y="216.3" width="2.3" height="0.8" fill="rgb(48,48,48)" opacity="0.75"/><rect x="373.6" y="220.6" width="1.9" height="1.1" fill="rgb(71,71,71)" opacity="0.75"/><rect x="416.6" y="214.9" width="1.7" height="1.1" fill="rgb(86,86,86)" opacity="0.75"/><rect x="411.4" y="225.5" width="1.6" height="1.0" fill="rgb(161,161,161)" opacity="0.75"/><rect x="322.6" y="218.1" width="1.7" height="1.2" fill="rgb(175,175,175)" opacity="0.75"/><rect x="324.6" y="220.7" width="1.4" height="0.7" fill="rgb(70,70,70)" opacity="0.75"/><rect x="361.5" y="221.5" width="0.9" height="0.6" fill="rgb(163,163,163)" opacity="0.75"/><rect x="376.5" y="223.9" width="2.4" height="1.0" fill="rgb(216,216,216)" opacity="0.75"/><rect x="418.7" y="224.0" width="0.9" height="1.1" fill="rgb(221,221,221)" opacity="0.75"/><rect x="395.7" y="219.8" width="1.4" height="1.1" fill="rgb(107,107,107)" opacity="0.75"/><rect x="326.3" y="215.7" width="1.1" height="1.0" fill="rgb(50,50,50)" opacity="0.75"/><rect x="445.8" y="214.2" width="2.3" height="1.0" fill="rgb(100,100,100)" opacity="0.75"/><rect x="384.4" y="219.6" width="1.3" height="1.2" fill="rgb(180,180,180)" opacity="0.75"/><rect x="380.2" y="228.2" width="1.3" height="1.4" fill="rgb(150,150,150)" opacity="0.75"/><rect x="377.8" y="216.4" width="2.3" height="0.8" fill="rgb(78,78,78)" opacity="0.75"/><rect x="334.2" y="220.5" width="1.5" height="1.1" fill="rgb(71,71,71)" opacity="0.75"/><rect x="321.6" y="224.2" width="1.2" height="1.4" fill="rgb(73,73,73)" opacity="0.75"/><rect x="368.8" y="218.0" width="1.6" height="1.4" fill="rgb(210,210,210)" opacity="0.75"/><rect x="379.3" y="222.2" width="1.4" height="1.1" fill="rgb(234,234,234)" opacity="0.75"/><rect x="364.8" y="221.6" width="0.9" height="1.4" fill="rgb(79,79,79)" opacity="0.75"/><rect x="278.0" y="217.1" width="2.1" height="1.3" fill="rgb(97,97,97)" opacity="0.75"/><rect x="293.3" y="222.5" width="1.4" height="1.0" fill="rgb(107,107,107)" opacity="0.75"/><rect x="415.8" y="223.2" width="2.3" height="1.1" fill="rgb(91,91,91)" opacity="0.75"/><rect x="316.4" y="220.9" width="1.6" height="0.8" fill="rgb(159,159,159)" opacity="0.75"/><rect x="359.4" y="225.7" width="1.8" height="0.6" fill="rgb(59,59,59)" opacity="0.75"/><rect x="331.9" y="219.2" width="2.0" height="1.4" fill="rgb(150,150,150)" opacity="0.75"/><rect x="332.3" y="228.4" width="1.2" height="1.2" fill="rgb(71,71,71)" opacity="0.75"/><rect x="444.9" y="226.2" width="1.1" height="0.8" fill="rgb(47,47,47)" opacity="0.75"/><rect x="406.5" y="220.6" width="1.5" height="1.0" fill="rgb(50,50,50)" opacity="0.75"/><rect x="395.5" y="226.0" width="2.2" height="0.7" fill="rgb(94,94,94)" opacity="0.75"/><rect x="313.4" y="223.7" width="1.5" height="1.3" fill="rgb(150,150,150)" opacity="0.75"/><rect x="437.0" y="220.0" width="1.2" height="0.9" fill="rgb(191,191,191)" opacity="0.75"/><rect x="407.4" y="218.9" width="2.2" height="0.8" fill="rgb(155,155,155)" opacity="0.75"/><rect x="335.9" y="225.2" width="2.0" height="0.8" fill="rgb(220,220,220)" opacity="0.75"/><rect x="344.3" y="217.6" width="1.6" height="0.9" fill="rgb(186,186,186)" opacity="0.75"/><rect x="397.5" y="220.8" width="2.3" height="1.0" fill="rgb(214,214,214)" opacity="0.75"/><rect x="401.7" y="216.1" width="2.2" height="1.2" fill="rgb(84,84,84)" opacity="0.75"/><rect x="298.7" y="223.8" width="1.9" height="0.6" fill="rgb(211,211,211)" opacity="0.75"/><rect x="406.5" y="215.2" width="1.5" height="0.6" fill="rgb(56,56,56)" opacity="0.75"/><rect x="372.8" y="215.3" width="1.3" height="1.2" fill="rgb(76,76,76)" opacity="0.75"/><rect x="359.9" y="220.1" width="1.5" height="1.3" fill="rgb(199,199,199)" opacity="0.75"/><rect x="366.2" y="226.7" width="1.7" height="0.7" fill="rgb(109,109,109)" opacity="0.75"/><rect x="324.5" y="224.0" width="1.5" height="0.8" fill="rgb(187,187,187)" opacity="0.75"/><rect x="327.3" y="224.4" width="1.6" height="0.7" fill="rgb(177,177,177)" opacity="0.75"/><rect x="373.6" y="226.9" width="1.5" height="1.0" fill="rgb(197,197,197)" opacity="0.75"/><rect x="386.8" y="217.3" width="1.4" height="0.6" fill="rgb(185,185,185)" opacity="0.75"/><rect x="322.9" y="222.4" width="2.1" height="0.8" fill="rgb(106,106,106)" opacity="0.75"/><rect x="278.6" y="227.1" width="2.2" height="1.3" fill="rgb(44,44,44)" opacity="0.75"/><rect x="404.6" y="217.3" width="1.5" height="1.2" fill="rgb(63,63,63)" opacity="0.75"/><rect x="443.7" y="222.3" width="2.3" height="1.2" fill="rgb(199,199,199)" opacity="0.75"/><rect x="372.5" y="226.4" width="1.8" height="1.4" fill="rgb(52,52,52)" opacity="0.75"/><rect x="391.5" y="213.4" width="2.2" height="1.0" fill="rgb(106,106,106)" opacity="0.75"/><rect x="298.4" y="224.2" width="1.5" height="0.9" fill="rgb(58,58,58)" opacity="0.75"/><rect x="374.7" y="214.6" width="1.8" height="1.0" fill="rgb(57,57,57)" opacity="0.75"/><rect x="395.5" y="225.8" width="1.3" height="1.3" fill="rgb(181,181,181)" opacity="0.75"/><rect x="334.8" y="226.0" width="1.1" height="1.2" fill="rgb(230,230,230)" opacity="0.75"/><rect x="301.9" y="222.1" width="1.2" height="0.7" fill="rgb(178,178,178)" opacity="0.75"/><rect x="388.3" y="217.0" width="1.5" height="1.4" fill="rgb(94,94,94)" opacity="0.75"/><rect x="425.8" y="224.3" width="1.5" height="1.1" fill="rgb(227,227,227)" opacity="0.75"/><rect x="287.1" y="221.2" width="2.4" height="1.0" fill="rgb(62,62,62)" opacity="0.75"/><rect x="411.3" y="214.7" width="1.0" height="1.1" fill="rgb(90,90,90)" opacity="0.75"/><rect x="315.5" y="223.7" width="1.2" height="1.0" fill="rgb(231,231,231)" opacity="0.75"/><rect x="421.2" y="219.2" width="2.1" height="1.1" fill="rgb(62,62,62)" opacity="0.75"/><rect x="408.8" y="226.0" width="1.8" height="0.9" fill="rgb(89,89,89)" opacity="0.75"/><rect x="315.2" y="221.2" width="1.9" height="1.3" fill="rgb(88,88,88)" opacity="0.75"/><rect x="358.2" y="221.8" width="2.1" height="1.0" fill="rgb(163,163,163)" opacity="0.75"/><rect x="364.8" y="219.0" width="1.1" height="1.4" fill="rgb(219,219,219)" opacity="0.75"/><rect x="387.3" y="220.8" width="2.3" height="1.4" fill="rgb(210,210,210)" opacity="0.75"/><rect x="446.4" y="221.4" width="1.0" height="1.4" fill="rgb(201,201,201)" opacity="0.75"/><rect x="353.5" y="228.5" width="2.1" height="0.9" fill="rgb(77,77,77)" opacity="0.75"/><rect x="330.5" y="217.1" width="1.4" height="0.6" fill="rgb(213,213,213)" opacity="0.75"/><rect x="285.6" y="217.3" width="1.7" height="1.1" fill="rgb(107,107,107)" opacity="0.75"/><rect x="293.2" y="222.2" width="1.5" height="1.1" fill="rgb(184,184,184)" opacity="0.75"/><rect x="416.3" y="221.5" width="2.0" height="1.1" fill="rgb(56,56,56)" opacity="0.75"/><rect x="442.2" y="228.0" width="1.4" height="1.2" fill="rgb(178,178,178)" opacity="0.75"/><rect x="352.3" y="224.1" width="2.2" height="1.0" fill="rgb(51,51,51)" opacity="0.75"/><rect x="393.6" y="214.2" width="1.3" height="0.6" fill="rgb(229,229,229)" opacity="0.75"/><rect x="428.6" y="218.4" width="2.2" height="1.2" fill="rgb(103,103,103)" opacity="0.75"/><rect x="342.0" y="227.6" width="1.5" height="0.7" fill="rgb(73,73,73)" opacity="0.75"/><rect x="321.0" y="219.5" width="1.9" height="0.8" fill="rgb(51,51,51)" opacity="0.75"/><rect x="438.1" y="219.6" width="2.3" height="1.2" fill="rgb(228,228,228)" opacity="0.75"/><rect x="413.4" y="227.9" width="1.0" height="1.2" fill="rgb(59,59,59)" opacity="0.75"/><rect x="305.3" y="226.4" width="2.4" height="1.2" fill="rgb(83,83,83)" opacity="0.75"/><rect x="371.9" y="222.5" width="1.2" height="1.2" fill="rgb(66,66,66)" opacity="0.75"/><rect x="423.1" y="219.9" width="0.8" height="0.7" fill="rgb(183,183,183)" opacity="0.75"/><rect x="330.1" y="227.9" width="2.0" height="0.8" fill="rgb(42,42,42)" opacity="0.75"/><rect x="288.3" y="226.8" width="1.7" height="1.2" fill="rgb(107,107,107)" opacity="0.75"/><rect x="372.0" y="226.0" width="1.5" height="1.0" fill="rgb(71,71,71)" opacity="0.75"/><rect x="384.3" y="225.0" width="1.5" height="1.0" fill="rgb(229,229,229)" opacity="0.75"/><rect x="424.3" y="225.3" width="1.1" height="1.1" fill="rgb(60,60,60)" opacity="0.75"/><rect x="350.3" y="217.5" width="1.7" height="0.9" fill="rgb(180,180,180)" opacity="0.75"/><rect x="284.8" y="226.0" width="1.8" height="1.4" fill="rgb(92,92,92)" opacity="0.75"/><rect x="279.4" y="222.2" width="1.5" height="0.6" fill="rgb(203,203,203)" opacity="0.75"/><rect x="280.2" y="223.8" width="1.6" height="1.0" fill="rgb(82,82,82)" opacity="0.75"/><rect x="290.1" y="218.6" width="1.4" height="1.1" fill="rgb(198,198,198)" opacity="0.75"/><rect x="390.6" y="217.0" width="2.3" height="1.0" fill="rgb(82,82,82)" opacity="0.75"/><rect x="339.7" y="222.8" width="2.1" height="0.9" fill="rgb(214,214,214)" opacity="0.75"/><rect x="320.9" y="224.4" width="1.9" height="1.4" fill="rgb(48,48,48)" opacity="0.75"/><rect x="405.5" y="221.8" width="1.3" height="0.6" fill="rgb(191,191,191)" opacity="0.75"/><rect x="294.3" y="227.1" width="1.4" height="1.2" fill="rgb(150,150,150)" opacity="0.75"/><rect x="352.8" y="228.1" width="0.8" height="1.3" fill="rgb(190,190,190)" opacity="0.75"/><rect x="333.2" y="223.4" width="1.5" height="0.7" fill="rgb(45,45,45)" opacity="0.75"/><rect x="383.1" y="224.7" width="1.6" height="1.2" fill="rgb(64,64,64)" opacity="0.75"/><rect x="383.8" y="221.3" width="1.4" height="0.9" fill="rgb(51,51,51)" opacity="0.75"/><rect x="398.7" y="222.8" width="1.0" height="1.3" fill="rgb(68,68,68)" opacity="0.75"/><rect x="312.9" y="223.4" width="2.1" height="1.0" fill="rgb(183,183,183)" opacity="0.75"/><rect x="436.5" y="213.3" width="1.5" height="0.9" fill="rgb(73,73,73)" opacity="0.75"/><rect x="434.8" y="222.7" width="2.0" height="0.9" fill="rgb(53,53,53)" opacity="0.75"/><rect x="329.4" y="219.8" width="1.7" height="0.8" fill="rgb(199,199,199)" opacity="0.75"/><rect x="395.5" y="214.0" width="1.4" height="1.4" fill="rgb(98,98,98)" opacity="0.75"/><rect x="281.6" y="224.3" width="1.8" height="0.7" fill="rgb(70,70,70)" opacity="0.75"/><rect x="379.9" y="219.9" width="1.7" height="0.6" fill="rgb(104,104,104)" opacity="0.75"/><rect x="308.1" y="224.2" width="2.1" height="1.3" fill="rgb(161,161,161)" opacity="0.75"/><rect x="311.7" y="220.2" width="1.7" height="0.8" fill="rgb(202,202,202)" opacity="0.75"/><rect x="316.1" y="217.2" width="1.8" height="0.7" fill="rgb(44,44,44)" opacity="0.75"/><rect x="323.1" y="222.1" width="1.4" height="0.9" fill="rgb(199,199,199)" opacity="0.75"/><rect x="328.2" y="215.5" width="1.8" height="0.9" fill="rgb(151,151,151)" opacity="0.75"/><rect x="400.7" y="220.7" width="1.4" height="1.2" fill="rgb(234,234,234)" opacity="0.75"/><rect x="408.4" y="219.3" width="2.1" height="0.9" fill="rgb(91,91,91)" opacity="0.75"/><rect x="325.3" y="216.2" width="1.8" height="1.3" fill="rgb(73,73,73)" opacity="0.75"/><rect x="399.5" y="223.9" width="1.7" height="1.4" fill="rgb(208,208,208)" opacity="0.75"/><rect x="326.6" y="217.7" width="1.8" height="0.6" fill="rgb(176,176,176)" opacity="0.75"/><rect x="311.0" y="224.0" width="1.4" height="1.3" fill="rgb(207,207,207)" opacity="0.75"/><rect x="342.1" y="218.5" width="1.6" height="1.0" fill="rgb(77,77,77)" opacity="0.75"/><rect x="444.6" y="226.5" width="2.1" height="1.4" fill="rgb(219,219,219)" opacity="0.75"/><rect x="287.5" y="219.4" width="1.8" height="1.3" fill="rgb(56,56,56)" opacity="0.75"/><rect x="303.2" y="220.4" width="0.9" height="0.6" fill="rgb(101,101,101)" opacity="0.75"/><rect x="297.5" y="218.0" width="2.2" height="1.2" fill="rgb(192,192,192)" opacity="0.75"/><rect x="442.4" y="214.4" width="1.3" height="1.4" fill="rgb(212,212,212)" opacity="0.75"/><rect x="324.2" y="224.6" width="0.9" height="1.1" fill="rgb(82,82,82)" opacity="0.75"/><rect x="414.7" y="216.4" width="0.9" height="1.1" fill="rgb(233,233,233)" opacity="0.75"/><rect x="290.3" y="225.6" width="1.0" height="1.3" fill="rgb(201,201,201)" opacity="0.75"/><rect x="362.2" y="221.3" width="1.7" height="1.4" fill="rgb(95,95,95)" opacity="0.75"/><rect x="281.5" y="219.5" width="0.9" height="0.9" fill="rgb(60,60,60)" opacity="0.75"/><rect x="392.9" y="226.6" width="1.7" height="1.1" fill="rgb(165,165,165)" opacity="0.75"/><rect x="276.8" y="217.2" width="1.6" height="1.2" fill="rgb(97,97,97)" opacity="0.75"/><rect x="307.5" y="225.9" width="2.3" height="0.7" fill="rgb(99,99,99)" opacity="0.75"/><rect x="350.2" y="215.6" width="1.8" height="0.9" fill="rgb(169,169,169)" opacity="0.75"/><rect x="373.8" y="214.0" width="2.0" height="1.2" fill="rgb(55,55,55)" opacity="0.75"/><rect x="295.4" y="224.3" width="0.9" height="1.3" fill="rgb(49,49,49)" opacity="0.75"/><rect x="365.2" y="220.1" width="1.6" height="0.8" fill="rgb(183,183,183)" opacity="0.75"/><rect x="410.0" y="215.1" width="2.1" height="1.0" fill="rgb(179,179,179)" opacity="0.75"/><rect x="414.5" y="221.2" width="1.5" height="0.8" fill="rgb(171,171,171)" opacity="0.75"/><rect x="398.7" y="216.7" width="1.1" height="1.1" fill="rgb(47,47,47)" opacity="0.75"/><rect x="282.2" y="219.5" width="1.9" height="1.3" fill="rgb(58,58,58)" opacity="0.75"/><rect x="298.0" y="219.8" width="2.1" height="1.3" fill="rgb(61,61,61)" opacity="0.75"/><rect x="278.3" y="216.8" width="1.3" height="1.1" fill="rgb(63,63,63)" opacity="0.75"/><rect x="277.7" y="223.3" width="1.0" height="1.0" fill="rgb(155,155,155)" opacity="0.75"/><rect x="313.0" y="219.0" width="0.9" height="1.4" fill="rgb(210,210,210)" opacity="0.75"/><rect x="374.7" y="224.5" width="1.6" height="1.3" fill="rgb(76,76,76)" opacity="0.75"/><rect x="446.1" y="225.6" width="0.9" height="0.8" fill="rgb(56,56,56)" opacity="0.75"/><rect x="439.3" y="225.3" width="2.4" height="1.1" fill="rgb(91,91,91)" opacity="0.75"/><rect x="329.2" y="224.9" width="1.4" height="1.3" fill="rgb(74,74,74)" opacity="0.75"/><rect x="305.3" y="221.7" width="1.8" height="1.2" fill="rgb(154,154,154)" opacity="0.75"/><rect x="348.5" y="225.7" width="2.2" height="0.9" fill="rgb(232,232,232)" opacity="0.75"/><rect x="439.8" y="222.6" width="2.0" height="0.9" fill="rgb(220,220,220)" opacity="0.75"/><rect x="444.9" y="216.9" width="1.7" height="0.7" fill="rgb(156,156,156)" opacity="0.75"/><rect x="414.7" y="226.9" width="1.6" height="1.0" fill="rgb(225,225,225)" opacity="0.75"/><rect x="435.3" y="222.0" width="2.1" height="1.4" fill="rgb(181,181,181)" opacity="0.75"/><rect x="287.0" y="223.5" width="0.9" height="0.8" fill="rgb(89,89,89)" opacity="0.75"/><rect x="320.4" y="226.0" width="1.0" height="0.9" fill="rgb(80,80,80)" opacity="0.75"/><rect x="340.3" y="224.8" width="1.1" height="0.9" fill="rgb(157,157,157)" opacity="0.75"/><rect x="325.3" y="222.1" width="2.2" height="1.4" fill="rgb(92,92,92)" opacity="0.75"/><rect x="400.8" y="224.6" width="2.0" height="1.3" fill="rgb(184,184,184)" opacity="0.75"/><rect x="299.7" y="218.9" width="1.3" height="1.4" fill="rgb(102,102,102)" opacity="0.75"/><rect x="383.8" y="219.1" width="1.8" height="1.0" fill="rgb(154,154,154)" opacity="0.75"/><rect x="361.9" y="219.9" width="1.5" height="1.2" fill="rgb(103,103,103)" opacity="0.75"/><rect x="413.6" y="215.9" width="1.2" height="0.6" fill="rgb(89,89,89)" opacity="0.75"/><rect x="431.4" y="223.6" width="1.2" height="0.7" fill="rgb(57,57,57)" opacity="0.75"/><rect x="340.6" y="224.7" width="2.1" height="1.0" fill="rgb(183,183,183)" opacity="0.75"/><rect x="443.9" y="228.3" width="2.0" height="1.1" fill="rgb(227,227,227)" opacity="0.75"/><rect x="425.0" y="226.3" width="2.3" height="1.1" fill="rgb(182,182,182)" opacity="0.75"/><rect x="383.1" y="217.6" width="1.8" height="1.4" fill="rgb(46,46,46)" opacity="0.75"/><rect x="336.9" y="216.7" width="1.1" height="0.7" fill="rgb(85,85,85)" opacity="0.75"/><rect x="408.4" y="223.6" width="2.1" height="0.8" fill="rgb(87,87,87)" opacity="0.75"/><rect x="400.3" y="222.6" width="0.9" height="1.0" fill="rgb(152,152,152)" opacity="0.75"/><rect x="437.7" y="221.7" width="1.6" height="1.1" fill="rgb(90,90,90)" opacity="0.75"/><rect x="342.0" y="217.7" width="0.9" height="0.7" fill="rgb(169,169,169)" opacity="0.75"/><rect x="362.1" y="228.4" width="1.1" height="1.0" fill="rgb(206,206,206)" opacity="0.75"/><rect x="278.3" y="222.7" width="0.9" height="1.2" fill="rgb(42,42,42)" opacity="0.75"/><rect x="288.6" y="223.2" width="2.4" height="1.3" fill="rgb(42,42,42)" opacity="0.75"/><rect x="298.7" y="220.0" width="1.5" height="0.9" fill="rgb(101,101,101)" opacity="0.75"/><rect x="408.9" y="221.7" width="2.2" height="1.4" fill="rgb(156,156,156)" opacity="0.75"/><rect x="405.7" y="225.4" width="1.7" height="0.6" fill="rgb(185,185,185)" opacity="0.75"/><rect x="351.9" y="226.7" width="2.0" height="0.8" fill="rgb(191,191,191)" opacity="0.75"/><rect x="395.3" y="226.5" width="0.9" height="0.7" fill="rgb(229,229,229)" opacity="0.75"/><rect x="294.5" y="224.5" width="2.1" height="1.1" fill="rgb(54,54,54)" opacity="0.75"/><rect x="431.0" y="215.1" width="2.4" height="1.3" fill="rgb(184,184,184)" opacity="0.75"/><rect x="366.0" y="224.5" width="2.2" height="1.3" fill="rgb(97,97,97)" opacity="0.75"/><rect x="302.2" y="218.3" width="1.1" height="1.3" fill="rgb(89,89,89)" opacity="0.75"/><rect x="335.5" y="224.1" width="1.6" height="1.4" fill="rgb(109,109,109)" opacity="0.75"/><rect x="360.0" y="223.4" width="2.3" height="1.0" fill="rgb(186,186,186)" opacity="0.75"/><rect x="345.8" y="217.6" width="2.1" height="0.6" fill="rgb(99,99,99)" opacity="0.75"/><rect x="325.0" y="224.5" width="2.2" height="1.0" fill="rgb(183,183,183)" opacity="0.75"/><rect x="357.0" y="225.8" width="1.2" height="1.3" fill="rgb(63,63,63)" opacity="0.75"/><rect x="279.3" y="216.8" width="2.2" height="0.8" fill="rgb(66,66,66)" opacity="0.75"/><rect x="402.3" y="219.1" width="1.0" height="1.1" fill="rgb(93,93,93)" opacity="0.75"/><rect x="390.0" y="216.7" width="2.1" height="1.1" fill="rgb(176,176,176)" opacity="0.75"/><rect x="308.4" y="219.3" width="1.8" height="1.0" fill="rgb(230,230,230)" opacity="0.75"/><rect x="353.1" y="227.1" width="2.2" height="0.8" fill="rgb(51,51,51)" opacity="0.75"/><rect x="367.9" y="221.9" width="1.2" height="1.4" fill="rgb(102,102,102)" opacity="0.75"/><rect x="359.2" y="220.6" width="1.6" height="0.7" fill="rgb(107,107,107)" opacity="0.75"/><rect x="339.0" y="214.3" width="1.4" height="0.9" fill="rgb(188,188,188)" opacity="0.75"/><rect x="290.8" y="221.0" width="2.1" height="1.3" fill="rgb(204,204,204)" opacity="0.75"/><rect x="361.6" y="217.5" width="2.1" height="0.7" fill="rgb(167,167,167)" opacity="0.75"/><rect x="401.3" y="221.7" width="1.6" height="0.7" fill="rgb(206,206,206)" opacity="0.75"/><rect x="400.3" y="216.6" width="0.8" height="1.0" fill="rgb(199,199,199)" opacity="0.75"/><rect x="361.9" y="222.3" width="1.8" height="1.1" fill="rgb(59,59,59)" opacity="0.75"/><rect x="436.1" y="219.9" width="1.9" height="1.4" fill="rgb(213,213,213)" opacity="0.75"/><rect x="334.0" y="219.3" width="1.8" height="1.0" fill="rgb(152,152,152)" opacity="0.75"/><rect x="325.0" y="218.0" width="2.4" height="1.2" fill="rgb(71,71,71)" opacity="0.75"/><rect x="368.3" y="222.1" width="2.0" height="1.3" fill="rgb(69,69,69)" opacity="0.75"/><rect x="360.2" y="222.1" width="2.3" height="1.3" fill="rgb(185,185,185)" opacity="0.75"/><rect x="357.5" y="219.8" width="1.7" height="1.2" fill="rgb(90,90,90)" opacity="0.75"/><rect x="346.7" y="215.7" width="1.2" height="1.1" fill="rgb(78,78,78)" opacity="0.75"/><rect x="423.0" y="223.5" width="1.4" height="1.2" fill="rgb(214,214,214)" opacity="0.75"/><rect x="290.2" y="217.2" width="1.8" height="1.0" fill="rgb(83,83,83)" opacity="0.75"/><rect x="394.8" y="223.5" width="1.8" height="1.0" fill="rgb(70,70,70)" opacity="0.75"/><rect x="367.1" y="220.9" width="1.9" height="1.3" fill="rgb(216,216,216)" opacity="0.75"/><rect x="355.7" y="223.4" width="0.9" height="0.7" fill="rgb(156,156,156)" opacity="0.75"/><rect x="413.9" y="223.2" width="1.0" height="0.8" fill="rgb(78,78,78)" opacity="0.75"/><rect x="383.8" y="217.9" width="1.2" height="0.6" fill="rgb(161,161,161)" opacity="0.75"/><rect x="387.2" y="217.1" width="1.7" height="0.9" fill="rgb(89,89,89)" opacity="0.75"/><rect x="438.0" y="219.8" width="1.6" height="0.9" fill="rgb(98,98,98)" opacity="0.75"/><rect x="312.9" y="220.4" width="1.1" height="0.6" fill="rgb(212,212,212)" opacity="0.75"/><rect x="425.6" y="214.8" width="2.0" height="1.0" fill="rgb(64,64,64)" opacity="0.75"/><rect x="311.7" y="227.8" width="2.3" height="0.7" fill="rgb(175,175,175)" opacity="0.75"/><rect x="388.5" y="221.8" width="0.9" height="0.8" fill="rgb(107,107,107)" opacity="0.75"/><rect x="440.9" y="222.1" width="2.3" height="0.6" fill="rgb(73,73,73)" opacity="0.75"/><rect x="321.4" y="223.9" width="0.9" height="0.9" fill="rgb(175,175,175)" opacity="0.75"/><rect x="394.5" y="226.0" width="1.5" height="1.2" fill="rgb(74,74,74)" opacity="0.75"/><rect x="363.6" y="215.2" width="1.2" height="1.0" fill="rgb(102,102,102)" opacity="0.75"/><rect x="321.3" y="227.8" width="1.7" height="0.9" fill="rgb(227,227,227)" opacity="0.75"/><rect x="405.2" y="223.6" width="2.0" height="1.3" fill="rgb(59,59,59)" opacity="0.75"/><rect x="321.0" y="218.7" width="1.3" height="1.0" fill="rgb(213,213,213)" opacity="0.75"/><rect x="276.5" y="224.1" width="1.4" height="1.4" fill="rgb(42,42,42)" opacity="0.75"/><rect x="328.7" y="214.6" width="1.4" height="1.3" fill="rgb(47,47,47)" opacity="0.75"/><rect x="303.2" y="220.5" width="1.7" height="1.1" fill="rgb(195,195,195)" opacity="0.75"/><rect x="359.4" y="224.6" width="2.3" height="0.6" fill="rgb(190,190,190)" opacity="0.75"/><rect x="331.8" y="217.9" width="1.0" height="1.2" fill="rgb(57,57,57)" opacity="0.75"/><rect x="425.6" y="215.1" width="1.7" height="1.0" fill="rgb(41,41,41)" opacity="0.75"/><rect x="344.9" y="222.3" width="2.2" height="0.9" fill="rgb(200,200,200)" opacity="0.75"/><rect x="426.9" y="221.4" width="1.1" height="1.4" fill="rgb(47,47,47)" opacity="0.75"/><rect x="276.0" y="221.6" width="1.2" height="1.3" fill="rgb(48,48,48)" opacity="0.75"/><rect x="368.8" y="221.3" width="1.6" height="0.6" fill="rgb(230,230,230)" opacity="0.75"/><rect x="425.3" y="227.0" width="2.1" height="0.9" fill="rgb(93,93,93)" opacity="0.75"/><rect x="376.7" y="216.9" width="1.3" height="0.6" fill="rgb(204,204,204)" opacity="0.75"/><rect x="357.5" y="221.8" width="1.9" height="0.8" fill="rgb(56,56,56)" opacity="0.75"/><rect x="385.3" y="218.0" width="1.8" height="1.3" fill="rgb(173,173,173)" opacity="0.75"/><rect x="319.1" y="223.7" width="1.8" height="1.3" fill="rgb(224,224,224)" opacity="0.75"/><rect x="365.5" y="214.7" width="1.6" height="1.1" fill="rgb(195,195,195)" opacity="0.75"/><rect x="320.1" y="221.6" width="2.0" height="0.7" fill="rgb(40,40,40)" opacity="0.75"/><rect x="414.1" y="220.3" width="2.0" height="1.2" fill="rgb(105,105,105)" opacity="0.75"/><rect x="349.1" y="226.9" width="1.7" height="0.6" fill="rgb(218,218,218)" opacity="0.75"/><rect x="343.0" y="214.0" width="0.8" height="1.4" fill="rgb(103,103,103)" opacity="0.75"/><rect x="320.5" y="224.6" width="1.9" height="1.1" fill="rgb(93,93,93)" opacity="0.75"/><rect x="414.7" y="225.7" width="1.7" height="1.1" fill="rgb(99,99,99)" opacity="0.75"/><rect x="361.7" y="216.7" width="1.1" height="1.0" fill="rgb(233,233,233)" opacity="0.75"/><rect x="351.5" y="216.1" width="1.2" height="0.7" fill="rgb(103,103,103)" opacity="0.75"/><rect x="410.4" y="225.4" width="1.5" height="0.8" fill="rgb(164,164,164)" opacity="0.75"/><rect x="298.1" y="227.3" width="1.7" height="1.2" fill="rgb(199,199,199)" opacity="0.75"/><rect x="411.7" y="221.8" width="1.4" height="0.7" fill="rgb(219,219,219)" opacity="0.75"/><rect x="282.0" y="219.2" width="0.9" height="1.1" fill="rgb(186,186,186)" opacity="0.75"/><rect x="414.1" y="221.0" width="1.2" height="1.1" fill="rgb(154,154,154)" opacity="0.75"/><rect x="336.2" y="212.9" width="1.2" height="1.2" fill="rgb(49,49,49)" opacity="0.75"/><rect x="333.9" y="220.8" width="1.1" height="0.8" fill="rgb(184,184,184)" opacity="0.75"/><rect x="399.5" y="217.8" width="2.0" height="1.1" fill="rgb(192,192,192)" opacity="0.75"/><rect x="340.4" y="228.5" width="1.6" height="1.2" fill="rgb(222,222,222)" opacity="0.75"/><rect x="282.8" y="224.6" width="1.6" height="1.2" fill="rgb(100,100,100)" opacity="0.75"/><rect x="358.2" y="215.9" width="2.3" height="0.7" fill="rgb(76,76,76)" opacity="0.75"/><rect x="401.3" y="218.6" width="1.9" height="1.3" fill="rgb(220,220,220)" opacity="0.75"/><rect x="407.9" y="228.1" width="1.9" height="1.3" fill="rgb(42,42,42)" opacity="0.75"/><rect x="302.8" y="219.6" width="2.3" height="1.1" fill="rgb(151,151,151)" opacity="0.75"/><rect x="443.1" y="220.7" width="1.2" height="0.8" fill="rgb(204,204,204)" opacity="0.75"/><rect x="279.3" y="221.9" width="1.1" height="1.4" fill="rgb(99,99,99)" opacity="0.75"/><rect x="424.0" y="220.1" width="1.0" height="1.4" fill="rgb(63,63,63)" opacity="0.75"/><rect x="303.9" y="225.8" width="1.0" height="0.8" fill="rgb(153,153,153)" opacity="0.75"/><rect x="360.7" y="224.9" width="0.8" height="1.2" fill="rgb(226,226,226)" opacity="0.75"/><rect x="322.5" y="217.7" width="2.0" height="1.3" fill="rgb(233,233,233)" opacity="0.75"/><rect x="364.5" y="216.6" width="2.0" height="0.7" fill="rgb(223,223,223)" opacity="0.75"/><rect x="390.2" y="215.1" width="1.1" height="1.1" fill="rgb(223,223,223)" opacity="0.75"/><rect x="407.1" y="224.6" width="1.6" height="1.1" fill="rgb(211,211,211)" opacity="0.75"/><rect x="404.6" y="225.7" width="1.5" height="1.4" fill="rgb(159,159,159)" opacity="0.75"/><rect x="329.7" y="221.4" width="2.0" height="0.8" fill="rgb(79,79,79)" opacity="0.75"/><rect x="367.2" y="226.7" width="0.9" height="0.9" fill="rgb(100,100,100)" opacity="0.75"/><rect x="331.6" y="214.5" width="1.3" height="0.7" fill="rgb(181,181,181)" opacity="0.75"/><rect x="282.3" y="224.7" width="1.3" height="0.6" fill="rgb(186,186,186)" opacity="0.75"/><rect x="412.5" y="217.8" width="1.7" height="1.0" fill="rgb(57,57,57)" opacity="0.75"/><rect x="393.5" y="218.7" width="1.9" height="0.6" fill="rgb(45,45,45)" opacity="0.75"/><rect x="416.7" y="215.4" width="1.0" height="1.4" fill="rgb(165,165,165)" opacity="0.75"/><rect x="338.3" y="216.2" width="0.9" height="0.7" fill="rgb(57,57,57)" opacity="0.75"/><rect x="293.2" y="220.7" width="1.4" height="1.0" fill="rgb(165,165,165)" opacity="0.75"/><rect x="409.5" y="217.0" width="2.2" height="1.3" fill="rgb(153,153,153)" opacity="0.75"/><rect x="341.1" y="221.1" width="1.9" height="1.3" fill="rgb(57,57,57)" opacity="0.75"/><rect x="442.4" y="227.9" width="1.1" height="0.8" fill="rgb(96,96,96)" opacity="0.75"/><rect x="419.5" y="220.7" width="1.2" height="1.1" fill="rgb(41,41,41)" opacity="0.75"/><rect x="383.0" y="213.1" width="1.4" height="1.0" fill="rgb(198,198,198)" opacity="0.75"/><rect x="392.3" y="224.1" width="1.0" height="1.2" fill="rgb(54,54,54)" opacity="0.75"/><rect x="356.6" y="224.1" width="2.3" height="0.8" fill="rgb(105,105,105)" opacity="0.75"/><rect x="387.8" y="220.1" width="1.0" height="1.1" fill="rgb(201,201,201)" opacity="0.75"/><rect x="301.7" y="219.9" width="1.7" height="1.3" fill="rgb(212,212,212)" opacity="0.75"/><rect x="341.4" y="222.6" width="1.2" height="1.1" fill="rgb(226,226,226)" opacity="0.75"/><rect x="305.4" y="219.1" width="0.8" height="0.9" fill="rgb(44,44,44)" opacity="0.75"/><rect x="383.4" y="215.5" width="1.1" height="1.4" fill="rgb(98,98,98)" opacity="0.75"/><rect x="368.7" y="214.7" width="1.8" height="0.6" fill="rgb(152,152,152)" opacity="0.75"/><rect x="286.2" y="226.5" width="1.0" height="1.3" fill="rgb(99,99,99)" opacity="0.75"/><rect x="277.7" y="220.4" width="1.1" height="0.9" fill="rgb(167,167,167)" opacity="0.75"/><rect x="283.2" y="220.5" width="1.7" height="1.0" fill="rgb(75,75,75)" opacity="0.75"/><rect x="405.4" y="222.2" width="1.0" height="1.1" fill="rgb(164,164,164)" opacity="0.75"/><rect x="380.7" y="228.1" width="1.5" height="1.0" fill="rgb(218,218,218)" opacity="0.75"/><rect x="276.6" y="227.7" width="1.9" height="0.6" fill="rgb(192,192,192)" opacity="0.75"/><rect x="343.7" y="215.9" width="1.8" height="1.3" fill="rgb(61,61,61)" opacity="0.75"/><rect x="321.1" y="219.2" width="1.9" height="0.9" fill="rgb(163,163,163)" opacity="0.75"/><rect x="298.0" y="222.4" width="0.9" height="1.0" fill="rgb(42,42,42)" opacity="0.75"/><rect x="278.1" y="224.9" width="2.2" height="1.3" fill="rgb(221,221,221)" opacity="0.75"/><rect x="440.5" y="216.1" width="2.4" height="1.0" fill="rgb(52,52,52)" opacity="0.75"/><rect x="394.6" y="216.9" width="1.0" height="0.9" fill="rgb(105,105,105)" opacity="0.75"/><rect x="279.5" y="219.1" width="0.9" height="1.4" fill="rgb(94,94,94)" opacity="0.75"/><rect x="369.4" y="228.3" width="1.5" height="0.8" fill="rgb(57,57,57)" opacity="0.75"/><rect x="400.7" y="215.2" width="1.3" height="0.7" fill="rgb(107,107,107)" opacity="0.75"/><rect x="329.4" y="224.0" width="1.2" height="1.0" fill="rgb(64,64,64)" opacity="0.75"/><rect x="365.3" y="217.3" width="0.9" height="1.3" fill="rgb(45,45,45)" opacity="0.75"/><rect x="405.8" y="214.4" width="2.3" height="0.8" fill="rgb(220,220,220)" opacity="0.75"/><rect x="379.8" y="223.1" width="1.9" height="0.6" fill="rgb(172,172,172)" opacity="0.75"/><rect x="278.8" y="219.1" width="2.1" height="1.1" fill="rgb(86,86,86)" opacity="0.75"/><rect x="324.5" y="226.1" width="2.4" height="1.2" fill="rgb(85,85,85)" opacity="0.75"/><rect x="330.6" y="228.4" width="2.1" height="1.2" fill="rgb(71,71,71)" opacity="0.75"/><rect x="336.9" y="212.8" width="2.2" height="0.9" fill="rgb(109,109,109)" opacity="0.75"/><rect x="311.8" y="219.3" width="1.4" height="0.9" fill="rgb(108,108,108)" opacity="0.75"/><rect x="321.3" y="227.1" width="2.0" height="0.7" fill="rgb(109,109,109)" opacity="0.75"/><rect x="294.3" y="217.7" width="1.2" height="1.2" fill="rgb(153,153,153)" opacity="0.75"/><rect x="406.4" y="223.2" width="1.4" height="0.7" fill="rgb(45,45,45)" opacity="0.75"/><rect x="333.8" y="218.8" width="1.4" height="0.8" fill="rgb(189,189,189)" opacity="0.75"/><rect x="359.4" y="220.2" width="1.1" height="1.2" fill="rgb(103,103,103)" opacity="0.75"/><rect x="283.9" y="218.8" width="2.2" height="0.8" fill="rgb(157,157,157)" opacity="0.75"/><rect x="396.2" y="223.2" width="1.2" height="1.1" fill="rgb(192,192,192)" opacity="0.75"/><rect x="282.2" y="219.2" width="1.1" height="1.1" fill="rgb(62,62,62)" opacity="0.75"/><rect x="444.5" y="219.1" width="1.7" height="1.1" fill="rgb(205,205,205)" opacity="0.75"/><rect x="288.4" y="219.1" width="2.0" height="0.7" fill="rgb(72,72,72)" opacity="0.75"/></g>
<rect x="275.3" y="198.5" width="171.09999999999997" height="32" filter="url(#noise2)" opacity="0.22"/>
<defs><linearGradient id="stEg" x1="0" y1="0" x2="0" y2="1"><stop offset="0" stop-color="#1c1c1c"/><stop offset="0.18" stop-color="#1c1c1c"/><stop offset="0.42" stop-color="#e6e6e6"/><stop offset="0.66" stop-color="#e6e6e6"/><stop offset="0.88" stop-color="#1c1c1c"/><stop offset="1" stop-color="#1c1c1c"/></linearGradient><pattern id="stE" x="0" y="231.10" width="20" height="4.36" patternUnits="userSpaceOnUse"><rect width="20" height="4.36" fill="url(#stEg)"/></pattern></defs>
<rect x="275.3" y="230.2" width="171.09999999999997" height="47.30" fill="url(#stE)"/>
<rect x="275.3" y="230.2" width="171.09999999999997" height="47.30" filter="url(#noise2)" opacity="0.18"/>
</g>
<line x1="276.30" y1="228.90" x2="446.40" y2="228.90" stroke="#f2b200" stroke-width="1.6" stroke-dasharray="4.4,1.8"/>
<rect x="275.3" y="198.5" width="171.09999999999997" height="79.0" fill="none" stroke="#5ab4ae" stroke-width="1.3" stroke-dasharray="2.0,1.3"/>
<rect x="334.4" y="201.7" width="108.2" height="10.9" fill="#000"/>
<text x="335.30" y="210.40" font-size="10" text-anchor="start" fill="#fff">Surface deposition layer</text>
<rect x="409.6" y="268.5" width="31.2" height="1.9" fill="#fff"/>
<text x="426.40" y="265.20" font-size="8.6" text-anchor="middle" fill="#fff">5 nm</text>
<text x="260.60" y="204.60" font-size="14" text-anchor="start" fill="#000">e</text>
<rect x="332.3" y="282.2" width="58.6" height="12.1" fill="#000"/>
<text x="332.80" y="291.50" font-size="10.8" text-anchor="start" fill="#fff">Ru<tspan font-size="7.56" dy="3.56">(SA)</tspan><tspan dy="-3.56">-OMS</tspan></text>
<defs><clipPath id="clipF"><rect x="486.4" y="196.4" width="172.10000000000002" height="80.9"/></clipPath></defs>
<g clip-path="url(#clipF)">
<rect x="486.4" y="196.4" width="172.10000000000002" height="80.9" fill="#a2a2a2"/>
<defs><linearGradient id="stFg" x1="0" y1="0" x2="0" y2="1"><stop offset="0" stop-color="#363636"/><stop offset="0.18" stop-color="#363636"/><stop offset="0.42" stop-color="#c0c0c0"/><stop offset="0.66" stop-color="#c0c0c0"/><stop offset="0.88" stop-color="#363636"/><stop offset="1" stop-color="#363636"/></linearGradient><pattern id="stF" x="0" y="230.80" width="20" height="4.27" patternUnits="userSpaceOnUse"><rect width="20" height="4.27" fill="url(#stFg)"/></pattern></defs>
<defs><linearGradient id="stF2g" x1="0" y1="0" x2="0" y2="1"><stop offset="0" stop-color="#626262"/><stop offset="0.18" stop-color="#626262"/><stop offset="0.42" stop-color="#c0c0c0"/><stop offset="0.66" stop-color="#c0c0c0"/><stop offset="0.88" stop-color="#626262"/><stop offset="1" stop-color="#626262"/></linearGradient><pattern id="stF2" x="0" y="206.70" width="20" height="4.3" patternUnits="userSpaceOnUse"><rect width="20" height="4.3" fill="url(#stF2g)"/></pattern></defs>
<rect x="486.4" y="206.5" width="172.10000000000002" height="23.5" fill="url(#stF2)"/>
<defs><linearGradient id="fadeF" x1="0" y1="0" x2="0" y2="1"><stop offset="0" stop-color="#a2a2a2" stop-opacity="0.85"/><stop offset="1" stop-color="#a2a2a2" stop-opacity="0"/></linearGradient></defs>
<rect x="486.4" y="206.0" width="172.10000000000002" height="18" fill="url(#fadeF)"/>
<rect x="486.4" y="229.9" width="172.10000000000002" height="47.40" fill="url(#stF)"/>
<rect x="486.4" y="196.4" width="172.10000000000002" height="80.90" filter="url(#noise2)" opacity="0.14"/>
</g>
<line x1="487.40" y1="228.70" x2="658.50" y2="228.70" stroke="#f2b200" stroke-width="1.6" stroke-dasharray="5.0,1.2"/>
<rect x="486.4" y="196.4" width="172.10000000000002" height="80.9" fill="none" stroke="#d02424" stroke-width="1.3" stroke-dasharray="2.0,1.3"/>
<rect x="548.0" y="202.0" width="106.8" height="10.7" fill="#000"/>
<text x="548.90" y="210.60" font-size="10" text-anchor="start" fill="#fff">Stable surface structure</text>
<rect x="620.8" y="269.5" width="31.2" height="1.9" fill="#fff"/>
<text x="638.50" y="264.90" font-size="8.6" text-anchor="middle" fill="#fff">5 nm</text>
<text x="472.60" y="204.00" font-size="14" text-anchor="start" fill="#000">f</text>
<rect x="544.5" y="282.2" width="69.3" height="12.4" fill="#000"/>
<text x="545.20" y="291.60" font-size="10.8" text-anchor="start" fill="#fff">Ru<tspan font-size="7.56" dy="3.56">(SA)</tspan><tspan dy="-3.56">-NiOMS</tspan></text>
<line x1="38.40" y1="533.60" x2="329.60" y2="533.60" stroke="#000" stroke-width="1.2"/>
<line x1="39.00" y1="534.20" x2="39.00" y2="406.00" stroke="#000" stroke-width="1.2"/>
<line x1="39.00" y1="402.60" x2="39.00" y2="392.60" stroke="#000" stroke-width="1.2"/>
<line x1="34.00" y1="393.20" x2="39.60" y2="393.20" stroke="#000" stroke-width="1.2"/>
<line x1="34.30" y1="404.10" x2="43.90" y2="400.70" stroke="#000" stroke-width="1.1"/>
<line x1="33.50" y1="408.10" x2="43.60" y2="404.60" stroke="#000" stroke-width="1.1"/>
<line x1="35.60" y1="533.30" x2="39.00" y2="533.30" stroke="#000" stroke-width="1.0"/>
<text x="30.60" y="536.70" font-size="10.2" text-anchor="end" fill="#000">0.0</text>
<line x1="37.00" y1="519.05" x2="39.00" y2="519.05" stroke="#000" stroke-width="1.0"/>
<line x1="35.60" y1="504.80" x2="39.00" y2="504.80" stroke="#000" stroke-width="1.0"/>
<text x="30.60" y="508.20" font-size="10.2" text-anchor="end" fill="#000">0.1</text>
<line x1="37.00" y1="490.55" x2="39.00" y2="490.55" stroke="#000" stroke-width="1.0"/>
<line x1="35.60" y1="476.30" x2="39.00" y2="476.30" stroke="#000" stroke-width="1.0"/>
<text x="30.60" y="479.70" font-size="10.2" text-anchor="end" fill="#000">0.2</text>
<line x1="37.00" y1="462.05" x2="39.00" y2="462.05" stroke="#000" stroke-width="1.0"/>
<line x1="35.60" y1="447.80" x2="39.00" y2="447.80" stroke="#000" stroke-width="1.0"/>
<text x="30.60" y="451.20" font-size="10.2" text-anchor="end" fill="#000">0.3</text>
<line x1="37.00" y1="433.55" x2="39.00" y2="433.55" stroke="#000" stroke-width="1.0"/>
<line x1="35.60" y1="419.30" x2="39.00" y2="419.30" stroke="#000" stroke-width="1.0"/>
<text x="30.60" y="422.70" font-size="10.2" text-anchor="end" fill="#000">0.4</text>
<text x="31.90" y="397.90" font-size="10.2" text-anchor="end" fill="#000">100</text>
<line x1="38.94" y1="533.60" x2="38.94" y2="536.20" stroke="#000" stroke-width="1.0"/>
<line x1="59.60" y1="533.60" x2="59.60" y2="538.20" stroke="#000" stroke-width="1.0"/>
<text x="59.60" y="550.30" font-size="10.2" text-anchor="middle" fill="#000">0</text>
<line x1="80.26" y1="533.60" x2="80.26" y2="536.20" stroke="#000" stroke-width="1.0"/>
<line x1="100.92" y1="533.60" x2="100.92" y2="538.20" stroke="#000" stroke-width="1.0"/>
<text x="100.92" y="550.30" font-size="10.2" text-anchor="middle" fill="#000">50</text>
<line x1="121.58" y1="533.60" x2="121.58" y2="536.20" stroke="#000" stroke-width="1.0"/>
<line x1="142.24" y1="533.60" x2="142.24" y2="538.20" stroke="#000" stroke-width="1.0"/>
<text x="142.24" y="550.30" font-size="10.2" text-anchor="middle" fill="#000">100</text>
<line x1="162.90" y1="533.60" x2="162.90" y2="536.20" stroke="#000" stroke-width="1.0"/>
<line x1="183.56" y1="533.60" x2="183.56" y2="538.20" stroke="#000" stroke-width="1.0"/>
<text x="183.56" y="550.30" font-size="10.2" text-anchor="middle" fill="#000">150</text>
<line x1="204.22" y1="533.60" x2="204.22" y2="536.20" stroke="#000" stroke-width="1.0"/>
<line x1="224.88" y1="533.60" x2="224.88" y2="538.20" stroke="#000" stroke-width="1.0"/>
<text x="224.88" y="550.30" font-size="10.2" text-anchor="middle" fill="#000">200</text>
<line x1="245.54" y1="533.60" x2="245.54" y2="536.20" stroke="#000" stroke-width="1.0"/>
<line x1="266.20" y1="533.60" x2="266.20" y2="538.20" stroke="#000" stroke-width="1.0"/>
<text x="266.20" y="550.30" font-size="10.2" text-anchor="middle" fill="#000">250</text>
<line x1="286.86" y1="533.60" x2="286.86" y2="536.20" stroke="#000" stroke-width="1.0"/>
<line x1="307.52" y1="533.60" x2="307.52" y2="538.20" stroke="#000" stroke-width="1.0"/>
<text x="307.52" y="550.30" font-size="10.2" text-anchor="middle" fill="#000">300</text>
<line x1="328.18" y1="533.60" x2="328.18" y2="536.20" stroke="#000" stroke-width="1.0"/>
<text x="184.60" y="562.30" font-size="10.3" text-anchor="middle" fill="#000">Time (h)</text>
<text x="12.60" y="464.40" font-size="10.3" text-anchor="middle" fill="#000" transform="rotate(-90 12.60 464.40)">Amount of dissolution (%)</text>
<line x1="82.73" y1="504.80" x2="86.06" y2="504.80" stroke="#333" stroke-width="1.0"/>
<line x1="82.73" y1="524.75" x2="86.06" y2="524.75" stroke="#333" stroke-width="1.0"/>
<line x1="99.26" y1="504.80" x2="102.58" y2="504.80" stroke="#333" stroke-width="1.0"/>
<line x1="99.26" y1="524.75" x2="102.58" y2="524.75" stroke="#333" stroke-width="1.0"/>
<line x1="115.78" y1="504.80" x2="119.11" y2="504.80" stroke="#333" stroke-width="1.0"/>
<line x1="115.78" y1="524.75" x2="119.11" y2="524.75" stroke="#333" stroke-width="1.0"/>
<line x1="132.31" y1="504.80" x2="135.64" y2="504.80" stroke="#333" stroke-width="1.0"/>
<line x1="132.31" y1="524.75" x2="135.64" y2="524.75" stroke="#333" stroke-width="1.0"/>
<line x1="148.84" y1="504.80" x2="152.17" y2="504.80" stroke="#333" stroke-width="1.0"/>
<line x1="148.84" y1="524.75" x2="152.17" y2="524.75" stroke="#333" stroke-width="1.0"/>
<line x1="165.37" y1="504.80" x2="168.70" y2="504.80" stroke="#333" stroke-width="1.0"/>
<line x1="165.37" y1="524.75" x2="168.70" y2="524.75" stroke="#333" stroke-width="1.0"/>
<line x1="181.90" y1="504.80" x2="185.22" y2="504.80" stroke="#333" stroke-width="1.0"/>
<line x1="181.90" y1="524.75" x2="185.22" y2="524.75" stroke="#333" stroke-width="1.0"/>
<line x1="198.42" y1="504.80" x2="201.75" y2="504.80" stroke="#333" stroke-width="1.0"/>
<line x1="198.42" y1="524.75" x2="201.75" y2="524.75" stroke="#333" stroke-width="1.0"/>
<line x1="214.95" y1="504.80" x2="218.28" y2="504.80" stroke="#333" stroke-width="1.0"/>
<line x1="214.95" y1="524.75" x2="218.28" y2="524.75" stroke="#333" stroke-width="1.0"/>
<line x1="231.48" y1="504.80" x2="234.81" y2="504.80" stroke="#333" stroke-width="1.0"/>
<line x1="231.48" y1="524.75" x2="234.81" y2="524.75" stroke="#333" stroke-width="1.0"/>
<line x1="248.01" y1="504.80" x2="251.34" y2="504.80" stroke="#333" stroke-width="1.0"/>
<line x1="248.01" y1="524.75" x2="251.34" y2="524.75" stroke="#333" stroke-width="1.0"/>
<line x1="264.54" y1="504.80" x2="267.86" y2="504.80" stroke="#333" stroke-width="1.0"/>
<line x1="264.54" y1="524.75" x2="267.86" y2="524.75" stroke="#333" stroke-width="1.0"/>
<line x1="281.06" y1="504.80" x2="284.39" y2="504.80" stroke="#333" stroke-width="1.0"/>
<line x1="281.06" y1="524.75" x2="284.39" y2="524.75" stroke="#333" stroke-width="1.0"/>
<line x1="297.59" y1="504.80" x2="300.92" y2="504.80" stroke="#333" stroke-width="1.0"/>
<line x1="297.59" y1="524.75" x2="300.92" y2="524.75" stroke="#333" stroke-width="1.0"/>
<path d="M76.13,499.85 L80.88,502.47 L80.88,507.72 L76.13,510.35 L71.38,507.72 L71.38,502.47Z" fill="#fff" stroke="#ff0000" stroke-width="0.9"/>
<path d="M76.13,499.85 L80.88,502.47 L80.88,507.72 L76.13,510.35Z" fill="#ff0000" stroke="#ff0000" stroke-width="0.54"/>
<path d="M76.13,519.90 L80.88,522.52 L80.88,527.77 L76.13,530.40 L71.38,527.77 L71.38,522.52Z" fill="#fff" stroke="#009494" stroke-width="0.9"/>
<path d="M71.38,525.75 L71.38,522.52 L76.13,519.90 L80.88,522.52 L80.88,525.75Z" fill="#009494" stroke="#009494" stroke-width="0.54"/>
<path d="M92.66,499.85 L97.41,502.47 L97.41,507.72 L92.66,510.35 L87.91,507.72 L87.91,502.47Z" fill="#fff" stroke="#ff0000" stroke-width="0.9"/>
<path d="M92.66,499.85 L97.41,502.47 L97.41,507.72 L92.66,510.35Z" fill="#ff0000" stroke="#ff0000" stroke-width="0.54"/>
<path d="M92.66,519.90 L97.41,522.52 L97.41,527.77 L92.66,530.40 L87.91,527.77 L87.91,522.52Z" fill="#fff" stroke="#009494" stroke-width="0.9"/>
<path d="M87.91,525.75 L87.91,522.52 L92.66,519.90 L97.41,522.52 L97.41,525.75Z" fill="#009494" stroke="#009494" stroke-width="0.54"/>
<path d="M109.18,499.85 L113.93,502.47 L113.93,507.72 L109.18,510.35 L104.43,507.72 L104.43,502.47Z" fill="#fff" stroke="#ff0000" stroke-width="0.9"/>
<path d="M109.18,499.85 L113.93,502.47 L113.93,507.72 L109.18,510.35Z" fill="#ff0000" stroke="#ff0000" stroke-width="0.54"/>
<path d="M109.18,519.90 L113.93,522.52 L113.93,527.77 L109.18,530.40 L104.43,527.77 L104.43,522.52Z" fill="#fff" stroke="#009494" stroke-width="0.9"/>
<path d="M104.43,525.75 L104.43,522.52 L109.18,519.90 L113.93,522.52 L113.93,525.75Z" fill="#009494" stroke="#009494" stroke-width="0.54"/>
<path d="M125.71,499.85 L130.46,502.47 L130.46,507.72 L125.71,510.35 L120.96,507.72 L120.96,502.47Z" fill="#fff" stroke="#ff0000" stroke-width="0.9"/>
<path d="M125.71,499.85 L130.46,502.47 L130.46,507.72 L125.71,510.35Z" fill="#ff0000" stroke="#ff0000" stroke-width="0.54"/>
<path d="M125.71,519.90 L130.46,522.52 L130.46,527.77 L125.71,530.40 L120.96,527.77 L120.96,522.52Z" fill="#fff" stroke="#009494" stroke-width="0.9"/>
<path d="M120.96,525.75 L120.96,522.52 L125.71,519.90 L130.46,522.52 L130.46,525.75Z" fill="#009494" stroke="#009494" stroke-width="0.54"/>
<path d="M142.24,499.85 L146.99,502.47 L146.99,507.72 L142.24,510.35 L137.49,507.72 L137.49,502.47Z" fill="#fff" stroke="#ff0000" stroke-width="0.9"/>
<path d="M142.24,499.85 L146.99,502.47 L146.99,507.72 L142.24,510.35Z" fill="#ff0000" stroke="#ff0000" stroke-width="0.54"/>
<path d="M142.24,519.90 L146.99,522.52 L146.99,527.77 L142.24,530.40 L137.49,527.77 L137.49,522.52Z" fill="#fff" stroke="#009494" stroke-width="0.9"/>
<path d="M137.49,525.75 L137.49,522.52 L142.24,519.90 L146.99,522.52 L146.99,525.75Z" fill="#009494" stroke="#009494" stroke-width="0.54"/>
<path d="M158.77,499.85 L163.52,502.47 L163.52,507.72 L158.77,510.35 L154.02,507.72 L154.02,502.47Z" fill="#fff" stroke="#ff0000" stroke-width="0.9"/>
<path d="M158.77,499.85 L163.52,502.47 L163.52,507.72 L158.77,510.35Z" fill="#ff0000" stroke="#ff0000" stroke-width="0.54"/>
<path d="M158.77,519.90 L163.52,522.52 L163.52,527.77 L158.77,530.40 L154.02,527.77 L154.02,522.52Z" fill="#fff" stroke="#009494" stroke-width="0.9"/>
<path d="M154.02,525.75 L154.02,522.52 L158.77,519.90 L163.52,522.52 L163.52,525.75Z" fill="#009494" stroke="#009494" stroke-width="0.54"/>
<path d="M175.30,499.85 L180.05,502.47 L180.05,507.72 L175.30,510.35 L170.55,507.72 L170.55,502.47Z" fill="#fff" stroke="#ff0000" stroke-width="0.9"/>
<path d="M175.30,499.85 L180.05,502.47 L180.05,507.72 L175.30,510.35Z" fill="#ff0000" stroke="#ff0000" stroke-width="0.54"/>
<path d="M175.30,519.90 L180.05,522.52 L180.05,527.77 L175.30,530.40 L170.55,527.77 L170.55,522.52Z" fill="#fff" stroke="#009494" stroke-width="0.9"/>
<path d="M170.55,525.75 L170.55,522.52 L175.30,519.90 L180.05,522.52 L180.05,525.75Z" fill="#009494" stroke="#009494" stroke-width="0.54"/>
<path d="M191.82,499.85 L196.57,502.47 L196.57,507.72 L191.82,510.35 L187.07,507.72 L187.07,502.47Z" fill="#fff" stroke="#ff0000" stroke-width="0.9"/>
<path d="M191.82,499.85 L196.57,502.47 L196.57,507.72 L191.82,510.35Z" fill="#ff0000" stroke="#ff0000" stroke-width="0.54"/>
<path d="M191.82,519.90 L196.57,522.52 L196.57,527.77 L191.82,530.40 L187.07,527.77 L187.07,522.52Z" fill="#fff" stroke="#009494" stroke-width="0.9"/>
<path d="M187.07,525.75 L187.07,522.52 L191.82,519.90 L196.57,522.52 L196.57,525.75Z" fill="#009494" stroke="#009494" stroke-width="0.54"/>
<path d="M208.35,499.85 L213.10,502.47 L213.10,507.72 L208.35,510.35 L203.60,507.72 L203.60,502.47Z" fill="#fff" stroke="#ff0000" stroke-width="0.9"/>
<path d="M208.35,499.85 L213.10,502.47 L213.10,507.72 L208.35,510.35Z" fill="#ff0000" stroke="#ff0000" stroke-width="0.54"/>
<path d="M208.35,519.90 L213.10,522.52 L213.10,527.77 L208.35,530.40 L203.60,527.77 L203.60,522.52Z" fill="#fff" stroke="#009494" stroke-width="0.9"/>
<path d="M203.60,525.75 L203.60,522.52 L208.35,519.90 L213.10,522.52 L213.10,525.75Z" fill="#009494" stroke="#009494" stroke-width="0.54"/>
<path d="M224.88,499.85 L229.63,502.47 L229.63,507.72 L224.88,510.35 L220.13,507.72 L220.13,502.47Z" fill="#fff" stroke="#ff0000" stroke-width="0.9"/>
<path d="M224.88,499.85 L229.63,502.47 L229.63,507.72 L224.88,510.35Z" fill="#ff0000" stroke="#ff0000" stroke-width="0.54"/>
<path d="M224.88,519.90 L229.63,522.52 L229.63,527.77 L224.88,530.40 L220.13,527.77 L220.13,522.52Z" fill="#fff" stroke="#009494" stroke-width="0.9"/>
<path d="M220.13,525.75 L220.13,522.52 L224.88,519.90 L229.63,522.52 L229.63,525.75Z" fill="#009494" stroke="#009494" stroke-width="0.54"/>
<path d="M241.41,499.85 L246.16,502.47 L246.16,507.72 L241.41,510.35 L236.66,507.72 L236.66,502.47Z" fill="#fff" stroke="#ff0000" stroke-width="0.9"/>
<path d="M241.41,499.85 L246.16,502.47 L246.16,507.72 L241.41,510.35Z" fill="#ff0000" stroke="#ff0000" stroke-width="0.54"/>
<path d="M241.41,519.90 L246.16,522.52 L246.16,527.77 L241.41,530.40 L236.66,527.77 L236.66,522.52Z" fill="#fff" stroke="#009494" stroke-width="0.9"/>
<path d="M236.66,525.75 L236.66,522.52 L241.41,519.90 L246.16,522.52 L246.16,525.75Z" fill="#009494" stroke="#009494" stroke-width="0.54"/>
<path d="M257.94,499.85 L262.69,502.47 L262.69,507.72 L257.94,510.35 L253.19,507.72 L253.19,502.47Z" fill="#fff" stroke="#ff0000" stroke-width="0.9"/>
<path d="M257.94,499.85 L262.69,502.47 L262.69,507.72 L257.94,510.35Z" fill="#ff0000" stroke="#ff0000" stroke-width="0.54"/>
<path d="M257.94,519.90 L262.69,522.52 L262.69,527.77 L257.94,530.40 L253.19,527.77 L253.19,522.52Z" fill="#fff" stroke="#009494" stroke-width="0.9"/>
<path d="M253.19,525.75 L253.19,522.52 L257.94,519.90 L262.69,522.52 L262.69,525.75Z" fill="#009494" stroke="#009494" stroke-width="0.54"/>
<path d="M274.46,499.85 L279.21,502.47 L279.21,507.72 L274.46,510.35 L269.71,507.72 L269.71,502.47Z" fill="#fff" stroke="#ff0000" stroke-width="0.9"/>
<path d="M274.46,499.85 L279.21,502.47 L279.21,507.72 L274.46,510.35Z" fill="#ff0000" stroke="#ff0000" stroke-width="0.54"/>
<path d="M274.46,519.90 L279.21,522.52 L279.21,527.77 L274.46,530.40 L269.71,527.77 L269.71,522.52Z" fill="#fff" stroke="#009494" stroke-width="0.9"/>
<path d="M269.71,525.75 L269.71,522.52 L274.46,519.90 L279.21,522.52 L279.21,525.75Z" fill="#009494" stroke="#009494" stroke-width="0.54"/>
<path d="M290.99,499.85 L295.74,502.47 L295.74,507.72 L290.99,510.35 L286.24,507.72 L286.24,502.47Z" fill="#fff" stroke="#ff0000" stroke-width="0.9"/>
<path d="M290.99,499.85 L295.74,502.47 L295.74,507.72 L290.99,510.35Z" fill="#ff0000" stroke="#ff0000" stroke-width="0.54"/>
<path d="M290.99,519.90 L295.74,522.52 L295.74,527.77 L290.99,530.40 L286.24,527.77 L286.24,522.52Z" fill="#fff" stroke="#009494" stroke-width="0.9"/>
<path d="M286.24,525.75 L286.24,522.52 L290.99,519.90 L295.74,522.52 L295.74,525.75Z" fill="#009494" stroke="#009494" stroke-width="0.54"/>
<path d="M307.52,499.85 L312.27,502.47 L312.27,507.72 L307.52,510.35 L302.77,507.72 L302.77,502.47Z" fill="#fff" stroke="#ff0000" stroke-width="0.9"/>
<path d="M307.52,499.85 L312.27,502.47 L312.27,507.72 L307.52,510.35Z" fill="#ff0000" stroke="#ff0000" stroke-width="0.54"/>
<path d="M307.52,519.90 L312.27,522.52 L312.27,527.77 L307.52,530.40 L302.77,527.77 L302.77,522.52Z" fill="#fff" stroke="#009494" stroke-width="0.9"/>
<path d="M302.77,525.75 L302.77,522.52 L307.52,519.90 L312.27,522.52 L312.27,525.75Z" fill="#009494" stroke="#009494" stroke-width="0.54"/>
<line x1="41.00" y1="413.40" x2="45.80" y2="413.40" stroke="#333" stroke-width="1.0"/>
<line x1="58.60" y1="413.40" x2="63.00" y2="413.40" stroke="#333" stroke-width="1.0"/>
<path d="M51.90,407.95 L56.65,410.57 L56.65,415.82 L51.90,418.45 L47.15,415.82 L47.15,410.57Z" fill="#fff" stroke="#ff0000" stroke-width="0.9"/>
<path d="M51.90,407.95 L56.65,410.57 L56.65,415.82 L51.90,418.45Z" fill="#ff0000" stroke="#ff0000" stroke-width="0.54"/>
<line x1="41.00" y1="427.80" x2="45.80" y2="427.80" stroke="#333" stroke-width="1.0"/>
<line x1="58.60" y1="427.80" x2="63.00" y2="427.80" stroke="#333" stroke-width="1.0"/>
<path d="M51.90,422.45 L56.65,425.07 L56.65,430.32 L51.90,432.95 L47.15,430.32 L47.15,425.07Z" fill="#fff" stroke="#009494" stroke-width="0.9"/>
<path d="M47.15,428.30 L47.15,425.07 L51.90,422.45 L56.65,425.07 L56.65,428.30Z" fill="#009494" stroke="#009494" stroke-width="0.54"/>
<text x="66.90" y="416.80" font-size="10.3" text-anchor="start" fill="#000">Ru of Ru<tspan font-size="7.21" dy="3.40">(SA)</tspan><tspan dy="-3.40">-NiOMS</tspan></text>
<text x="66.90" y="431.50" font-size="10.3" text-anchor="start" fill="#000">Mn of Ru<tspan font-size="7.21" dy="3.40">(SA)</tspan><tspan dy="-3.40">-NiOMS</tspan></text>
<text x="50.50" y="457.70" font-size="10.3" text-anchor="start" fill="#000">Ru dissolution &lt; 0.1%</text>
<text x="50.50" y="470.10" font-size="10.3" text-anchor="start" fill="#000">Mn dissolution &lt; 0.03%</text>
<text x="-0.80" y="397.20" font-size="15.5" text-anchor="start" fill="#000">g</text>
<defs><pattern id="hatchP" width="2" height="2" patternUnits="userSpaceOnUse"><rect width="2" height="2" fill="#eca4b0"/><rect width="1" height="1" fill="#e28f9e"/></pattern><pattern id="hatchT" width="2" height="2" patternUnits="userSpaceOnUse"><rect width="2" height="2" fill="#afdcd8"/><rect width="1" height="1" fill="#9ad2cd"/></pattern></defs>
<rect x="223.2" y="427.16" width="14.6" height="60.04" fill="url(#hatchP)"/>
<rect x="251.0" y="469.82" width="14.6" height="17.38" fill="url(#hatchT)"/>
<rect x="209.5" y="392.4" width="98.60" height="94.80" fill="none" stroke="#000" stroke-width="1.2"/>
<line x1="206.90" y1="487.20" x2="209.50" y2="487.20" stroke="#000" stroke-width="1.0"/>
<text x="205.90" y="490.70" font-size="10.2" text-anchor="end" fill="#000">0</text>
<line x1="206.90" y1="455.60" x2="209.50" y2="455.60" stroke="#000" stroke-width="1.0"/>
<text x="205.90" y="459.10" font-size="10.2" text-anchor="end" fill="#000">5</text>
<line x1="206.90" y1="424.00" x2="209.50" y2="424.00" stroke="#000" stroke-width="1.0"/>
<text x="205.90" y="427.50" font-size="10.2" text-anchor="end" fill="#000">10</text>
<line x1="206.90" y1="392.40" x2="209.50" y2="392.40" stroke="#000" stroke-width="1.0"/>
<text x="205.90" y="395.90" font-size="10.2" text-anchor="end" fill="#000">15</text>
<text x="230.40" y="425.50" font-size="10.3" text-anchor="middle" fill="#000">9.5</text>
<text x="279.60" y="476.60" font-size="10.3" text-anchor="start" fill="#000">&lt; 0.1</text>
<text x="192.40" y="437.40" font-size="9.7" text-anchor="middle" fill="#000" transform="rotate(-90 192.40 437.40)">Dissolved Ru percent (%)</text>
<text x="225.60" y="410.60" font-size="8.9" text-anchor="start" fill="#000" transform="rotate(-40 225.60 410.60)">RuO<tspan font-size="6.2" dy="2.3">2</tspan></text>
<text x="240.00" y="439.80" font-size="8.9" text-anchor="start" fill="#000" transform="rotate(-42 240.00 439.80)">Ru<tspan font-size="6.23" dy="2.94">(SA)</tspan><tspan dy="-2.94">-OMS</tspan></text>
<text x="266.80" y="457.40" font-size="8.9" text-anchor="start" fill="#000" transform="rotate(-42 266.80 457.40)">Ru<tspan font-size="6.23" dy="2.94">(SA)</tspan><tspan dy="-2.94">-NiOMS</tspan></text>
<defs><filter id="feather" x="-0.1" y="-0.1" width="1.2" height="1.2"><feGaussianBlur stdDeviation="2.2"/></filter><filter id="soft" x="-0.05" y="-0.05" width="1.1" height="1.1"><feGaussianBlur stdDeviation="0.7"/></filter><mask id="phmask" maskUnits="userSpaceOnUse" x="380" y="400" width="185" height="105"><rect x="393.5" y="412.1" width="157.0" height="78.89999999999998" rx="21" ry="21" fill="#fff" filter="url(#feather)"/></mask></defs>
<g mask="url(#phmask)"><g filter="url(#soft)">
<rect x="391.5" y="410.6" width="161.0" height="81.89999999999998" fill="#acacac"/>
<rect x="391.5" y="410.6" width="161.0" height="11" fill="#c2bdb6"/>
<rect x="412" y="411" width="26" height="8" fill="#cfc9c0"/>
<rect x="494" y="411" width="30" height="7" fill="#d6d2cc"/>
<rect x="446" y="420" width="14" height="50" fill="#a6a6a6"/>
<rect x="488" y="420" width="14" height="52" fill="#a4a4a4"/>
<defs><linearGradient id="floorG" x1="0" y1="0" x2="0" y2="1"><stop offset="0" stop-color="#767676"/><stop offset="1" stop-color="#8e8e8e"/></linearGradient></defs>
<rect x="391.5" y="474" width="161.0" height="18.5" fill="url(#floorG)"/>
<path d="M451.5,458.8 L455.5,460 L445,493 L440,493Z" fill="#4a4a4a"/>
<path d="M498.1,460.4 L502,459 L514,493 L508,493Z" fill="#4a4a4a"/>
<path d="M394.6,421 L434.6,421 L445.4,440 L445.4,470 L440,474.5 L392,474.5 L392,424Z" fill="#e2e2e2"/>
<path d="M434.6,421 L445.4,440 L445.4,470 L434,474.5 L434,430Z" fill="#d2d2d2"/>
<rect x="392" y="472.5" width="50" height="3.4" fill="#3a3a3a"/>
<path d="M395,422.6 L426.2,422.6 L425,431.8 L395,431.8Z" fill="#6e7e90"/>
<rect x="397" y="424" width="8" height="6" fill="#93aec4"/><rect x="407" y="424" width="8" height="6" fill="#9ab4c8"/><rect x="416" y="424" width="5" height="7" fill="#1e2a36"/>
<rect x="392.3" y="441" width="27.7" height="30" rx="3" fill="#f2f2f2"/>
<circle cx="401.5" cy="461" r="2.2" fill="#3a3a3a"/>
<circle cx="418.2" cy="447" r="2.6" fill="#3a3a3a"/><circle cx="418.2" cy="447" r="1.3" fill="#bbbbbb"/>
<path d="M420,450 L430,466 L436,470" stroke="#f0f0f0" stroke-width="1.2" fill="none"/>
<rect x="417" y="455" width="2.4" height="3" fill="#d03030"/>
<path d="M435,446 L440,442 L440,458 L435,461Z" fill="#c09090" opacity="0.6"/>
<path d="M503,418.8 L548,418.8 L552,424 L552,472.7 L501.2,472.7 L501.2,421Z" fill="#e6e6e6"/>
<rect x="501" y="471" width="52" height="5" fill="#383838"/>
<path d="M516.6,419.6 L539,419.6 L538,428 L517,428Z" fill="#7a8ea6"/>
<circle cx="524" cy="425" r="1.6" fill="#1e2a36"/>
<rect x="526.6" y="443.4" width="26" height="25.5" rx="3" fill="#f4f4f4"/>
<circle cx="544.4" cy="458" r="2.4" fill="#3a3a3a"/>
<path d="M503,440 L512,436 L512,468 L503,470Z" fill="#d0d0d0"/>
<rect x="520" y="455" width="2" height="3" fill="#d03030"/>
<rect x="469.6" y="411" width="10" height="17" fill="#d8d8d8"/>
<rect x="471" y="426" width="7" height="5" fill="#707070"/>
<rect x="468" y="461" width="14" height="32" fill="#b4b4b4"/>
<rect x="470.5" y="461" width="2" height="32" fill="#e0e0e0"/><rect x="476" y="461" width="2" height="32" fill="#7a7a7a"/>
<rect x="462" y="454.2" width="27.7" height="7" fill="#ececec"/>
<rect x="465.8" y="437.3" width="19.2" height="20" fill="#2f7fd6"/>
<rect x="471.2" y="442.7" width="6.9" height="9.2" fill="#1c2630"/>
<circle cx="467.8" cy="439.3" r="1.1" fill="#10202c"/><circle cx="483" cy="439.3" r="1.1" fill="#10202c"/><circle cx="467.8" cy="455.3" r="1.1" fill="#10202c"/><circle cx="483" cy="455.3" r="1.1" fill="#10202c"/>
<rect x="459" y="440" width="6" height="12" fill="#3a5a8a"/>
<path d="M461,433 L464,424 L470,429" stroke="#d82828" stroke-width="1.6" fill="none"/>
<rect x="455.8" y="431.1" width="7.7" height="3" fill="#e8cc10"/>
<rect x="468" y="431" width="12" height="4" fill="#d86020"/>
<rect x="473" y="429" width="6" height="3" fill="#30a030"/>
<path d="M490,444 C500,440 512,444 511,455 C510,466 503,476 499.7,480.4" stroke="#2456c8" stroke-width="1.7" fill="none"/>
<path d="M499.7,480.4 C496,470 497,462 500,455" stroke="#2456c8" stroke-width="1.3" fill="none"/>
<path d="M466,446 C456,450 452,458 449,468 C447,474 446,478 445,480" stroke="#2456c8" stroke-width="1.5" fill="none"/>
<path d="M455,456 C452,462 452,470 454,476" stroke="#2456c8" stroke-width="1.1" fill="none"/>
</g></g>
<rect x="459.8" y="432.3" width="31.8" height="30.8" fill="none" stroke="#e01010" stroke-width="1.7" stroke-dasharray="3.4,1.8"/>
<line x1="494.50" y1="446.00" x2="571.30" y2="421.60" stroke="#e01010" stroke-width="1.6" stroke-dasharray="4,2.4"/>
<line x1="494.50" y1="448.00" x2="571.30" y2="474.00" stroke="#e01010" stroke-width="1.6" stroke-dasharray="4,2.4"/>
<path d="M571.10,426.00 L589.50,411.20 L596.60,412.00 L596.60,465.00 L578.50,478.60 L571.10,477.00Z" fill="#f2e2a8" stroke="none" stroke-width="0.5" opacity="1"/>
<path d="M571.10,426.00 L589.50,411.20 L596.60,412.00 L578.20,427.00Z" fill="#f8eec6" stroke="none" stroke-width="0.5" opacity="1"/>
<path d="M571.10,426.00 L578.20,427.00 L578.50,478.60 L571.10,477.00Z" fill="#e9d48e" stroke="none" stroke-width="0.5" opacity="1"/>
<path d="M585.10,427.80 L606.20,412.90 L609.70,413.80 L609.70,464.60 L589.50,477.70 L585.10,476.80Z" fill="#e6e6e6" stroke="none" stroke-width="0.5" opacity="1"/>
<path d="M585.10,427.80 L589.30,428.60 L589.50,477.70 L585.10,476.80Z" fill="#d2d2d2" stroke="none" stroke-width="0.5" opacity="1"/>
<path d="M585.10,427.80 L606.20,412.90 L609.70,413.80 L589.30,428.60Z" fill="#f0f0f0" stroke="none" stroke-width="0.5" opacity="1"/>
<line x1="597.50" y1="442.00" x2="601.50" y2="439.50" stroke="#9a9a9a" stroke-width="0.6"/>
<line x1="597.50" y1="444.20" x2="601.50" y2="441.70" stroke="#9a9a9a" stroke-width="0.6"/>
<line x1="597.50" y1="446.40" x2="601.50" y2="443.90" stroke="#9a9a9a" stroke-width="0.6"/>
<line x1="597.50" y1="448.60" x2="601.50" y2="446.10" stroke="#9a9a9a" stroke-width="0.6"/>
<line x1="597.50" y1="450.80" x2="601.50" y2="448.30" stroke="#9a9a9a" stroke-width="0.6"/>
<line x1="597.50" y1="453.00" x2="601.50" y2="450.50" stroke="#9a9a9a" stroke-width="0.6"/>
<circle cx="587.8" cy="470.7" r="1.9" fill="#d88a5a"/>
<circle cx="600" cy="421" r="0.6" fill="#9a9a9a"/>
<circle cx="606.5" cy="417.5" r="0.6" fill="#9a9a9a"/>
<circle cx="596" cy="436" r="0.6" fill="#9a9a9a"/>
<circle cx="606" cy="430" r="0.6" fill="#9a9a9a"/>
<circle cx="596" cy="460" r="0.6" fill="#9a9a9a"/>
<circle cx="606" cy="455" r="0.6" fill="#9a9a9a"/>
<circle cx="590" cy="470.5" r="0.6" fill="#9a9a9a"/>
<path d="M612.00,442.70 L615.80,440.90 L615.80,451.40 L612.00,453.70Z" fill="#6e6e6e" stroke="none" stroke-width="0.5" opacity="1"/>
<path d="M623.70,442.70 L629.80,437.40 L630.70,454.00 L624.60,458.40Z" fill="#fafafa" stroke="#888" stroke-width="0.5" opacity="1"/>
<path d="M625.40,443.50 L628.60,440.60 L629.20,452.60 L626.00,455.60Z" fill="#555" stroke="none" stroke-width="0.5" opacity="1"/>
<path d="M637.70,447.90 L641.60,445.30 L641.60,454.60 L637.70,456.70Z" fill="#777" stroke="none" stroke-width="0.5" opacity="1"/>
<path d="M643.00,433.90 L662.20,419.90 L667.50,420.80 L667.50,472.40 L649.10,485.60 L643.00,484.70Z" fill="#e2e2e2" stroke="none" stroke-width="0.5" opacity="1"/>
<path d="M643.00,433.90 L648.50,434.80 L649.10,485.60 L643.00,484.70Z" fill="#cfcfcf" stroke="none" stroke-width="0.5" opacity="1"/>
<circle cx="645.6" cy="446.2" r="1.9" fill="#d88a5a"/>
<path d="M657.00,437.40 L677.10,421.60 L682.50,422.50 L682.50,474.20 L663.10,487.30 L657.00,486.50Z" fill="#f2e0a2" stroke="none" stroke-width="0.5" opacity="1"/>
<path d="M657.00,437.40 L663.00,438.40 L663.10,487.30 L657.00,486.50Z" fill="#e8d28a" stroke="none" stroke-width="0.5" opacity="1"/>
<path d="M657.00,437.40 L677.10,421.60 L682.50,422.50 L663.00,438.40Z" fill="#f7ecc4" stroke="none" stroke-width="0.5" opacity="1"/>
<circle cx="668" cy="432" r="0.6" fill="#c8a860"/>
<circle cx="676" cy="427" r="0.6" fill="#c8a860"/>
<circle cx="667" cy="455" r="0.6" fill="#c8a860"/>
<circle cx="676" cy="450" r="0.6" fill="#c8a860"/>
<circle cx="667" cy="478" r="0.6" fill="#c8a860"/>
<circle cx="676" cy="472" r="0.6" fill="#c8a860"/>
<line x1="386.70" y1="533.80" x2="676.60" y2="533.80" stroke="#000" stroke-width="1.2"/>
<line x1="386.70" y1="534.40" x2="386.70" y2="393.10" stroke="#000" stroke-width="1.2"/>
<line x1="382.10" y1="393.10" x2="387.30" y2="393.10" stroke="#000" stroke-width="1.2"/>
<line x1="382.30" y1="505.80" x2="386.70" y2="505.80" stroke="#000" stroke-width="1.0"/>
<text x="378.90" y="509.00" font-size="10.5" text-anchor="end" fill="#000">1.6</text>
<line x1="383.90" y1="477.70" x2="386.70" y2="477.70" stroke="#000" stroke-width="1.0"/>
<line x1="382.30" y1="449.60" x2="386.70" y2="449.60" stroke="#000" stroke-width="1.0"/>
<text x="378.90" y="452.80" font-size="10.5" text-anchor="end" fill="#000">1.8</text>
<line x1="383.90" y1="421.50" x2="386.70" y2="421.50" stroke="#000" stroke-width="1.0"/>
<text x="378.90" y="396.20" font-size="10.5" text-anchor="end" fill="#000">2.0</text>
<line x1="386.60" y1="533.80" x2="386.60" y2="539.00" stroke="#000" stroke-width="1.0"/>
<text x="386.60" y="550.30" font-size="10.2" text-anchor="middle" fill="#000">0</text>
<line x1="401.10" y1="533.80" x2="401.10" y2="536.20" stroke="#000" stroke-width="1.0"/>
<line x1="415.60" y1="533.80" x2="415.60" y2="539.00" stroke="#000" stroke-width="1.0"/>
<text x="415.60" y="550.30" font-size="10.2" text-anchor="middle" fill="#000">10</text>
<line x1="430.10" y1="533.80" x2="430.10" y2="536.20" stroke="#000" stroke-width="1.0"/>
<line x1="444.60" y1="533.80" x2="444.60" y2="539.00" stroke="#000" stroke-width="1.0"/>
<text x="444.60" y="550.30" font-size="10.2" text-anchor="middle" fill="#000">20</text>
<line x1="459.10" y1="533.80" x2="459.10" y2="536.20" stroke="#000" stroke-width="1.0"/>
<line x1="473.60" y1="533.80" x2="473.60" y2="539.00" stroke="#000" stroke-width="1.0"/>
<text x="473.60" y="550.30" font-size="10.2" text-anchor="middle" fill="#000">30</text>
<line x1="488.10" y1="533.80" x2="488.10" y2="536.20" stroke="#000" stroke-width="1.0"/>
<line x1="502.60" y1="533.80" x2="502.60" y2="539.00" stroke="#000" stroke-width="1.0"/>
<text x="502.60" y="550.30" font-size="10.2" text-anchor="middle" fill="#000">40</text>
<line x1="517.10" y1="533.80" x2="517.10" y2="536.20" stroke="#000" stroke-width="1.0"/>
<line x1="531.60" y1="533.80" x2="531.60" y2="539.00" stroke="#000" stroke-width="1.0"/>
<text x="531.60" y="550.30" font-size="10.2" text-anchor="middle" fill="#000">50</text>
<line x1="546.10" y1="533.80" x2="546.10" y2="536.20" stroke="#000" stroke-width="1.0"/>
<line x1="560.60" y1="533.80" x2="560.60" y2="539.00" stroke="#000" stroke-width="1.0"/>
<text x="560.60" y="550.30" font-size="10.2" text-anchor="middle" fill="#000">60</text>
<line x1="575.10" y1="533.80" x2="575.10" y2="536.20" stroke="#000" stroke-width="1.0"/>
<line x1="589.60" y1="533.80" x2="589.60" y2="539.00" stroke="#000" stroke-width="1.0"/>
<text x="589.60" y="550.30" font-size="10.2" text-anchor="middle" fill="#000">70</text>
<line x1="604.10" y1="533.80" x2="604.10" y2="536.20" stroke="#000" stroke-width="1.0"/>
<line x1="618.60" y1="533.80" x2="618.60" y2="539.00" stroke="#000" stroke-width="1.0"/>
<text x="618.60" y="550.30" font-size="10.2" text-anchor="middle" fill="#000">80</text>
<line x1="633.10" y1="533.80" x2="633.10" y2="536.20" stroke="#000" stroke-width="1.0"/>
<line x1="647.60" y1="533.80" x2="647.60" y2="539.00" stroke="#000" stroke-width="1.0"/>
<text x="647.60" y="550.30" font-size="10.2" text-anchor="middle" fill="#000">90</text>
<line x1="662.10" y1="533.80" x2="662.10" y2="536.20" stroke="#000" stroke-width="1.0"/>
<line x1="676.60" y1="533.80" x2="676.60" y2="539.00" stroke="#000" stroke-width="1.0"/>
<text x="676.60" y="550.30" font-size="10.2" text-anchor="middle" fill="#000">100</text>
<text x="529.80" y="562.20" font-size="10.3" text-anchor="middle" fill="#000">Time (h)</text>
<text x="359.90" y="462.90" font-size="10.3" text-anchor="middle" fill="#000" transform="rotate(-90 359.90 462.90)">Potential (V vs.RHE )</text>
<defs><clipPath id="clipH"><rect x="386.7" y="380" width="290.10" height="160"/></clipPath></defs>
<g clip-path="url(#clipH)">
<path d="M386.60,516.40 L402.71,515.90 L418.82,514.60 L434.93,514.20 L451.04,513.40 L467.15,513.80 L483.26,512.40 L499.37,510.60 L515.48,509.40 L531.59,509.00 L547.70,510.40 L563.80,508.80 L579.91,509.30 L596.02,509.80 L612.13,509.80 L628.24,509.60 L644.35,509.30 L660.46,509.00 L676.57,509.60" fill="none" stroke="#111" stroke-width="1.4" stroke-linejoin="round" stroke-linecap="round"/>
<path d="M386.60,511.30 L391.25,513.85 L391.25,518.95 L386.60,521.50 L381.95,518.95 L381.95,513.85Z" fill="#fff" stroke="#ff0000" stroke-width="0.9"/>
<path d="M386.60,511.30 L391.25,513.85 L391.25,518.95 L386.60,521.50Z" fill="#ff0000" stroke="#ff0000" stroke-width="0.54"/>
<path d="M402.71,510.80 L407.36,513.35 L407.36,518.45 L402.71,521.00 L398.06,518.45 L398.06,513.35Z" fill="#fff" stroke="#ff0000" stroke-width="0.9"/>
<path d="M402.71,510.80 L407.36,513.35 L407.36,518.45 L402.71,521.00Z" fill="#ff0000" stroke="#ff0000" stroke-width="0.54"/>
<path d="M418.82,509.50 L423.47,512.05 L423.47,517.15 L418.82,519.70 L414.17,517.15 L414.17,512.05Z" fill="#fff" stroke="#ff0000" stroke-width="0.9"/>
<path d="M418.82,509.50 L423.47,512.05 L423.47,517.15 L418.82,519.70Z" fill="#ff0000" stroke="#ff0000" stroke-width="0.54"/>
<path d="M434.93,509.10 L439.58,511.65 L439.58,516.75 L434.93,519.30 L430.28,516.75 L430.28,511.65Z" fill="#fff" stroke="#ff0000" stroke-width="0.9"/>
<path d="M434.93,509.10 L439.58,511.65 L439.58,516.75 L434.93,519.30Z" fill="#ff0000" stroke="#ff0000" stroke-width="0.54"/>
<path d="M451.04,508.30 L455.69,510.85 L455.69,515.95 L451.04,518.50 L446.39,515.95 L446.39,510.85Z" fill="#fff" stroke="#ff0000" stroke-width="0.9"/>
<path d="M451.04,508.30 L455.69,510.85 L455.69,515.95 L451.04,518.50Z" fill="#ff0000" stroke="#ff0000" stroke-width="0.54"/>
<path d="M467.15,508.70 L471.80,511.25 L471.80,516.35 L467.15,518.90 L462.50,516.35 L462.50,511.25Z" fill="#fff" stroke="#ff0000" stroke-width="0.9"/>
<path d="M467.15,508.70 L471.80,511.25 L471.80,516.35 L467.15,518.90Z" fill="#ff0000" stroke="#ff0000" stroke-width="0.54"/>
<path d="M483.26,507.30 L487.91,509.85 L487.91,514.95 L483.26,517.50 L478.61,514.95 L478.61,509.85Z" fill="#fff" stroke="#ff0000" stroke-width="0.9"/>
<path d="M483.26,507.30 L487.91,509.85 L487.91,514.95 L483.26,517.50Z" fill="#ff0000" stroke="#ff0000" stroke-width="0.54"/>
<path d="M499.37,505.50 L504.02,508.05 L504.02,513.15 L499.37,515.70 L494.72,513.15 L494.72,508.05Z" fill="#fff" stroke="#ff0000" stroke-width="0.9"/>
<path d="M499.37,505.50 L504.02,508.05 L504.02,513.15 L499.37,515.70Z" fill="#ff0000" stroke="#ff0000" stroke-width="0.54"/>
<path d="M515.48,504.30 L520.13,506.85 L520.13,511.95 L515.48,514.50 L510.83,511.95 L510.83,506.85Z" fill="#fff" stroke="#ff0000" stroke-width="0.9"/>
<path d="M515.48,504.30 L520.13,506.85 L520.13,511.95 L515.48,514.50Z" fill="#ff0000" stroke="#ff0000" stroke-width="0.54"/>
<path d="M531.59,503.90 L536.24,506.45 L536.24,511.55 L531.59,514.10 L526.94,511.55 L526.94,506.45Z" fill="#fff" stroke="#ff0000" stroke-width="0.9"/>
<path d="M531.59,503.90 L536.24,506.45 L536.24,511.55 L531.59,514.10Z" fill="#ff0000" stroke="#ff0000" stroke-width="0.54"/>
<path d="M547.70,505.30 L552.35,507.85 L552.35,512.95 L547.70,515.50 L543.05,512.95 L543.05,507.85Z" fill="#fff" stroke="#ff0000" stroke-width="0.9"/>
<path d="M547.70,505.30 L552.35,507.85 L552.35,512.95 L547.70,515.50Z" fill="#ff0000" stroke="#ff0000" stroke-width="0.54"/>
<path d="M563.80,503.70 L568.45,506.25 L568.45,511.35 L563.80,513.90 L559.15,511.35 L559.15,506.25Z" fill="#fff" stroke="#ff0000" stroke-width="0.9"/>
<path d="M563.80,503.70 L568.45,506.25 L568.45,511.35 L563.80,513.90Z" fill="#ff0000" stroke="#ff0000" stroke-width="0.54"/>
<path d="M579.91,504.20 L584.56,506.75 L584.56,511.85 L579.91,514.40 L575.26,511.85 L575.26,506.75Z" fill="#fff" stroke="#ff0000" stroke-width="0.9"/>
<path d="M579.91,504.20 L584.56,506.75 L584.56,511.85 L579.91,514.40Z" fill="#ff0000" stroke="#ff0000" stroke-width="0.54"/>
<path d="M596.02,504.70 L600.67,507.25 L600.67,512.35 L596.02,514.90 L591.37,512.35 L591.37,507.25Z" fill="#fff" stroke="#ff0000" stroke-width="0.9"/>
<path d="M596.02,504.70 L600.67,507.25 L600.67,512.35 L596.02,514.90Z" fill="#ff0000" stroke="#ff0000" stroke-width="0.54"/>
<path d="M612.13,504.70 L616.78,507.25 L616.78,512.35 L612.13,514.90 L607.48,512.35 L607.48,507.25Z" fill="#fff" stroke="#ff0000" stroke-width="0.9"/>
<path d="M612.13,504.70 L616.78,507.25 L616.78,512.35 L612.13,514.90Z" fill="#ff0000" stroke="#ff0000" stroke-width="0.54"/>
<path d="M628.24,504.50 L632.89,507.05 L632.89,512.15 L628.24,514.70 L623.59,512.15 L623.59,507.05Z" fill="#fff" stroke="#ff0000" stroke-width="0.9"/>
<path d="M628.24,504.50 L632.89,507.05 L632.89,512.15 L628.24,514.70Z" fill="#ff0000" stroke="#ff0000" stroke-width="0.54"/>
<path d="M644.35,504.20 L649.00,506.75 L649.00,511.85 L644.35,514.40 L639.70,511.85 L639.70,506.75Z" fill="#fff" stroke="#ff0000" stroke-width="0.9"/>
<path d="M644.35,504.20 L649.00,506.75 L649.00,511.85 L644.35,514.40Z" fill="#ff0000" stroke="#ff0000" stroke-width="0.54"/>
<path d="M660.46,503.90 L665.11,506.45 L665.11,511.55 L660.46,514.10 L655.81,511.55 L655.81,506.45Z" fill="#fff" stroke="#ff0000" stroke-width="0.9"/>
<path d="M660.46,503.90 L665.11,506.45 L665.11,511.55 L660.46,514.10Z" fill="#ff0000" stroke="#ff0000" stroke-width="0.54"/>
<path d="M676.57,504.50 L681.22,507.05 L681.22,512.15 L676.57,514.70 L671.92,512.15 L671.92,507.05Z" fill="#fff" stroke="#ff0000" stroke-width="0.9"/>
<path d="M676.57,504.50 L681.22,507.05 L681.22,512.15 L676.57,514.70Z" fill="#ff0000" stroke="#ff0000" stroke-width="0.54"/>
</g>
<line x1="511.80" y1="395.70" x2="516.70" y2="395.70" stroke="#333" stroke-width="1.1"/>
<line x1="530.10" y1="395.70" x2="534.80" y2="395.70" stroke="#333" stroke-width="1.1"/>
<path d="M523.10,390.70 L527.75,393.25 L527.75,398.35 L523.10,400.90 L518.45,398.35 L518.45,393.25Z" fill="#fff" stroke="#ff0000" stroke-width="0.9"/>
<path d="M523.10,390.70 L527.75,393.25 L527.75,398.35 L523.10,400.90Z" fill="#ff0000" stroke="#ff0000" stroke-width="0.54"/>
<text x="538.90" y="399.60" font-size="10.3" text-anchor="start" fill="#000">Ru<tspan font-size="7.21" dy="3.40">(SA)</tspan><tspan dy="-3.40">-NiOMS @ 100 mA cm</tspan><tspan font-size="7.2" dy="-3.8">-2</tspan></text>
<text x="343.20" y="394.20" font-size="14.5" text-anchor="start" fill="#000">h</text>
</svg>
</body></html>
